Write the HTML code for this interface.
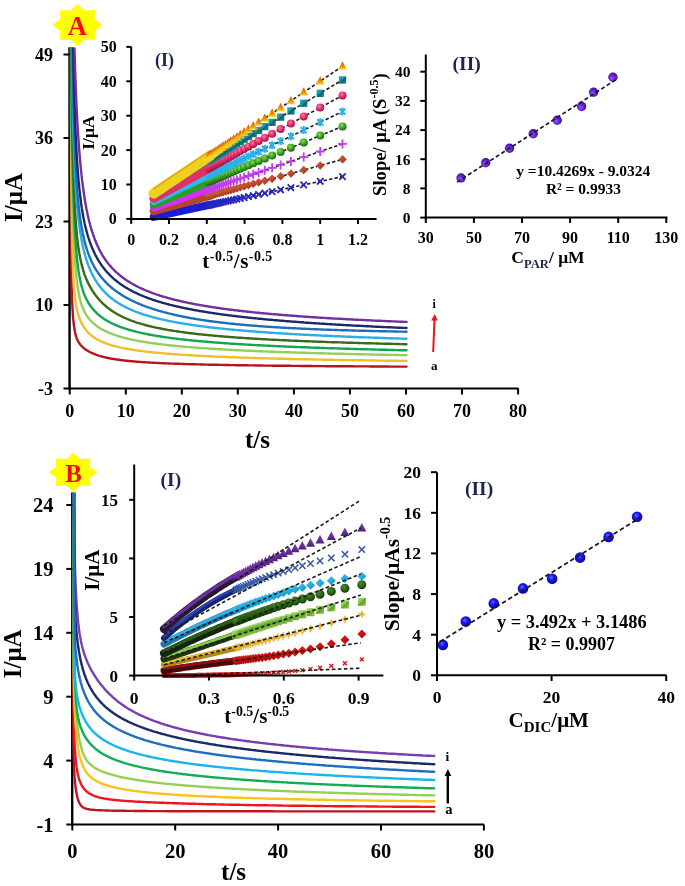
<!DOCTYPE html><html><head><meta charset="utf-8"><title>Chronoamperometry</title><style>html,body{margin:0;padding:0;background:#fff;}body{width:685px;height:886px;overflow:hidden;font-family:"Liberation Serif",serif;}svg{display:block;filter:blur(0.6px);}</style></head><body><svg width="685" height="886" viewBox="0 0 685 886" font-family="'Liberation Serif', serif"><defs>
<linearGradient id="gTri" x1="0" y1="0" x2="0" y2="1"><stop offset="0" stop-color="#c85a00"/><stop offset="0.65" stop-color="#f09010"/><stop offset="1" stop-color="#ffe020"/></linearGradient>
<linearGradient id="gSq" x1="0" y1="0" x2="1" y2="1"><stop offset="0" stop-color="#2ab0c0"/><stop offset="0.5" stop-color="#138898"/><stop offset="0.5" stop-color="#0c5c68"/><stop offset="1" stop-color="#1890a0"/></linearGradient>
<radialGradient id="gPink" cx="0.4" cy="0.35" r="0.65"><stop offset="0" stop-color="#ff7aa0"/><stop offset="0.6" stop-color="#e0286a"/><stop offset="1" stop-color="#a01040"/></radialGradient>
<radialGradient id="gGrn" cx="0.4" cy="0.35" r="0.65"><stop offset="0" stop-color="#80e050"/><stop offset="0.6" stop-color="#3aa020"/><stop offset="1" stop-color="#1c6010"/></radialGradient>
<linearGradient id="gDia" x1="0" y1="0" x2="1" y2="1"><stop offset="0" stop-color="#e06a40"/><stop offset="1" stop-color="#902a18"/></linearGradient>
<radialGradient id="gPur" cx="0.4" cy="0.6" r="0.65"><stop offset="0" stop-color="#9a50f8"/><stop offset="0.45" stop-color="#6a28d8"/><stop offset="0.85" stop-color="#4212a0"/><stop offset="1" stop-color="#2a0870"/></radialGradient>
<radialGradient id="gBlu" cx="0.42" cy="0.38" r="0.65"><stop offset="0" stop-color="#6068ff"/><stop offset="0.4" stop-color="#1818e8"/><stop offset="0.85" stop-color="#0a0ab0"/><stop offset="1" stop-color="#05057a"/></radialGradient>
<linearGradient id="gBTri" x1="0" y1="0" x2="0" y2="1"><stop offset="0" stop-color="#8040b8"/><stop offset="1" stop-color="#50207a"/></linearGradient>
<linearGradient id="gBDia" x1="0" y1="0" x2="1" y2="1"><stop offset="0" stop-color="#40c8f8"/><stop offset="1" stop-color="#0890c8"/></linearGradient>
<radialGradient id="gBGrn" cx="0.4" cy="0.35" r="0.65"><stop offset="0" stop-color="#4a8a30"/><stop offset="0.6" stop-color="#2a6014"/><stop offset="1" stop-color="#143808"/></radialGradient>
<linearGradient id="gBSq" x1="0" y1="0" x2="1" y2="1"><stop offset="0" stop-color="#a8e070"/><stop offset="0.5" stop-color="#80c040"/><stop offset="0.5" stop-color="#5a9a28"/><stop offset="1" stop-color="#90d050"/></linearGradient>
<linearGradient id="gBRed" x1="0" y1="0" x2="1" y2="1"><stop offset="0" stop-color="#f02020"/><stop offset="1" stop-color="#a00000"/></linearGradient>
<clipPath id="clip1"><rect x="66.7" y="47.6" width="344.8" height="340.9"/></clipPath><clipPath id="clip2"><rect x="69.3" y="492.8" width="369.9" height="331.7"/></clipPath></defs><rect width="685" height="886" fill="#fff"/>
<path d="M77.6,4.0 L84.7,10.6 L95.3,10.2 L94.7,19.1 L102.6,25.0 L94.7,30.9 L95.3,39.8 L84.7,39.4 L77.6,46.0 L70.5,39.4 L59.9,39.8 L60.5,30.9 L52.6,25.0 L60.5,19.1 L59.9,10.2 L70.5,10.6Z" fill="#ffff00"/>
<text x="77.4" y="34.6" font-size="26.5" text-anchor="middle" fill="#f01010" font-weight="bold" >A</text>
<line x1="153.8" y1="192.8" x2="342.5" y2="66.2" stroke="#1a1a1a" stroke-width="1.6" stroke-dasharray="3.4 2.2"/>
<line x1="153.8" y1="193.5" x2="342.5" y2="79.9" stroke="#1a1a1a" stroke-width="1.6" stroke-dasharray="3.4 2.2"/>
<line x1="153.8" y1="198.3" x2="342.5" y2="95.4" stroke="#1a1a1a" stroke-width="1.6" stroke-dasharray="3.4 2.2"/>
<line x1="153.8" y1="201.7" x2="342.5" y2="111.6" stroke="#1a1a1a" stroke-width="1.6" stroke-dasharray="3.4 2.2"/>
<line x1="153.8" y1="204.5" x2="342.5" y2="126.4" stroke="#1a1a1a" stroke-width="1.6" stroke-dasharray="3.4 2.2"/>
<line x1="153.8" y1="207.9" x2="342.5" y2="143.9" stroke="#1a1a1a" stroke-width="1.6" stroke-dasharray="3.4 2.2"/>
<line x1="153.8" y1="211.0" x2="342.5" y2="159.4" stroke="#1a1a1a" stroke-width="1.6" stroke-dasharray="3.4 2.2"/>
<line x1="153.8" y1="216.9" x2="342.5" y2="176.6" stroke="#1a1a1a" stroke-width="1.6" stroke-dasharray="3.4 2.2"/>
<path d="M153.8,216.9 L210.6,204.7" stroke="#1c1cd0" stroke-width="8" stroke-linecap="round" fill="none"/>
<path d="M205.2,202.0L211.6,208.4M205.2,208.4L211.6,202.0" stroke="#2626c0" stroke-width="1.8" fill="none"/><path d="M206.5,201.7L212.9,208.1M206.5,208.1L212.9,201.7" stroke="#2626c0" stroke-width="1.8" fill="none"/><path d="M207.9,201.4L214.3,207.8M207.9,207.8L214.3,201.4" stroke="#2626c0" stroke-width="1.8" fill="none"/><path d="M209.3,201.1L215.7,207.5M209.3,207.5L215.7,201.1" stroke="#2626c0" stroke-width="1.8" fill="none"/><path d="M210.9,200.8L217.3,207.2M210.9,207.2L217.3,200.8" stroke="#2626c0" stroke-width="1.8" fill="none"/><path d="M212.5,200.4L218.9,206.8M212.5,206.8L218.9,200.4" stroke="#2626c0" stroke-width="1.8" fill="none"/><path d="M214.3,200.1L220.7,206.5M214.3,206.5L220.7,200.1" stroke="#2626c0" stroke-width="1.8" fill="none"/><path d="M216.1,199.7L222.5,206.1M216.1,206.1L222.5,199.7" stroke="#2626c0" stroke-width="1.8" fill="none"/><path d="M218.1,199.2L224.5,205.6M218.1,205.6L224.5,199.2" stroke="#2626c0" stroke-width="1.8" fill="none"/><path d="M220.2,198.8L226.6,205.2M220.2,205.2L226.6,198.8" stroke="#2626c0" stroke-width="1.8" fill="none"/><path d="M222.5,198.3L228.9,204.7M222.5,204.7L228.9,198.3" stroke="#2626c0" stroke-width="1.8" fill="none"/><path d="M225.0,197.8L231.4,204.2M225.0,204.2L231.4,197.8" stroke="#2626c0" stroke-width="1.8" fill="none"/><path d="M227.6,197.2L234.0,203.6M227.6,203.6L234.0,197.2" stroke="#2626c0" stroke-width="1.8" fill="none"/><path d="M230.5,196.6L236.9,203.0M230.5,203.0L236.9,196.6" stroke="#2626c0" stroke-width="1.8" fill="none"/><path d="M233.7,195.9L240.1,202.3M233.7,202.3L240.1,195.9" stroke="#2626c0" stroke-width="1.8" fill="none"/><path d="M237.1,195.2L243.5,201.6M237.1,201.6L243.5,195.2" stroke="#2626c0" stroke-width="1.8" fill="none"/><path d="M240.9,194.4L247.3,200.8M240.9,200.8L247.3,194.4" stroke="#2626c0" stroke-width="1.8" fill="none"/><path d="M245.2,193.5L251.6,199.9M245.2,199.9L251.6,193.5" stroke="#2626c0" stroke-width="1.8" fill="none"/><path d="M250.0,192.4L256.4,198.8M250.0,198.8L256.4,192.4" stroke="#2626c0" stroke-width="1.8" fill="none"/><path d="M255.4,191.3L261.8,197.7M255.4,197.7L261.8,191.3" stroke="#2626c0" stroke-width="1.8" fill="none"/><path d="M261.6,190.0L268.0,196.4M261.6,196.4L268.0,190.0" stroke="#2626c0" stroke-width="1.8" fill="none"/><path d="M268.9,188.4L275.3,194.8M268.9,194.8L275.3,188.4" stroke="#2626c0" stroke-width="1.8" fill="none"/><path d="M277.4,186.6L283.8,193.0M277.4,193.0L283.8,186.6" stroke="#2626c0" stroke-width="1.8" fill="none"/><path d="M287.7,184.4L294.1,190.8M287.7,190.8L294.1,184.4" stroke="#2626c0" stroke-width="1.8" fill="none"/><path d="M300.5,181.7L306.9,188.1M300.5,188.1L306.9,181.7" stroke="#2626c0" stroke-width="1.8" fill="none"/><path d="M317.0,178.1L323.4,184.5M317.0,184.5L323.4,178.1" stroke="#2626c0" stroke-width="1.8" fill="none"/><path d="M339.3,173.4L345.7,179.8M339.3,179.8L345.7,173.4" stroke="#2626c0" stroke-width="1.8" fill="none"/>
<path d="M153.8,211.0 L210.6,195.5" stroke="#b4452a" stroke-width="8.5" stroke-linecap="round" fill="none"/>
<path d="M208.4,191.8 L212.6,196.1 L208.4,200.3 L204.1,196.1Z" fill="url(#gDia)"/><path d="M209.7,191.5 L213.9,195.7 L209.7,200.0 L205.4,195.7Z" fill="url(#gDia)"/><path d="M211.1,191.1 L215.3,195.3 L211.1,199.6 L206.8,195.3Z" fill="url(#gDia)"/><path d="M212.5,190.7 L216.8,194.9 L212.5,199.2 L208.3,194.9Z" fill="url(#gDia)"/><path d="M214.1,190.3 L218.3,194.5 L214.1,198.8 L209.8,194.5Z" fill="url(#gDia)"/><path d="M215.7,189.8 L220.0,194.1 L215.7,198.3 L211.5,194.1Z" fill="url(#gDia)"/><path d="M217.5,189.3 L221.7,193.6 L217.5,197.8 L213.2,193.6Z" fill="url(#gDia)"/><path d="M219.3,188.8 L223.6,193.1 L219.3,197.3 L215.1,193.1Z" fill="url(#gDia)"/><path d="M221.3,188.3 L225.6,192.5 L221.3,196.8 L217.1,192.5Z" fill="url(#gDia)"/><path d="M223.4,187.7 L227.7,192.0 L223.4,196.2 L219.2,192.0Z" fill="url(#gDia)"/><path d="M225.7,187.1 L229.9,191.3 L225.7,195.6 L221.4,191.3Z" fill="url(#gDia)"/><path d="M228.2,186.4 L232.4,190.7 L228.2,194.9 L223.9,190.7Z" fill="url(#gDia)"/><path d="M230.8,185.7 L235.1,189.9 L230.8,194.2 L226.6,189.9Z" fill="url(#gDia)"/><path d="M233.7,184.9 L237.9,189.2 L233.7,193.4 L229.4,189.2Z" fill="url(#gDia)"/><path d="M236.9,184.0 L241.1,188.3 L236.9,192.5 L232.6,188.3Z" fill="url(#gDia)"/><path d="M240.3,183.1 L244.6,187.3 L240.3,191.6 L236.1,187.3Z" fill="url(#gDia)"/><path d="M244.1,182.0 L248.4,186.3 L244.1,190.5 L239.9,186.3Z" fill="url(#gDia)"/><path d="M248.4,180.9 L252.7,185.1 L248.4,189.4 L244.2,185.1Z" fill="url(#gDia)"/><path d="M253.2,179.6 L257.4,183.8 L253.2,188.1 L248.9,183.8Z" fill="url(#gDia)"/><path d="M258.6,178.1 L262.9,182.3 L258.6,186.6 L254.4,182.3Z" fill="url(#gDia)"/><path d="M264.8,176.4 L269.1,180.6 L264.8,184.9 L260.6,180.6Z" fill="url(#gDia)"/><path d="M272.1,174.4 L276.3,178.7 L272.1,182.9 L267.8,178.7Z" fill="url(#gDia)"/><path d="M280.6,172.1 L284.9,176.3 L280.6,180.6 L276.4,176.3Z" fill="url(#gDia)"/><path d="M290.9,169.2 L295.2,173.5 L290.9,177.7 L286.7,173.5Z" fill="url(#gDia)"/><path d="M303.7,165.7 L308.0,170.0 L303.7,174.2 L299.5,170.0Z" fill="url(#gDia)"/><path d="M320.2,161.2 L324.4,165.5 L320.2,169.7 L315.9,165.5Z" fill="url(#gDia)"/><path d="M342.5,155.1 L346.8,159.4 L342.5,163.6 L338.3,159.4Z" fill="url(#gDia)"/>
<path d="M153.8,207.9 L210.6,188.7" stroke="#d030f8" stroke-width="7.5" stroke-linecap="round" fill="none"/>
<path d="M203.9,189.4H212.9M208.4,184.9V193.9" stroke="#c03ef0" stroke-width="1.8" fill="none"/><path d="M205.2,189.0H214.2M209.7,184.5V193.5" stroke="#c03ef0" stroke-width="1.8" fill="none"/><path d="M206.6,188.5H215.6M211.1,184.0V193.0" stroke="#c03ef0" stroke-width="1.8" fill="none"/><path d="M208.0,188.0H217.0M212.5,183.5V192.5" stroke="#c03ef0" stroke-width="1.8" fill="none"/><path d="M209.6,187.5H218.6M214.1,183.0V192.0" stroke="#c03ef0" stroke-width="1.8" fill="none"/><path d="M211.2,186.9H220.2M215.7,182.4V191.4" stroke="#c03ef0" stroke-width="1.8" fill="none"/><path d="M213.0,186.3H222.0M217.5,181.8V190.8" stroke="#c03ef0" stroke-width="1.8" fill="none"/><path d="M214.8,185.7H223.8M219.3,181.2V190.2" stroke="#c03ef0" stroke-width="1.8" fill="none"/><path d="M216.8,185.0H225.8M221.3,180.5V189.5" stroke="#c03ef0" stroke-width="1.8" fill="none"/><path d="M218.9,184.3H227.9M223.4,179.8V188.8" stroke="#c03ef0" stroke-width="1.8" fill="none"/><path d="M221.2,183.5H230.2M225.7,179.0V188.0" stroke="#c03ef0" stroke-width="1.8" fill="none"/><path d="M223.7,182.7H232.7M228.2,178.2V187.2" stroke="#c03ef0" stroke-width="1.8" fill="none"/><path d="M226.3,181.8H235.3M230.8,177.3V186.3" stroke="#c03ef0" stroke-width="1.8" fill="none"/><path d="M229.2,180.8H238.2M233.7,176.3V185.3" stroke="#c03ef0" stroke-width="1.8" fill="none"/><path d="M232.4,179.7H241.4M236.9,175.2V184.2" stroke="#c03ef0" stroke-width="1.8" fill="none"/><path d="M235.8,178.6H244.8M240.3,174.1V183.1" stroke="#c03ef0" stroke-width="1.8" fill="none"/><path d="M239.6,177.3H248.6M244.1,172.8V181.8" stroke="#c03ef0" stroke-width="1.8" fill="none"/><path d="M243.9,175.8H252.9M248.4,171.3V180.3" stroke="#c03ef0" stroke-width="1.8" fill="none"/><path d="M248.7,174.2H257.7M253.2,169.7V178.7" stroke="#c03ef0" stroke-width="1.8" fill="none"/><path d="M254.1,172.4H263.1M258.6,167.9V176.9" stroke="#c03ef0" stroke-width="1.8" fill="none"/><path d="M260.3,170.3H269.3M264.8,165.8V174.8" stroke="#c03ef0" stroke-width="1.8" fill="none"/><path d="M267.6,167.8H276.6M272.1,163.3V172.3" stroke="#c03ef0" stroke-width="1.8" fill="none"/><path d="M276.1,164.9H285.1M280.6,160.4V169.4" stroke="#c03ef0" stroke-width="1.8" fill="none"/><path d="M286.4,161.4H295.4M290.9,156.9V165.9" stroke="#c03ef0" stroke-width="1.8" fill="none"/><path d="M299.2,157.1H308.2M303.7,152.6V161.6" stroke="#c03ef0" stroke-width="1.8" fill="none"/><path d="M315.7,151.5H324.7M320.2,147.0V156.0" stroke="#c03ef0" stroke-width="1.8" fill="none"/><path d="M338.0,143.9H347.0M342.5,139.4V148.4" stroke="#c03ef0" stroke-width="1.8" fill="none"/>
<path d="M153.8,204.5 L210.6,181.0" stroke="#2a9e1e" stroke-width="8" stroke-linecap="round" fill="none"/>
<circle cx="208.4" cy="181.9" r="4.0" fill="url(#gGrn)"/><circle cx="209.7" cy="181.4" r="4.0" fill="url(#gGrn)"/><circle cx="211.1" cy="180.8" r="4.0" fill="url(#gGrn)"/><circle cx="212.5" cy="180.2" r="4.0" fill="url(#gGrn)"/><circle cx="214.1" cy="179.5" r="4.0" fill="url(#gGrn)"/><circle cx="215.7" cy="178.8" r="4.0" fill="url(#gGrn)"/><circle cx="217.5" cy="178.1" r="4.0" fill="url(#gGrn)"/><circle cx="219.3" cy="177.4" r="4.0" fill="url(#gGrn)"/><circle cx="221.3" cy="176.5" r="4.0" fill="url(#gGrn)"/><circle cx="223.4" cy="175.7" r="4.0" fill="url(#gGrn)"/><circle cx="225.7" cy="174.7" r="4.0" fill="url(#gGrn)"/><circle cx="228.2" cy="173.7" r="4.0" fill="url(#gGrn)"/><circle cx="230.8" cy="172.6" r="4.0" fill="url(#gGrn)"/><circle cx="233.7" cy="171.4" r="4.0" fill="url(#gGrn)"/><circle cx="236.9" cy="170.1" r="4.0" fill="url(#gGrn)"/><circle cx="240.3" cy="168.7" r="4.0" fill="url(#gGrn)"/><circle cx="244.1" cy="167.1" r="4.0" fill="url(#gGrn)"/><circle cx="248.4" cy="165.3" r="4.0" fill="url(#gGrn)"/><circle cx="253.2" cy="163.3" r="4.0" fill="url(#gGrn)"/><circle cx="258.6" cy="161.1" r="4.0" fill="url(#gGrn)"/><circle cx="264.8" cy="158.5" r="4.0" fill="url(#gGrn)"/><circle cx="272.1" cy="155.5" r="4.0" fill="url(#gGrn)"/><circle cx="280.6" cy="152.0" r="4.0" fill="url(#gGrn)"/><circle cx="290.9" cy="147.7" r="4.0" fill="url(#gGrn)"/><circle cx="303.7" cy="142.4" r="4.0" fill="url(#gGrn)"/><circle cx="320.2" cy="135.6" r="4.0" fill="url(#gGrn)"/><circle cx="342.5" cy="126.4" r="4.0" fill="url(#gGrn)"/>
<path d="M153.8,201.7 L210.6,174.6" stroke="#30b8ee" stroke-width="7" stroke-linecap="round" fill="none"/>
<path d="M208.4,171.7V179.7M205.4,172.7L211.4,178.7M205.4,178.7L211.4,172.7" stroke="#2ab0ea" stroke-width="2" fill="none"/><path d="M209.7,171.0V179.0M206.7,172.0L212.7,178.0M206.7,178.0L212.7,172.0" stroke="#2ab0ea" stroke-width="2" fill="none"/><path d="M211.1,170.4V178.4M208.1,171.4L214.1,177.4M208.1,177.4L214.1,171.4" stroke="#2ab0ea" stroke-width="2" fill="none"/><path d="M212.5,169.7V177.7M209.5,170.7L215.5,176.7M209.5,176.7L215.5,170.7" stroke="#2ab0ea" stroke-width="2" fill="none"/><path d="M214.1,168.9V176.9M211.1,169.9L217.1,175.9M211.1,175.9L217.1,169.9" stroke="#2ab0ea" stroke-width="2" fill="none"/><path d="M215.7,168.1V176.1M212.7,169.1L218.7,175.1M212.7,175.1L218.7,169.1" stroke="#2ab0ea" stroke-width="2" fill="none"/><path d="M217.5,167.3V175.3M214.5,168.3L220.5,174.3M214.5,174.3L220.5,168.3" stroke="#2ab0ea" stroke-width="2" fill="none"/><path d="M219.3,166.4V174.4M216.3,167.4L222.3,173.4M216.3,173.4L222.3,167.4" stroke="#2ab0ea" stroke-width="2" fill="none"/><path d="M221.3,165.5V173.5M218.3,166.5L224.3,172.5M218.3,172.5L224.3,166.5" stroke="#2ab0ea" stroke-width="2" fill="none"/><path d="M223.4,164.5V172.5M220.4,165.5L226.4,171.5M220.4,171.5L226.4,165.5" stroke="#2ab0ea" stroke-width="2" fill="none"/><path d="M225.7,163.4V171.4M222.7,164.4L228.7,170.4M222.7,170.4L228.7,164.4" stroke="#2ab0ea" stroke-width="2" fill="none"/><path d="M228.2,162.2V170.2M225.2,163.2L231.2,169.2M225.2,169.2L231.2,163.2" stroke="#2ab0ea" stroke-width="2" fill="none"/><path d="M230.8,160.9V168.9M227.8,161.9L233.8,167.9M227.8,167.9L233.8,161.9" stroke="#2ab0ea" stroke-width="2" fill="none"/><path d="M233.7,159.6V167.6M230.7,160.6L236.7,166.6M230.7,166.6L236.7,160.6" stroke="#2ab0ea" stroke-width="2" fill="none"/><path d="M236.9,158.1V166.1M233.9,159.1L239.9,165.1M233.9,165.1L239.9,159.1" stroke="#2ab0ea" stroke-width="2" fill="none"/><path d="M240.3,156.4V164.4M237.3,157.4L243.3,163.4M237.3,163.4L243.3,157.4" stroke="#2ab0ea" stroke-width="2" fill="none"/><path d="M244.1,154.6V162.6M241.1,155.6L247.1,161.6M241.1,161.6L247.1,155.6" stroke="#2ab0ea" stroke-width="2" fill="none"/><path d="M248.4,152.5V160.5M245.4,153.5L251.4,159.5M245.4,159.5L251.4,153.5" stroke="#2ab0ea" stroke-width="2" fill="none"/><path d="M253.2,150.2V158.2M250.2,151.2L256.2,157.2M250.2,157.2L256.2,151.2" stroke="#2ab0ea" stroke-width="2" fill="none"/><path d="M258.6,147.7V155.7M255.6,148.7L261.6,154.7M255.6,154.7L261.6,148.7" stroke="#2ab0ea" stroke-width="2" fill="none"/><path d="M264.8,144.7V152.7M261.8,145.7L267.8,151.7M261.8,151.7L267.8,145.7" stroke="#2ab0ea" stroke-width="2" fill="none"/><path d="M272.1,141.2V149.2M269.1,142.2L275.1,148.2M269.1,148.2L275.1,142.2" stroke="#2ab0ea" stroke-width="2" fill="none"/><path d="M280.6,137.1V145.1M277.6,138.1L283.6,144.1M277.6,144.1L283.6,138.1" stroke="#2ab0ea" stroke-width="2" fill="none"/><path d="M290.9,132.2V140.2M287.9,133.2L293.9,139.2M287.9,139.2L293.9,133.2" stroke="#2ab0ea" stroke-width="2" fill="none"/><path d="M303.7,126.1V134.1M300.7,127.1L306.7,133.1M300.7,133.1L306.7,127.1" stroke="#2ab0ea" stroke-width="2" fill="none"/><path d="M320.2,118.2V126.2M317.2,119.2L323.2,125.2M317.2,125.2L323.2,119.2" stroke="#2ab0ea" stroke-width="2" fill="none"/><path d="M342.5,107.6V115.6M339.5,108.6L345.5,114.6M339.5,114.6L345.5,108.6" stroke="#2ab0ea" stroke-width="2" fill="none"/>
<path d="M153.8,198.3 L210.6,167.3" stroke="#e0306c" stroke-width="9" stroke-linecap="round" fill="none"/>
<circle cx="208.4" cy="168.6" r="4.0" fill="url(#gPink)"/><circle cx="209.7" cy="167.8" r="4.0" fill="url(#gPink)"/><circle cx="211.1" cy="167.1" r="4.0" fill="url(#gPink)"/><circle cx="212.5" cy="166.3" r="4.0" fill="url(#gPink)"/><circle cx="214.1" cy="165.4" r="4.0" fill="url(#gPink)"/><circle cx="215.7" cy="164.5" r="4.0" fill="url(#gPink)"/><circle cx="217.5" cy="163.6" r="4.0" fill="url(#gPink)"/><circle cx="219.3" cy="162.6" r="4.0" fill="url(#gPink)"/><circle cx="221.3" cy="161.5" r="4.0" fill="url(#gPink)"/><circle cx="223.4" cy="160.3" r="4.0" fill="url(#gPink)"/><circle cx="225.7" cy="159.1" r="4.0" fill="url(#gPink)"/><circle cx="228.2" cy="157.8" r="4.0" fill="url(#gPink)"/><circle cx="230.8" cy="156.3" r="4.0" fill="url(#gPink)"/><circle cx="233.7" cy="154.7" r="4.0" fill="url(#gPink)"/><circle cx="236.9" cy="153.0" r="4.0" fill="url(#gPink)"/><circle cx="240.3" cy="151.1" r="4.0" fill="url(#gPink)"/><circle cx="244.1" cy="149.0" r="4.0" fill="url(#gPink)"/><circle cx="248.4" cy="146.7" r="4.0" fill="url(#gPink)"/><circle cx="253.2" cy="144.1" r="4.0" fill="url(#gPink)"/><circle cx="258.6" cy="141.1" r="4.0" fill="url(#gPink)"/><circle cx="264.8" cy="137.8" r="4.0" fill="url(#gPink)"/><circle cx="272.1" cy="133.8" r="4.0" fill="url(#gPink)"/><circle cx="280.6" cy="129.1" r="4.0" fill="url(#gPink)"/><circle cx="290.9" cy="123.5" r="4.0" fill="url(#gPink)"/><circle cx="303.7" cy="116.5" r="4.0" fill="url(#gPink)"/><circle cx="320.2" cy="107.6" r="4.0" fill="url(#gPink)"/><circle cx="342.5" cy="95.4" r="4.0" fill="url(#gPink)"/>
<path d="M153.8,193.5 L210.6,159.3" stroke="#1898a8" stroke-width="5.5" stroke-linecap="round" fill="none"/>
<rect x="204.7" y="157.0" width="7.3" height="7.3" fill="url(#gSq)"/><rect x="206.0" y="156.2" width="7.3" height="7.3" fill="url(#gSq)"/><rect x="207.4" y="155.4" width="7.3" height="7.3" fill="url(#gSq)"/><rect x="208.9" y="154.5" width="7.3" height="7.3" fill="url(#gSq)"/><rect x="210.4" y="153.6" width="7.3" height="7.3" fill="url(#gSq)"/><rect x="212.1" y="152.6" width="7.3" height="7.3" fill="url(#gSq)"/><rect x="213.8" y="151.5" width="7.3" height="7.3" fill="url(#gSq)"/><rect x="215.7" y="150.4" width="7.3" height="7.3" fill="url(#gSq)"/><rect x="217.7" y="149.2" width="7.3" height="7.3" fill="url(#gSq)"/><rect x="219.8" y="147.9" width="7.3" height="7.3" fill="url(#gSq)"/><rect x="222.0" y="146.6" width="7.3" height="7.3" fill="url(#gSq)"/><rect x="224.5" y="145.1" width="7.3" height="7.3" fill="url(#gSq)"/><rect x="227.2" y="143.5" width="7.3" height="7.3" fill="url(#gSq)"/><rect x="230.0" y="141.8" width="7.3" height="7.3" fill="url(#gSq)"/><rect x="233.2" y="139.9" width="7.3" height="7.3" fill="url(#gSq)"/><rect x="236.7" y="137.8" width="7.3" height="7.3" fill="url(#gSq)"/><rect x="240.5" y="135.5" width="7.3" height="7.3" fill="url(#gSq)"/><rect x="244.8" y="132.9" width="7.3" height="7.3" fill="url(#gSq)"/><rect x="249.5" y="130.0" width="7.3" height="7.3" fill="url(#gSq)"/><rect x="255.0" y="126.8" width="7.3" height="7.3" fill="url(#gSq)"/><rect x="261.2" y="123.0" width="7.3" height="7.3" fill="url(#gSq)"/><rect x="268.4" y="118.7" width="7.3" height="7.3" fill="url(#gSq)"/><rect x="277.0" y="113.5" width="7.3" height="7.3" fill="url(#gSq)"/><rect x="287.3" y="107.3" width="7.3" height="7.3" fill="url(#gSq)"/><rect x="300.1" y="99.6" width="7.3" height="7.3" fill="url(#gSq)"/><rect x="316.6" y="89.7" width="7.3" height="7.3" fill="url(#gSq)"/><rect x="338.9" y="76.3" width="7.3" height="7.3" fill="url(#gSq)"/>
<path d="M153.8,193.4 L210.6,155.3" stroke="#ecd21c" stroke-width="10.5" stroke-linecap="round" fill="none"/>
<path d="M153.8,188.6 L210.6,150.5" stroke="#e8a018" stroke-width="1.5" stroke-linecap="round" fill="none"/>
<path d="M208.4,151.3 L212.8,159.7 L204.0,159.7Z" fill="url(#gTri)"/><path d="M209.7,150.4 L214.1,158.8 L205.3,158.8Z" fill="url(#gTri)"/><path d="M211.1,149.5 L215.5,157.9 L206.7,157.9Z" fill="url(#gTri)"/><path d="M212.5,148.5 L216.9,156.9 L208.1,156.9Z" fill="url(#gTri)"/><path d="M214.1,147.5 L218.5,155.9 L209.7,155.9Z" fill="url(#gTri)"/><path d="M215.7,146.4 L220.1,154.8 L211.3,154.8Z" fill="url(#gTri)"/><path d="M217.5,145.2 L221.9,153.6 L213.1,153.6Z" fill="url(#gTri)"/><path d="M219.3,143.9 L223.7,152.4 L214.9,152.4Z" fill="url(#gTri)"/><path d="M221.3,142.6 L225.7,151.0 L216.9,151.0Z" fill="url(#gTri)"/><path d="M223.4,141.2 L227.8,149.6 L219.0,149.6Z" fill="url(#gTri)"/><path d="M225.7,139.7 L230.1,148.1 L221.3,148.1Z" fill="url(#gTri)"/><path d="M228.2,138.0 L232.6,146.4 L223.8,146.4Z" fill="url(#gTri)"/><path d="M230.8,136.2 L235.2,144.6 L226.4,144.6Z" fill="url(#gTri)"/><path d="M233.7,134.3 L238.1,142.7 L229.3,142.7Z" fill="url(#gTri)"/><path d="M236.9,132.2 L241.3,140.6 L232.5,140.6Z" fill="url(#gTri)"/><path d="M240.3,129.8 L244.7,138.3 L235.9,138.3Z" fill="url(#gTri)"/><path d="M244.1,127.3 L248.5,135.7 L239.7,135.7Z" fill="url(#gTri)"/><path d="M248.4,124.4 L252.8,132.8 L244.0,132.8Z" fill="url(#gTri)"/><path d="M253.2,121.2 L257.6,129.6 L248.8,129.6Z" fill="url(#gTri)"/><path d="M258.6,117.6 L263.0,126.0 L254.2,126.0Z" fill="url(#gTri)"/><path d="M264.8,113.4 L269.2,121.8 L260.4,121.8Z" fill="url(#gTri)"/><path d="M272.1,108.5 L276.5,117.0 L267.7,117.0Z" fill="url(#gTri)"/><path d="M280.6,102.8 L285.0,111.2 L276.2,111.2Z" fill="url(#gTri)"/><path d="M290.9,95.9 L295.3,104.3 L286.5,104.3Z" fill="url(#gTri)"/><path d="M303.7,87.3 L308.1,95.7 L299.3,95.7Z" fill="url(#gTri)"/><path d="M320.2,76.2 L324.6,84.7 L315.8,84.7Z" fill="url(#gTri)"/><path d="M342.5,61.3 L346.9,69.7 L338.1,69.7Z" fill="url(#gTri)"/>
<line x1="131.2" y1="46.7" x2="131.2" y2="219.9" stroke="#000" stroke-width="2" />
<line x1="130.2" y1="218.9" x2="376.6" y2="218.9" stroke="#000" stroke-width="2" />
<line x1="126.3" y1="218.9" x2="131.2" y2="218.9" stroke="#000" stroke-width="2" />
<text x="116.8" y="224.4" font-size="16" text-anchor="end" fill="#000" font-weight="bold" >0</text>
<line x1="126.3" y1="184.5" x2="131.2" y2="184.5" stroke="#000" stroke-width="2" />
<text x="116.8" y="190" font-size="16" text-anchor="end" fill="#000" font-weight="bold" >10</text>
<line x1="126.3" y1="150.1" x2="131.2" y2="150.1" stroke="#000" stroke-width="2" />
<text x="116.8" y="155.6" font-size="16" text-anchor="end" fill="#000" font-weight="bold" >20</text>
<line x1="126.3" y1="115.7" x2="131.2" y2="115.7" stroke="#000" stroke-width="2" />
<text x="116.8" y="121.2" font-size="16" text-anchor="end" fill="#000" font-weight="bold" >30</text>
<line x1="126.3" y1="81.3" x2="131.2" y2="81.3" stroke="#000" stroke-width="2" />
<text x="116.8" y="86.8" font-size="16" text-anchor="end" fill="#000" font-weight="bold" >40</text>
<line x1="126.3" y1="46.9" x2="131.2" y2="46.9" stroke="#000" stroke-width="2" />
<text x="116.8" y="52.4" font-size="16" text-anchor="end" fill="#000" font-weight="bold" >50</text>
<line x1="131.2" y1="218.9" x2="131.2" y2="223.9" stroke="#000" stroke-width="2" />
<text x="131.2" y="245" font-size="16" text-anchor="middle" fill="#000" font-weight="bold" >0</text>
<line x1="169" y1="218.9" x2="169" y2="223.9" stroke="#000" stroke-width="2" />
<text x="169" y="245" font-size="16" text-anchor="middle" fill="#000" font-weight="bold" >0.2</text>
<line x1="206.8" y1="218.9" x2="206.8" y2="223.9" stroke="#000" stroke-width="2" />
<text x="206.8" y="245" font-size="16" text-anchor="middle" fill="#000" font-weight="bold" >0.4</text>
<line x1="244.6" y1="218.9" x2="244.6" y2="223.9" stroke="#000" stroke-width="2" />
<text x="244.6" y="245" font-size="16" text-anchor="middle" fill="#000" font-weight="bold" >0.6</text>
<line x1="282.4" y1="218.9" x2="282.4" y2="223.9" stroke="#000" stroke-width="2" />
<text x="282.4" y="245" font-size="16" text-anchor="middle" fill="#000" font-weight="bold" >0.8</text>
<line x1="320.2" y1="218.9" x2="320.2" y2="223.9" stroke="#000" stroke-width="2" />
<text x="320.2" y="245" font-size="16" text-anchor="middle" fill="#000" font-weight="bold" >1</text>
<line x1="358" y1="218.9" x2="358" y2="223.9" stroke="#000" stroke-width="2" />
<text x="358" y="245" font-size="16" text-anchor="middle" fill="#000" font-weight="bold" >1.2</text>
<text x="155" y="66" font-size="18" text-anchor="start" fill="#1b2550" font-weight="bold" >(I)</text>
<text x="94.4" y="132.6" font-size="17.5" text-anchor="middle" fill="#000" font-weight="bold" transform="rotate(-90 94.4 132.6)">I/&#956;A</text>
<text x="202.3" y="267.9" font-size="21" text-anchor="start" font-weight="bold" letter-spacing="0.5"><tspan dy="0">t</tspan><tspan dy="-6.9" font-size="13.9">-0.5</tspan><tspan dy="6.9">/s</tspan><tspan dy="-6.9" font-size="13.9">-0.5</tspan></text>
<circle cx="461" cy="178" r="4.7" fill="url(#gPur)"/>
<circle cx="485.7" cy="162.7" r="4.7" fill="url(#gPur)"/>
<circle cx="509.5" cy="148.2" r="4.7" fill="url(#gPur)"/>
<circle cx="533.2" cy="133.8" r="4.7" fill="url(#gPur)"/>
<circle cx="557.2" cy="120.3" r="4.7" fill="url(#gPur)"/>
<circle cx="581.6" cy="106.5" r="4.7" fill="url(#gPur)"/>
<circle cx="593.6" cy="92.2" r="4.7" fill="url(#gPur)"/>
<circle cx="612.9" cy="77.3" r="4.7" fill="url(#gPur)"/>
<line x1="457" y1="182.1" x2="615.5" y2="79.9" stroke="#1a1a1a" stroke-width="1.7" stroke-dasharray="4 2.6"/>
<line x1="425.8" y1="54.5" x2="425.8" y2="218.6" stroke="#000" stroke-width="2" />
<line x1="424.8" y1="217.6" x2="667.4" y2="217.6" stroke="#000" stroke-width="2" />
<line x1="420.3" y1="217.6" x2="425.8" y2="217.6" stroke="#000" stroke-width="2" />
<text x="410.5" y="222.9" font-size="15.5" text-anchor="end" fill="#000" font-weight="bold" >0</text>
<line x1="420.3" y1="188.4" x2="425.8" y2="188.4" stroke="#000" stroke-width="2" />
<text x="410.5" y="193.7" font-size="15.5" text-anchor="end" fill="#000" font-weight="bold" >8</text>
<line x1="420.3" y1="159.2" x2="425.8" y2="159.2" stroke="#000" stroke-width="2" />
<text x="410.5" y="164.5" font-size="15.5" text-anchor="end" fill="#000" font-weight="bold" >16</text>
<line x1="420.3" y1="130.1" x2="425.8" y2="130.1" stroke="#000" stroke-width="2" />
<text x="410.5" y="135.4" font-size="15.5" text-anchor="end" fill="#000" font-weight="bold" >24</text>
<line x1="420.3" y1="100.9" x2="425.8" y2="100.9" stroke="#000" stroke-width="2" />
<text x="410.5" y="106.2" font-size="15.5" text-anchor="end" fill="#000" font-weight="bold" >32</text>
<line x1="420.3" y1="71.7" x2="425.8" y2="71.7" stroke="#000" stroke-width="2" />
<text x="410.5" y="77" font-size="15.5" text-anchor="end" fill="#000" font-weight="bold" >40</text>
<line x1="425.8" y1="217.6" x2="425.8" y2="223" stroke="#000" stroke-width="2" />
<text x="425.8" y="243.3" font-size="16" text-anchor="middle" fill="#000" font-weight="bold" >30</text>
<line x1="473.9" y1="217.6" x2="473.9" y2="223" stroke="#000" stroke-width="2" />
<text x="473.9" y="243.3" font-size="16" text-anchor="middle" fill="#000" font-weight="bold" >50</text>
<line x1="522" y1="217.6" x2="522" y2="223" stroke="#000" stroke-width="2" />
<text x="522" y="243.3" font-size="16" text-anchor="middle" fill="#000" font-weight="bold" >70</text>
<line x1="570.1" y1="217.6" x2="570.1" y2="223" stroke="#000" stroke-width="2" />
<text x="570.1" y="243.3" font-size="16" text-anchor="middle" fill="#000" font-weight="bold" >90</text>
<line x1="618.2" y1="217.6" x2="618.2" y2="223" stroke="#000" stroke-width="2" />
<text x="618.2" y="243.3" font-size="16" text-anchor="middle" fill="#000" font-weight="bold" >110</text>
<line x1="666.3" y1="217.6" x2="666.3" y2="223" stroke="#000" stroke-width="2" />
<text x="666.3" y="243.3" font-size="16" text-anchor="middle" fill="#000" font-weight="bold" >130</text>
<text x="452.6" y="69.6" font-size="19.5" text-anchor="start" fill="#1b2550" font-weight="bold" >(II)</text>
<text x="386.3" y="195.9" font-size="18.6" text-anchor="start" font-weight="bold" transform="rotate(-90 386.3 195.9)"><tspan dy="0">Slope/ &#956;A (S</tspan><tspan dy="-7.8" font-size="12.1">-0.5</tspan><tspan dy="7.8">)</tspan></text>
<text x="511.3" y="263.4" font-size="17.5" text-anchor="start" font-weight="bold" ><tspan dy="0">C</tspan><tspan dy="4.4" font-size="12.6" fill="#1b2550">PAR</tspan><tspan dy="-4.4">/ &#956;M</tspan></text>
<text x="516.2" y="176" font-size="15.5" text-anchor="start" fill="#000" font-weight="bold" >y =10.4269x - 9.0324</text>
<text x="545.9" y="193.5" font-size="15.5" text-anchor="start" fill="#000" font-weight="bold" >R&#178; = 0.9933</text>
<line x1="69.7" y1="47.6" x2="69.7" y2="389.5" stroke="#000" stroke-width="2.2" />
<line x1="68.7" y1="388.5" x2="518.5" y2="388.5" stroke="#000" stroke-width="2.2" />
<g clip-path="url(#clip1)">
<path d="M70,17.6 L70,20 L70,21.7 L70.1,23.5 L70.1,25.2 L70.1,27 L70.1,28.7 L70.1,30.4 L70.1,32.2 L70.1,33.9 L70.1,35.6 L70.1,37.2 L70.1,38.9 L70.1,40.6 L70.1,42.3 L70.1,43.9 L70.1,45.6 L70.1,47.2 L70.1,48.9 L70.1,50.5 L70.1,52.1 L70.1,53.7 L70.1,55.3 L70.1,56.9 L70.1,58.5 L70.1,60.1 L70.1,61.7 L70.1,63.2 L70.1,64.8 L70.1,66.4 L70.1,67.9 L70.1,69.4 L70.1,71 L70.1,72.5 L70.1,74 L70.1,75.5 L70.1,77 L70.1,78.5 L70.1,80 L70.1,81.5 L70.1,82.9 L70.1,84.4 L70.1,85.9 L70.1,87.3 L70.2,88.7 L70.2,90.2 L70.2,91.6 L70.2,93 L70.2,94.4 L70.2,95.9 L70.2,97.3 L70.2,98.7 L70.2,100 L70.2,101.4 L70.2,102.8 L70.2,104.2 L70.2,105.5 L70.2,106.9 L70.2,108.2 L70.2,109.6 L70.2,110.9 L70.2,112.2 L70.2,113.6 L70.2,114.9 L70.2,116.2 L70.2,117.5 L70.2,118.8 L70.2,120.1 L70.2,121.4 L70.2,122.6 L70.2,123.9 L70.2,125.2 L70.2,126.4 L70.2,127.7 L70.2,128.9 L70.2,130.2 L70.3,131.4 L70.3,132.6 L70.3,133.9 L70.3,135.1 L70.3,136.3 L70.3,137.5 L70.3,138.7 L70.3,139.9 L70.3,141.1 L70.3,142.3 L70.3,143.4 L70.3,144.6 L70.3,145.8 L70.3,146.9 L70.3,148.1 L70.3,149.2 L70.3,150.4 L70.3,151.5 L70.3,152.7 L70.3,153.8 L70.3,154.9 L70.3,156 L70.3,157.1 L70.3,158.2 L70.3,159.3 L70.3,160.4 L70.4,161.5 L70.4,162.6 L70.4,163.7 L70.4,164.7 L70.4,165.8 L70.4,166.9 L70.4,167.9 L70.4,169 L70.4,170 L70.4,171.1 L70.4,172.1 L70.4,173.1 L70.4,174.2 L70.4,175.2 L70.4,176.2 L70.4,177.2 L70.4,178.2 L70.4,179.2 L70.4,180.2 L70.4,181.2 L70.4,182.2 L70.4,183.2 L70.4,184.1 L70.5,185.1 L70.5,186.1 L70.5,187 L70.5,188 L70.5,188.9 L70.5,189.9 L70.5,190.8 L70.5,191.8 L70.5,192.7 L70.5,193.6 L70.5,194.6 L70.5,195.5 L70.5,196.4 L70.5,197.3 L70.5,198.2 L70.5,199.1 L70.5,200 L70.5,200.9 L70.5,201.8 L70.5,202.7 L70.6,203.5 L70.6,204.4 L70.6,205.3 L70.6,206.2 L70.6,207 L70.6,207.9 L70.6,208.7 L70.6,209.6 L70.6,210.4 L70.6,211.3 L70.6,212.1 L70.6,212.9 L70.6,213.8 L70.6,214.6 L70.6,215.4 L70.6,216.2 L70.6,217 L70.6,217.8 L70.7,218.6 L70.7,219.4 L70.7,220.2 L70.7,221.8 L70.7,223.4 L70.7,224.9 L70.7,226.4 L70.7,227.9 L70.7,229.4 L70.8,230.9 L70.8,232.4 L70.8,233.9 L70.8,235.3 L70.8,236.7 L70.8,238.1 L70.8,239.5 L70.9,240.9 L70.9,242.3 L70.9,243.6 L70.9,245 L70.9,246.3 L70.9,247.6 L70.9,248.9 L71,250.2 L71,251.4 L71,252.7 L71,253.9 L71,255.2 L71,256.4 L71.1,257.6 L71.1,258.8 L71.1,260 L71.1,261.1 L71.1,262.3 L71.1,263.4 L71.2,264.6 L71.2,265.7 L71.2,266.8 L71.2,267.9 L71.2,269 L71.3,270 L71.3,271.1 L71.3,272.1 L71.3,273.2 L71.3,274.2 L71.4,275.2 L71.4,276.2 L71.4,277.2 L71.4,278.2 L71.4,279.2 L71.5,280.1 L71.5,281.1 L71.5,282 L71.5,283 L71.6,283.9 L71.6,284.8 L71.6,285.7 L71.6,286.6 L71.6,287.4 L71.7,288.3 L71.7,289.2 L71.7,290 L71.7,290.9 L71.8,291.7 L71.8,292.5 L71.8,293.3 L71.9,294.1 L71.9,294.9 L71.9,295.7 L71.9,296.5 L72,297.6 L72,298.7 L72.1,299.8 L72.1,300.9 L72.2,302 L72.2,303 L72.3,304.1 L72.3,305.1 L72.4,306.1 L72.4,307.1 L72.5,308 L72.5,308.9 L72.6,309.9 L72.6,310.8 L72.7,311.7 L72.7,312.5 L72.8,313.4 L72.8,314.2 L72.9,315.1 L73,315.9 L73,316.7 L73.1,317.4 L73.1,318.2 L73.2,318.9 L73.3,319.7 L73.4,320.6 L73.5,321.6 L73.6,322.5 L73.7,323.4 L73.8,324.2 L73.9,325.1 L74,325.9 L74.1,326.7 L74.2,327.4 L74.3,328.2 L74.4,328.9 L74.5,329.6 L74.7,330.3 L74.8,331.2 L75,332 L75.1,332.8 L75.3,333.5 L75.5,334.2 L75.7,335 L75.9,335.6 L76.1,336.3 L76.3,336.9 L76.5,337.6 L76.7,338.2 L76.9,338.7 L77.2,339.4 L77.5,340.1 L77.8,340.7 L78.1,341.3 L78.4,341.9 L78.8,342.4 L79.1,343 L79.5,343.5 L79.8,344 L80.2,344.5 L80.6,345 L81,345.5 L81.5,346 L81.9,346.4 L82.4,346.9 L82.9,347.3 L83.4,347.8 L83.9,348.2 L84.4,348.6 L84.8,348.9 L85.3,349.3 L85.8,349.6 L86.3,350 L86.9,350.3 L87.4,350.6 L88,351 L88.5,351.3 L89.1,351.6 L89.8,352 L90.4,352.3 L91.1,352.6 L91.7,352.9 L92.3,353.2 L92.9,353.4 L93.5,353.7 L94.1,353.9 L94.7,354.2 L95.3,354.4 L96,354.7 L96.6,354.9 L97.3,355.1 L98,355.4 L98.7,355.6 L99.5,355.8 L100.2,356.1 L101,356.3 L101.8,356.5 L102.6,356.7 L103.5,357 L104.1,357.1 L104.8,357.3 L105.4,357.4 L106.1,357.6 L106.8,357.7 L107.5,357.9 L108.2,358 L108.9,358.2 L109.7,358.3 L110.4,358.5 L111.2,358.6 L112,358.8 L112.8,358.9 L113.6,359 L114.5,359.2 L115.3,359.3 L116.2,359.4 L117.1,359.6 L118,359.7 L118.9,359.8 L119.8,359.9 L120.8,360.1 L121.7,360.2 L122.7,360.3 L123.7,360.4 L124.7,360.5 L125.8,360.7 L126.9,360.8 L127.9,360.9 L128.7,361 L129.4,361 L130.2,361.1 L130.9,361.2 L131.7,361.2 L132.5,361.3 L133.3,361.4 L134.1,361.5 L134.9,361.5 L135.7,361.6 L136.6,361.7 L137.4,361.7 L138.2,361.8 L139.1,361.9 L140,361.9 L140.9,362 L141.8,362 L142.7,362.1 L143.6,362.2 L144.5,362.2 L145.5,362.3 L146.4,362.4 L147.4,362.4 L148.4,362.5 L149.4,362.5 L150.4,362.6 L151.4,362.6 L152.4,362.7 L153.5,362.8 L154.5,362.8 L155.6,362.9 L156.7,362.9 L157.8,363 L158.9,363 L160,363.1 L161.2,363.1 L162.3,363.2 L163.5,363.2 L164.7,363.3 L165.9,363.4 L167.1,363.4 L168.3,363.5 L169.5,363.5 L170.8,363.6 L172.1,363.6 L173.4,363.6 L174.7,363.7 L176,363.7 L177.3,363.8 L178.7,363.8 L180.1,363.9 L181.5,363.9 L182.9,364 L184.3,364 L185.7,364.1 L187.2,364.1 L188.7,364.1 L190.2,364.2 L191.7,364.2 L193.3,364.3 L194.8,364.3 L195.6,364.3 L196.4,364.4 L197.2,364.4 L198,364.4 L198.8,364.4 L199.6,364.4 L200.4,364.5 L201.2,364.5 L202.1,364.5 L202.9,364.5 L203.7,364.5 L204.6,364.6 L205.4,364.6 L206.3,364.6 L207.1,364.6 L208,364.6 L208.9,364.7 L209.8,364.7 L210.6,364.7 L211.5,364.7 L212.4,364.7 L213.3,364.8 L214.2,364.8 L215.1,364.8 L216,364.8 L217,364.8 L217.9,364.8 L218.8,364.9 L219.8,364.9 L220.7,364.9 L221.6,364.9 L222.6,364.9 L223.6,365 L224.5,365 L225.5,365 L226.5,365 L227.5,365 L228.5,365 L229.5,365.1 L230.5,365.1 L231.5,365.1 L232.5,365.1 L233.5,365.1 L234.5,365.1 L235.6,365.2 L236.6,365.2 L237.7,365.2 L238.7,365.2 L239.8,365.2 L240.9,365.2 L241.9,365.3 L243,365.3 L244.1,365.3 L245.2,365.3 L246.3,365.3 L247.4,365.3 L248.5,365.4 L249.7,365.4 L250.8,365.4 L251.9,365.4 L253.1,365.4 L254.2,365.4 L255.4,365.5 L256.6,365.5 L257.7,365.5 L258.9,365.5 L260.1,365.5 L261.3,365.5 L262.5,365.5 L263.7,365.6 L264.9,365.6 L266.2,365.6 L267.4,365.6 L268.6,365.6 L269.9,365.6 L271.2,365.6 L272.4,365.7 L273.7,365.7 L275,365.7 L276.3,365.7 L277.6,365.7 L278.9,365.7 L280.2,365.7 L281.5,365.8 L282.8,365.8 L284.2,365.8 L285.5,365.8 L286.9,365.8 L288.3,365.8 L289.6,365.8 L291,365.9 L292.4,365.9 L293.8,365.9 L295.2,365.9 L296.6,365.9 L298.1,365.9 L299.5,365.9 L300.9,366 L302.4,366 L303.9,366 L305.3,366 L306.8,366 L308.3,366 L309.8,366 L311.3,366 L312.8,366.1 L314.4,366.1 L315.9,366.1 L317.4,366.1 L319,366.1 L320.6,366.1 L322.1,366.1 L323.7,366.1 L325.3,366.2 L326.9,366.2 L328.6,366.2 L330.2,366.2 L331.8,366.2 L333.5,366.2 L335.1,366.2 L336.8,366.2 L338.5,366.2 L340.2,366.3 L341.9,366.3 L343.6,366.3 L345.3,366.3 L347,366.3 L348.8,366.3 L350.5,366.3 L352.3,366.3 L354.1,366.4 L355.9,366.4 L357.7,366.4 L359.5,366.4 L361.3,366.4 L363.1,366.4 L365,366.4 L366.8,366.4 L368.7,366.4 L370.6,366.5 L372.5,366.5 L374.4,366.5 L376.3,366.5 L378.2,366.5 L380.1,366.5 L382.1,366.5 L384.1,366.5 L386,366.5 L388,366.5 L390,366.6 L392,366.6 L394.1,366.6 L396.1,366.6 L398.2,366.6 L400.2,366.6 L402.3,366.6 L404.4,366.6 L406.5,366.6" fill="none" stroke="#b5161e" stroke-width="2.4" stroke-linejoin="round" stroke-linecap="round" />
<path d="M70.4,17.6 L70.4,19.5 L70.4,20.8 L70.4,22 L70.4,23.3 L70.4,24.5 L70.4,25.8 L70.4,27 L70.4,28.3 L70.4,29.5 L70.4,30.8 L70.4,32 L70.4,33.3 L70.4,34.5 L70.4,35.8 L70.4,37 L70.4,38.2 L70.4,39.5 L70.4,40.7 L70.4,42 L70.4,43.2 L70.5,44.4 L70.5,45.7 L70.5,46.9 L70.5,48.1 L70.5,49.4 L70.5,50.6 L70.5,51.8 L70.5,53.1 L70.5,54.3 L70.5,55.5 L70.5,56.7 L70.5,58 L70.5,59.2 L70.5,60.4 L70.5,61.6 L70.5,62.9 L70.5,64.1 L70.5,65.3 L70.5,66.5 L70.5,67.7 L70.6,68.9 L70.6,70.1 L70.6,71.4 L70.6,72.6 L70.6,73.8 L70.6,75 L70.6,76.2 L70.6,77.4 L70.6,78.6 L70.6,79.8 L70.6,81 L70.6,82.2 L70.6,83.4 L70.6,84.6 L70.6,85.8 L70.6,87 L70.6,88.1 L70.6,89.3 L70.7,90.5 L70.7,91.7 L70.7,92.9 L70.7,94.1 L70.7,95.3 L70.7,96.4 L70.7,97.6 L70.7,98.8 L70.7,100 L70.7,101.1 L70.7,102.3 L70.7,103.5 L70.7,104.6 L70.7,105.8 L70.7,107 L70.7,108.1 L70.8,109.3 L70.8,110.4 L70.8,111.6 L70.8,112.8 L70.8,113.9 L70.8,115.1 L70.8,116.2 L70.8,117.3 L70.8,118.5 L70.8,119.6 L70.8,120.8 L70.8,121.9 L70.8,123 L70.8,124.2 L70.9,125.3 L70.9,126.4 L70.9,127.6 L70.9,128.7 L70.9,129.8 L70.9,130.9 L70.9,132.1 L70.9,133.2 L70.9,134.3 L70.9,135.4 L70.9,136.5 L70.9,137.6 L70.9,138.7 L70.9,139.8 L71,140.9 L71,142 L71,143.1 L71,144.2 L71,145.3 L71,146.4 L71,147.4 L71,148.5 L71,149.6 L71,150.7 L71,151.8 L71,152.8 L71.1,153.9 L71.1,155 L71.1,156 L71.1,157.1 L71.1,158.1 L71.1,159.2 L71.1,160.2 L71.1,161.3 L71.1,162.3 L71.1,163.4 L71.1,164.4 L71.2,165.5 L71.2,166.5 L71.2,167.5 L71.2,168.5 L71.2,169.6 L71.2,170.6 L71.2,171.6 L71.2,172.6 L71.2,173.6 L71.2,174.6 L71.2,175.6 L71.3,176.6 L71.3,177.6 L71.3,178.6 L71.3,179.6 L71.3,180.6 L71.3,181.6 L71.3,182.6 L71.3,183.6 L71.3,184.5 L71.3,185.5 L71.4,186.5 L71.4,187.4 L71.4,188.4 L71.4,189.4 L71.4,190.3 L71.4,191.3 L71.4,192.2 L71.4,193.2 L71.4,194.1 L71.5,195 L71.5,196 L71.5,196.9 L71.5,197.8 L71.5,198.7 L71.5,199.7 L71.5,200.6 L71.5,201.5 L71.5,202.4 L71.6,203.3 L71.6,204.2 L71.6,205.1 L71.6,206 L71.6,206.9 L71.6,207.7 L71.6,208.6 L71.6,209.5 L71.6,210.4 L71.7,211.2 L71.7,212.1 L71.7,213 L71.7,213.8 L71.7,214.7 L71.7,215.5 L71.7,216.4 L71.7,217.2 L71.8,218 L71.8,218.9 L71.8,219.7 L71.8,220.5 L71.8,221.3 L71.8,222.1 L71.8,222.9 L71.9,223.8 L71.9,224.6 L71.9,225.4 L71.9,226.1 L71.9,226.9 L71.9,228.5 L72,230 L72,231.6 L72,233.1 L72.1,234.6 L72.1,236.1 L72.1,237.5 L72.1,239 L72.2,240.4 L72.2,241.8 L72.2,243.2 L72.3,244.6 L72.3,245.9 L72.3,247.3 L72.4,248.6 L72.4,249.9 L72.4,251.2 L72.5,252.4 L72.5,253.7 L72.5,254.9 L72.6,256.1 L72.6,257.3 L72.6,258.5 L72.7,259.7 L72.7,260.8 L72.8,262 L72.8,263.1 L72.8,264.2 L72.9,265.3 L72.9,266.3 L73,267.4 L73,268.4 L73,269.4 L73.1,270.4 L73.1,271.4 L73.2,272.4 L73.2,273.3 L73.3,274.3 L73.3,275.2 L73.3,276.1 L73.4,277 L73.4,277.9 L73.5,278.8 L73.5,279.6 L73.6,280.5 L73.6,281.3 L73.7,282.1 L73.7,282.9 L73.8,283.7 L73.8,284.4 L73.9,285.2 L74,286.3 L74,287.4 L74.1,288.5 L74.2,289.5 L74.3,290.5 L74.4,291.5 L74.5,292.5 L74.6,293.4 L74.7,294.3 L74.8,295.2 L74.9,296.1 L74.9,297 L75,297.8 L75.1,298.6 L75.3,299.4 L75.4,300.2 L75.5,301 L75.6,301.7 L75.7,302.5 L75.8,303.2 L75.9,303.9 L76,304.6 L76.2,305.3 L76.3,306.2 L76.5,307.1 L76.7,307.9 L76.8,308.8 L77,309.6 L77.2,310.4 L77.4,311.2 L77.6,312 L77.8,312.8 L78,313.5 L78.2,314.2 L78.4,315 L78.6,315.7 L78.9,316.4 L79.1,317.1 L79.3,317.8 L79.6,318.4 L79.8,319.1 L80.1,319.7 L80.4,320.4 L80.6,321 L80.9,321.7 L81.2,322.3 L81.5,322.9 L81.8,323.5 L82.1,324.1 L82.4,324.7 L82.7,325.2 L83.1,325.8 L83.4,326.4 L83.7,326.9 L84.1,327.5 L84.5,328 L84.8,328.6 L85.2,329.1 L85.6,329.6 L86,330.1 L86.4,330.6 L86.9,331.1 L87.3,331.6 L87.7,332.1 L88.2,332.6 L88.7,333.1 L89.1,333.5 L89.6,334 L90.1,334.4 L90.7,334.9 L91.2,335.3 L91.7,335.8 L92.3,336.2 L92.9,336.6 L93.5,337.1 L94.1,337.5 L94.7,337.9 L95.3,338.3 L96,338.7 L96.6,339.1 L97.2,339.4 L97.7,339.7 L98.2,339.9 L98.7,340.2 L99.3,340.5 L99.9,340.8 L100.4,341.1 L101,341.3 L101.6,341.6 L102.2,341.9 L102.8,342.1 L103.5,342.4 L104.1,342.7 L104.8,342.9 L105.4,343.2 L106.1,343.4 L106.8,343.7 L107.5,343.9 L108.2,344.2 L108.9,344.4 L109.7,344.6 L110.4,344.9 L111.2,345.1 L112,345.4 L112.8,345.6 L113.6,345.8 L114.5,346 L115.3,346.3 L116.2,346.5 L117.1,346.7 L118,346.9 L118.9,347.1 L119.8,347.4 L120.8,347.6 L121.7,347.8 L122.7,348 L123.4,348.1 L124.1,348.3 L124.7,348.4 L125.4,348.5 L126.1,348.7 L126.9,348.8 L127.6,348.9 L128.3,349 L129,349.2 L129.8,349.3 L130.6,349.4 L131.3,349.6 L132.1,349.7 L132.9,349.8 L133.7,349.9 L134.5,350.1 L135.3,350.2 L136.1,350.3 L137,350.4 L137.8,350.6 L138.7,350.7 L139.5,350.8 L140.4,350.9 L141.3,351 L142.2,351.1 L143.1,351.3 L144.1,351.4 L145,351.5 L146,351.6 L146.9,351.7 L147.9,351.8 L148.9,351.9 L149.9,352.1 L150.9,352.2 L151.9,352.3 L152.9,352.4 L154,352.5 L155.1,352.6 L156.1,352.7 L157.2,352.8 L158.3,352.9 L159.5,353 L160.6,353.1 L161.7,353.2 L162.9,353.3 L164.1,353.4 L165.3,353.5 L166.5,353.6 L167.7,353.7 L168.9,353.8 L170.2,353.9 L171.4,354 L172.7,354.1 L174,354.2 L175.3,354.3 L176.7,354.4 L178,354.5 L179.4,354.6 L180.8,354.7 L182.2,354.8 L183.6,354.9 L185,355 L186.5,355.1 L188,355.1 L189.4,355.2 L191,355.3 L191.7,355.4 L192.5,355.4 L193.3,355.5 L194,355.5 L194.8,355.5 L195.6,355.6 L196.4,355.6 L197.2,355.7 L198,355.7 L198.8,355.8 L199.6,355.8 L200.4,355.9 L201.2,355.9 L202.1,355.9 L202.9,356 L203.7,356 L204.6,356.1 L205.4,356.1 L206.3,356.1 L207.1,356.2 L208,356.2 L208.9,356.3 L209.8,356.3 L210.6,356.4 L211.5,356.4 L212.4,356.4 L213.3,356.5 L214.2,356.5 L215.1,356.6 L216,356.6 L217,356.6 L217.9,356.7 L218.8,356.7 L219.8,356.8 L220.7,356.8 L221.6,356.8 L222.6,356.9 L223.6,356.9 L224.5,357 L225.5,357 L226.5,357 L227.5,357.1 L228.5,357.1 L229.5,357.1 L230.5,357.2 L231.5,357.2 L232.5,357.3 L233.5,357.3 L234.5,357.3 L235.6,357.4 L236.6,357.4 L237.7,357.5 L238.7,357.5 L239.8,357.5 L240.9,357.6 L241.9,357.6 L243,357.6 L244.1,357.7 L245.2,357.7 L246.3,357.7 L247.4,357.8 L248.5,357.8 L249.7,357.9 L250.8,357.9 L251.9,357.9 L253.1,358 L254.2,358 L255.4,358 L256.6,358.1 L257.7,358.1 L258.9,358.1 L260.1,358.2 L261.3,358.2 L262.5,358.2 L263.7,358.3 L264.9,358.3 L266.2,358.4 L267.4,358.4 L268.6,358.4 L269.9,358.5 L271.2,358.5 L272.4,358.5 L273.7,358.6 L275,358.6 L276.3,358.6 L277.6,358.7 L278.9,358.7 L280.2,358.7 L281.5,358.8 L282.8,358.8 L284.2,358.8 L285.5,358.9 L286.9,358.9 L288.3,358.9 L289.6,359 L291,359 L292.4,359 L293.8,359.1 L295.2,359.1 L296.6,359.1 L298.1,359.1 L299.5,359.2 L300.9,359.2 L302.4,359.2 L303.9,359.3 L305.3,359.3 L306.8,359.3 L308.3,359.4 L309.8,359.4 L311.3,359.4 L312.8,359.5 L314.4,359.5 L315.9,359.5 L317.4,359.6 L319,359.6 L320.6,359.6 L322.1,359.6 L323.7,359.7 L325.3,359.7 L326.9,359.7 L328.6,359.8 L330.2,359.8 L331.8,359.8 L333.5,359.9 L335.1,359.9 L336.8,359.9 L338.5,359.9 L340.2,360 L341.9,360 L343.6,360 L345.3,360.1 L347,360.1 L348.8,360.1 L350.5,360.1 L352.3,360.2 L354.1,360.2 L355.9,360.2 L357.7,360.3 L359.5,360.3 L361.3,360.3 L363.1,360.3 L365,360.4 L366.8,360.4 L368.7,360.4 L370.6,360.5 L372.5,360.5 L374.4,360.5 L376.3,360.5 L378.2,360.6 L380.1,360.6 L382.1,360.6 L384.1,360.6 L386,360.7 L388,360.7 L390,360.7 L392,360.8 L394.1,360.8 L396.1,360.8 L398.2,360.8 L400.2,360.9 L402.3,360.9 L404.4,360.9 L406.5,360.9" fill="none" stroke="#f2be2a" stroke-width="2.4" stroke-linejoin="round" stroke-linecap="round" />
<path d="M70.4,17.6 L70.4,18.6 L70.4,19.5 L70.4,20.3 L70.4,21.2 L70.4,22.1 L70.4,23 L70.4,23.9 L70.4,24.8 L70.4,25.6 L70.4,26.5 L70.4,27.4 L70.4,28.3 L70.4,29.1 L70.4,30 L70.4,30.9 L70.4,31.8 L70.4,32.6 L70.4,33.5 L70.4,34.4 L70.4,35.2 L70.5,36.1 L70.5,36.9 L70.5,37.8 L70.5,38.7 L70.5,39.5 L70.5,40.4 L70.5,41.2 L70.5,42.1 L70.5,43 L70.5,43.8 L70.5,44.7 L70.5,45.5 L70.5,46.4 L70.5,47.2 L70.5,48.1 L70.5,48.9 L70.5,49.8 L70.5,50.6 L70.5,51.5 L70.5,52.3 L70.6,53.1 L70.6,54 L70.6,54.8 L70.6,55.7 L70.6,56.5 L70.6,57.3 L70.6,58.2 L70.6,59 L70.6,59.9 L70.6,60.7 L70.6,61.5 L70.6,62.4 L70.6,63.2 L70.6,64 L70.6,64.8 L70.6,65.7 L70.6,66.5 L70.6,67.3 L70.7,68.2 L70.7,69 L70.7,69.8 L70.7,70.6 L70.7,71.5 L70.7,72.3 L70.7,73.1 L70.7,73.9 L70.7,74.7 L70.7,75.6 L70.7,76.4 L70.7,77.2 L70.7,78 L70.7,78.8 L70.7,79.6 L70.7,80.5 L70.8,81.3 L70.8,82.1 L70.8,82.9 L70.8,83.7 L70.8,84.5 L70.8,85.3 L70.8,86.1 L70.8,86.9 L70.8,87.7 L70.8,88.5 L70.8,89.3 L70.8,90.2 L70.8,91 L70.8,91.8 L70.9,92.6 L70.9,93.4 L70.9,94.2 L70.9,95 L70.9,95.8 L70.9,96.6 L70.9,97.4 L70.9,98.2 L70.9,99 L70.9,99.7 L70.9,100.5 L70.9,101.3 L70.9,102.1 L70.9,102.9 L71,104.5 L71,106.1 L71,107.7 L71,109.2 L71,110.8 L71,112.4 L71.1,113.9 L71.1,115.5 L71.1,117.1 L71.1,118.6 L71.1,120.2 L71.2,121.7 L71.2,123.3 L71.2,124.8 L71.2,126.4 L71.2,127.9 L71.2,129.5 L71.3,131 L71.3,132.5 L71.3,134.1 L71.3,135.6 L71.3,137.1 L71.4,138.6 L71.4,140.2 L71.4,141.7 L71.4,143.2 L71.5,144.7 L71.5,146.2 L71.5,147.7 L71.5,149.2 L71.5,150.7 L71.6,152.2 L71.6,153.7 L71.6,155.2 L71.6,156.7 L71.7,158.2 L71.7,159.6 L71.7,161.1 L71.7,162.6 L71.8,164.1 L71.8,165.5 L71.8,167 L71.8,168.4 L71.9,169.9 L71.9,171.4 L71.9,172.8 L72,174.3 L72,175.7 L72,177.1 L72,178.6 L72.1,180 L72.1,181.4 L72.1,182.8 L72.2,184.3 L72.2,185.7 L72.2,187.1 L72.3,188.5 L72.3,189.9 L72.3,191.3 L72.4,192.7 L72.4,194.1 L72.4,195.4 L72.5,196.8 L72.5,198.2 L72.5,199.6 L72.6,200.9 L72.6,202.3 L72.6,203.6 L72.7,205 L72.7,206.3 L72.7,207.7 L72.8,209 L72.8,210.3 L72.9,211.6 L72.9,212.9 L72.9,214.2 L73,215.5 L73,216.8 L73.1,218.1 L73.1,219.4 L73.1,220.7 L73.2,221.9 L73.2,223.2 L73.3,224.5 L73.3,225.7 L73.4,227 L73.4,228.2 L73.5,229.4 L73.5,230.6 L73.6,231.8 L73.6,233 L73.7,234.2 L73.7,235.4 L73.8,236.6 L73.8,237.8 L73.9,239 L73.9,240.1 L74,241.3 L74,242.4 L74.1,243.5 L74.1,244.7 L74.2,245.8 L74.2,246.9 L74.3,248 L74.4,249.1 L74.4,250.2 L74.5,251.2 L74.5,252.3 L74.6,253.4 L74.7,254.4 L74.7,255.4 L74.8,256.5 L74.9,257.5 L74.9,258.5 L75,259.5 L75,260.5 L75.1,261.5 L75.2,262.4 L75.3,263.4 L75.3,264.4 L75.4,265.3 L75.5,266.2 L75.5,267.2 L75.6,268.1 L75.7,269 L75.8,269.9 L75.8,270.8 L75.9,271.6 L76,272.5 L76.1,273.4 L76.2,274.2 L76.2,275.1 L76.3,275.9 L76.4,276.7 L76.5,277.5 L76.6,278.3 L76.7,279.1 L76.7,279.9 L76.8,280.7 L76.9,281.4 L77,282.2 L77.1,282.9 L77.2,283.6 L77.3,284.4 L77.4,285.1 L77.5,285.8 L77.6,286.8 L77.8,287.8 L77.9,288.8 L78.1,289.8 L78.3,290.8 L78.4,291.7 L78.6,292.6 L78.8,293.5 L78.9,294.4 L79.1,295.3 L79.3,296.1 L79.5,297 L79.6,297.8 L79.8,298.6 L80,299.4 L80.2,300.1 L80.4,300.9 L80.6,301.6 L80.8,302.3 L81,303 L81.3,303.7 L81.5,304.4 L81.7,305.1 L81.9,305.7 L82.2,306.4 L82.4,307 L82.6,307.6 L82.9,308.2 L83.1,308.8 L83.4,309.4 L83.7,310 L83.9,310.5 L84.2,311.1 L84.5,311.6 L84.7,312.2 L85,312.7 L85.3,313.2 L85.6,313.7 L85.9,314.3 L86.2,314.8 L86.5,315.2 L86.9,315.7 L87.2,316.2 L87.5,316.7 L87.9,317.1 L88.2,317.6 L88.5,318.1 L88.9,318.5 L89.3,319 L89.6,319.4 L90,319.8 L90.4,320.3 L90.8,320.7 L91.2,321.1 L91.6,321.5 L92,321.9 L92.4,322.4 L92.9,322.8 L93.3,323.2 L93.8,323.6 L94.2,324 L94.7,324.3 L95.2,324.7 L95.6,325.1 L96.1,325.5 L96.6,325.9 L97.2,326.2 L97.7,326.6 L98.2,327 L98.7,327.3 L99.3,327.7 L99.9,328.1 L100.4,328.4 L101,328.8 L101.6,329.1 L102.2,329.4 L102.8,329.8 L103.5,330.1 L104.1,330.5 L104.8,330.8 L105.4,331.1 L106.1,331.4 L106.8,331.8 L107.5,332.1 L108.2,332.4 L108.9,332.7 L109.7,333 L110.4,333.3 L111.2,333.6 L112,333.9 L112.8,334.2 L113.6,334.5 L114.5,334.8 L115.3,335.1 L116.2,335.4 L117.1,335.7 L118,336 L118.9,336.3 L119.5,336.5 L120.1,336.6 L120.8,336.8 L121.4,337 L122.1,337.2 L122.7,337.4 L123.4,337.6 L124.1,337.7 L124.7,337.9 L125.4,338.1 L126.1,338.3 L126.9,338.4 L127.6,338.6 L128.3,338.8 L129,339 L129.8,339.1 L130.6,339.3 L131.3,339.5 L132.1,339.6 L132.9,339.8 L133.7,340 L134.5,340.1 L135.3,340.3 L136.1,340.5 L137,340.6 L137.8,340.8 L138.7,340.9 L139.5,341.1 L140.4,341.3 L141.3,341.4 L142.2,341.6 L143.1,341.7 L144.1,341.9 L145,342 L146,342.2 L146.9,342.3 L147.9,342.5 L148.9,342.6 L149.9,342.8 L150.9,342.9 L151.9,343.1 L152.9,343.2 L154,343.4 L155.1,343.5 L156.1,343.7 L157.2,343.8 L158.3,344 L159.5,344.1 L160.6,344.2 L161.7,344.4 L162.9,344.5 L164.1,344.7 L165.3,344.8 L166.5,344.9 L167.7,345.1 L168.9,345.2 L170.2,345.3 L171.4,345.5 L172.7,345.6 L174,345.7 L175.3,345.9 L176.7,346 L178,346.1 L179.4,346.3 L180.8,346.4 L182.2,346.5 L183.6,346.6 L185,346.8 L186.5,346.9 L188,347 L188.7,347.1 L189.4,347.1 L190.2,347.2 L191,347.3 L191.7,347.3 L192.5,347.4 L193.3,347.4 L194,347.5 L194.8,347.6 L195.6,347.6 L196.4,347.7 L197.2,347.7 L198,347.8 L198.8,347.9 L199.6,347.9 L200.4,348 L201.2,348 L202.1,348.1 L202.9,348.2 L203.7,348.2 L204.6,348.3 L205.4,348.3 L206.3,348.4 L207.1,348.4 L208,348.5 L208.9,348.6 L209.8,348.6 L210.6,348.7 L211.5,348.7 L212.4,348.8 L213.3,348.8 L214.2,348.9 L215.1,349 L216,349 L217,349.1 L217.9,349.1 L218.8,349.2 L219.8,349.2 L220.7,349.3 L221.6,349.3 L222.6,349.4 L223.6,349.5 L224.5,349.5 L225.5,349.6 L226.5,349.6 L227.5,349.7 L228.5,349.7 L229.5,349.8 L230.5,349.8 L231.5,349.9 L232.5,349.9 L233.5,350 L234.5,350 L235.6,350.1 L236.6,350.2 L237.7,350.2 L238.7,350.3 L239.8,350.3 L240.9,350.4 L241.9,350.4 L243,350.5 L244.1,350.5 L245.2,350.6 L246.3,350.6 L247.4,350.7 L248.5,350.7 L249.7,350.8 L250.8,350.8 L251.9,350.9 L253.1,350.9 L254.2,351 L255.4,351 L256.6,351.1 L257.7,351.1 L258.9,351.2 L260.1,351.2 L261.3,351.3 L262.5,351.3 L263.7,351.4 L264.9,351.4 L266.2,351.5 L267.4,351.5 L268.6,351.6 L269.9,351.6 L271.2,351.7 L272.4,351.7 L273.7,351.8 L275,351.8 L276.3,351.9 L277.6,351.9 L278.9,352 L280.2,352 L281.5,352 L282.8,352.1 L284.2,352.1 L285.5,352.2 L286.9,352.2 L288.3,352.3 L289.6,352.3 L291,352.4 L292.4,352.4 L293.8,352.5 L295.2,352.5 L296.6,352.6 L298.1,352.6 L299.5,352.6 L300.9,352.7 L302.4,352.7 L303.9,352.8 L305.3,352.8 L306.8,352.9 L308.3,352.9 L309.8,353 L311.3,353 L312.8,353.1 L314.4,353.1 L315.9,353.1 L317.4,353.2 L319,353.2 L320.6,353.3 L322.1,353.3 L323.7,353.4 L325.3,353.4 L326.9,353.4 L328.6,353.5 L330.2,353.5 L331.8,353.6 L333.5,353.6 L335.1,353.7 L336.8,353.7 L338.5,353.7 L340.2,353.8 L341.9,353.8 L343.6,353.9 L345.3,353.9 L347,354 L348.8,354 L350.5,354 L352.3,354.1 L354.1,354.1 L355.9,354.2 L357.7,354.2 L359.5,354.2 L361.3,354.3 L363.1,354.3 L365,354.4 L366.8,354.4 L368.7,354.4 L370.6,354.5 L372.5,354.5 L374.4,354.6 L376.3,354.6 L378.2,354.6 L380.1,354.7 L382.1,354.7 L384.1,354.8 L386,354.8 L388,354.8 L390,354.9 L392,354.9 L394.1,355 L396.1,355 L398.2,355 L400.2,355.1 L402.3,355.1 L404.4,355.1 L406.5,355.2" fill="none" stroke="#93cf5a" stroke-width="2.4" stroke-linejoin="round" stroke-linecap="round" />
<path d="M70.7,17.6 L70.7,19.1 L70.7,20.1 L70.7,21.1 L70.7,22.1 L70.7,23 L70.7,24 L70.7,25 L70.7,26 L70.8,27 L70.8,27.9 L70.8,28.9 L70.8,29.9 L70.8,30.9 L70.8,31.8 L70.8,32.8 L70.8,33.8 L70.8,34.7 L70.8,35.7 L70.8,36.7 L70.8,37.6 L70.8,38.6 L70.8,39.6 L70.9,40.5 L70.9,41.5 L70.9,42.4 L70.9,43.4 L70.9,44.3 L70.9,45.3 L70.9,46.2 L70.9,47.2 L70.9,48.1 L70.9,49.1 L70.9,50 L70.9,51 L70.9,51.9 L70.9,52.9 L71,53.8 L71,54.7 L71,55.7 L71,56.6 L71,57.5 L71,58.5 L71,59.4 L71,60.3 L71,61.3 L71,62.2 L71,63.1 L71,64 L71.1,65 L71.1,65.9 L71.1,66.8 L71.1,67.7 L71.1,68.7 L71.1,69.6 L71.1,70.5 L71.1,71.4 L71.1,72.3 L71.1,73.2 L71.1,74.1 L71.2,75.1 L71.2,76 L71.2,76.9 L71.2,77.8 L71.2,78.7 L71.2,79.6 L71.2,80.5 L71.2,81.4 L71.2,82.3 L71.2,83.2 L71.2,84.1 L71.3,85 L71.3,85.9 L71.3,86.8 L71.3,87.7 L71.3,88.6 L71.3,89.4 L71.3,90.3 L71.3,91.2 L71.3,92.1 L71.3,93 L71.4,93.9 L71.4,94.8 L71.4,95.6 L71.4,96.5 L71.4,97.4 L71.4,98.3 L71.4,99.2 L71.4,100 L71.4,100.9 L71.5,101.8 L71.5,102.7 L71.5,103.5 L71.5,104.4 L71.5,105.3 L71.5,106.1 L71.5,107 L71.5,107.9 L71.5,108.7 L71.6,109.6 L71.6,110.5 L71.6,111.3 L71.6,112.2 L71.6,113 L71.6,113.9 L71.6,114.7 L71.6,115.6 L71.6,116.4 L71.7,117.3 L71.7,118.2 L71.7,119 L71.7,119.8 L71.7,120.7 L71.7,121.5 L71.7,122.4 L71.7,123.2 L71.8,124.1 L71.8,124.9 L71.8,125.7 L71.8,126.6 L71.8,127.4 L71.8,128.3 L71.8,129.1 L71.9,129.9 L71.9,130.8 L71.9,131.6 L71.9,132.4 L71.9,133.2 L71.9,134.1 L71.9,134.9 L72,135.7 L72,136.5 L72,137.4 L72,138.2 L72,139 L72,139.8 L72,140.6 L72.1,141.4 L72.1,142.3 L72.1,143.1 L72.1,143.9 L72.1,144.7 L72.1,145.5 L72.1,146.3 L72.2,147.1 L72.2,147.9 L72.2,148.7 L72.2,149.5 L72.2,150.3 L72.2,151.1 L72.3,151.9 L72.3,152.7 L72.3,153.5 L72.3,154.3 L72.3,155.1 L72.3,155.9 L72.4,156.6 L72.4,157.4 L72.4,158.2 L72.4,159.8 L72.5,161.3 L72.5,162.9 L72.5,164.4 L72.6,166 L72.6,167.5 L72.6,169 L72.7,170.6 L72.7,172.1 L72.7,173.6 L72.8,175.1 L72.8,176.6 L72.9,178.1 L72.9,179.5 L72.9,181 L73,182.5 L73,183.9 L73.1,185.4 L73.1,186.8 L73.1,188.3 L73.2,189.7 L73.2,191.1 L73.3,192.5 L73.3,194 L73.4,195.4 L73.4,196.8 L73.5,198.1 L73.5,199.5 L73.6,200.9 L73.6,202.2 L73.7,203.6 L73.7,204.9 L73.8,206.3 L73.8,207.6 L73.9,208.9 L73.9,210.2 L74,211.5 L74,212.8 L74.1,214.1 L74.1,215.4 L74.2,216.7 L74.2,217.9 L74.3,219.2 L74.4,220.4 L74.4,221.6 L74.5,222.9 L74.5,224.1 L74.6,225.3 L74.7,226.5 L74.7,227.6 L74.8,228.8 L74.9,230 L74.9,231.1 L75,232.3 L75,233.4 L75.1,234.6 L75.2,235.7 L75.3,236.8 L75.3,237.9 L75.4,239 L75.5,240 L75.5,241.1 L75.6,242.2 L75.7,243.2 L75.8,244.2 L75.8,245.3 L75.9,246.3 L76,247.3 L76.1,248.3 L76.2,249.3 L76.2,250.3 L76.3,251.2 L76.4,252.2 L76.5,253.1 L76.6,254.1 L76.7,255 L76.7,255.9 L76.8,256.8 L76.9,257.7 L77,258.6 L77.1,259.5 L77.2,260.3 L77.3,261.2 L77.4,262 L77.5,262.9 L77.6,263.7 L77.7,264.5 L77.8,265.3 L77.9,266.1 L78,266.9 L78.1,267.7 L78.2,268.5 L78.3,269.2 L78.4,270 L78.5,270.7 L78.6,271.5 L78.8,272.2 L78.9,272.9 L79,273.6 L79.1,274.3 L79.2,275 L79.3,275.7 L79.5,276.7 L79.7,277.7 L79.9,278.7 L80.1,279.6 L80.3,280.6 L80.5,281.5 L80.7,282.4 L80.9,283.3 L81.1,284.2 L81.3,285 L81.6,285.9 L81.8,286.7 L82,287.5 L82.2,288.3 L82.5,289.1 L82.7,289.9 L83,290.6 L83.2,291.4 L83.5,292.1 L83.7,292.8 L84,293.6 L84.3,294.3 L84.6,295 L84.8,295.6 L85.1,296.3 L85.4,297 L85.7,297.6 L86,298.3 L86.3,298.9 L86.6,299.6 L87,300.2 L87.3,300.8 L87.6,301.4 L88,302 L88.3,302.6 L88.7,303.2 L89,303.8 L89.4,304.3 L89.8,304.9 L90.1,305.4 L90.5,306 L90.9,306.5 L91.3,307.1 L91.7,307.6 L92.2,308.2 L92.6,308.7 L93,309.2 L93.5,309.7 L93.9,310.2 L94.4,310.7 L94.8,311.2 L95.3,311.7 L95.8,312.2 L96.3,312.7 L96.8,313.2 L97.3,313.7 L97.8,314.1 L98.4,314.6 L98.9,315.1 L99.5,315.5 L100,316 L100.6,316.4 L101.2,316.9 L101.8,317.3 L102.4,317.8 L103,318.2 L103.7,318.6 L104.3,319.1 L105,319.5 L105.6,319.9 L106.3,320.3 L107,320.7 L107.7,321.1 L108.5,321.5 L109.2,321.9 L109.9,322.3 L110.7,322.7 L111.5,323.1 L112.3,323.5 L113.1,323.9 L113.6,324.1 L114.2,324.4 L114.7,324.6 L115.3,324.9 L115.9,325.1 L116.5,325.4 L117.1,325.6 L117.7,325.9 L118.3,326.1 L118.9,326.4 L119.5,326.6 L120.1,326.8 L120.8,327.1 L121.4,327.3 L122.1,327.5 L122.7,327.8 L123.4,328 L124.1,328.2 L124.7,328.4 L125.4,328.7 L126.1,328.9 L126.9,329.1 L127.6,329.3 L128.3,329.6 L129,329.8 L129.8,330 L130.6,330.2 L131.3,330.4 L132.1,330.6 L132.9,330.9 L133.7,331.1 L134.5,331.3 L135.3,331.5 L136.1,331.7 L137,331.9 L137.8,332.1 L138.7,332.3 L139.5,332.5 L140.4,332.7 L141.3,332.9 L142.2,333.1 L143.1,333.3 L144.1,333.5 L145,333.7 L146,333.9 L146.9,334.1 L147.9,334.3 L148.9,334.5 L149.9,334.7 L150.9,334.9 L151.9,335 L152.9,335.2 L154,335.4 L155.1,335.6 L156.1,335.8 L157.2,336 L158.3,336.1 L159.5,336.3 L160.6,336.5 L161.7,336.7 L162.9,336.9 L164.1,337 L165.3,337.2 L166.5,337.4 L167.7,337.6 L168.9,337.7 L170.2,337.9 L171.4,338.1 L172.7,338.2 L174,338.4 L175.3,338.6 L176.7,338.7 L178,338.9 L179.4,339.1 L180.8,339.2 L182.2,339.4 L183.6,339.5 L185,339.7 L185.7,339.8 L186.5,339.9 L187.2,339.9 L188,340 L188.7,340.1 L189.4,340.2 L190.2,340.2 L191,340.3 L191.7,340.4 L192.5,340.5 L193.3,340.6 L194,340.6 L194.8,340.7 L195.6,340.8 L196.4,340.9 L197.2,340.9 L198,341 L198.8,341.1 L199.6,341.2 L200.4,341.2 L201.2,341.3 L202.1,341.4 L202.9,341.5 L203.7,341.5 L204.6,341.6 L205.4,341.7 L206.3,341.8 L207.1,341.8 L208,341.9 L208.9,342 L209.8,342 L210.6,342.1 L211.5,342.2 L212.4,342.3 L213.3,342.3 L214.2,342.4 L215.1,342.5 L216,342.5 L217,342.6 L217.9,342.7 L218.8,342.8 L219.8,342.8 L220.7,342.9 L221.6,343 L222.6,343 L223.6,343.1 L224.5,343.2 L225.5,343.2 L226.5,343.3 L227.5,343.4 L228.5,343.4 L229.5,343.5 L230.5,343.6 L231.5,343.7 L232.5,343.7 L233.5,343.8 L234.5,343.9 L235.6,343.9 L236.6,344 L237.7,344.1 L238.7,344.1 L239.8,344.2 L240.9,344.2 L241.9,344.3 L243,344.4 L244.1,344.4 L245.2,344.5 L246.3,344.6 L247.4,344.6 L248.5,344.7 L249.7,344.8 L250.8,344.8 L251.9,344.9 L253.1,345 L254.2,345 L255.4,345.1 L256.6,345.1 L257.7,345.2 L258.9,345.3 L260.1,345.3 L261.3,345.4 L262.5,345.5 L263.7,345.5 L264.9,345.6 L266.2,345.6 L267.4,345.7 L268.6,345.8 L269.9,345.8 L271.2,345.9 L272.4,346 L273.7,346 L275,346.1 L276.3,346.1 L277.6,346.2 L278.9,346.3 L280.2,346.3 L281.5,346.4 L282.8,346.4 L284.2,346.5 L285.5,346.5 L286.9,346.6 L288.3,346.7 L289.6,346.7 L291,346.8 L292.4,346.8 L293.8,346.9 L295.2,347 L296.6,347 L298.1,347.1 L299.5,347.1 L300.9,347.2 L302.4,347.2 L303.9,347.3 L305.3,347.3 L306.8,347.4 L308.3,347.5 L309.8,347.5 L311.3,347.6 L312.8,347.6 L314.4,347.7 L315.9,347.7 L317.4,347.8 L319,347.8 L320.6,347.9 L322.1,348 L323.7,348 L325.3,348.1 L326.9,348.1 L328.6,348.2 L330.2,348.2 L331.8,348.3 L333.5,348.3 L335.1,348.4 L336.8,348.4 L338.5,348.5 L340.2,348.5 L341.9,348.6 L343.6,348.7 L345.3,348.7 L347,348.8 L348.8,348.8 L350.5,348.9 L352.3,348.9 L354.1,349 L355.9,349 L357.7,349.1 L359.5,349.1 L361.3,349.2 L363.1,349.2 L365,349.3 L366.8,349.3 L368.7,349.4 L370.6,349.4 L372.5,349.5 L374.4,349.5 L376.3,349.6 L378.2,349.6 L380.1,349.7 L382.1,349.7 L384.1,349.8 L386,349.8 L388,349.9 L390,349.9 L392,350 L394.1,350 L396.1,350.1 L398.2,350.1 L400.2,350.2 L402.3,350.2 L404.4,350.2 L406.5,350.3" fill="none" stroke="#12a552" stroke-width="2.4" stroke-linejoin="round" stroke-linecap="round" />
<path d="M71.3,17.6 L71.3,19 L71.4,20.5 L71.4,22.1 L71.4,23.6 L71.4,25.1 L71.4,26.7 L71.4,28.2 L71.4,29.7 L71.4,31.2 L71.4,32.7 L71.5,34.2 L71.5,35.7 L71.5,37.1 L71.5,38.6 L71.5,40.1 L71.5,41.5 L71.5,43 L71.5,44.4 L71.5,45.8 L71.6,47.3 L71.6,48.7 L71.6,50.1 L71.6,51.5 L71.6,52.9 L71.6,54.3 L71.6,55.7 L71.6,57.1 L71.6,58.5 L71.7,59.8 L71.7,61.2 L71.7,62.5 L71.7,63.9 L71.7,65.2 L71.7,66.6 L71.7,67.9 L71.7,69.2 L71.8,70.6 L71.8,71.9 L71.8,73.2 L71.8,74.5 L71.8,75.8 L71.8,77 L71.8,78.3 L71.9,79.6 L71.9,80.9 L71.9,82.1 L71.9,83.4 L71.9,84.6 L71.9,85.9 L71.9,87.1 L72,88.4 L72,89.6 L72,90.8 L72,92 L72,93.2 L72,94.4 L72,95.6 L72.1,96.8 L72.1,98 L72.1,99.2 L72.1,100.3 L72.1,101.5 L72.1,102.7 L72.1,103.8 L72.2,105 L72.2,106.1 L72.2,107.3 L72.2,108.4 L72.2,109.5 L72.2,110.7 L72.3,111.8 L72.3,112.9 L72.3,114 L72.3,115.1 L72.3,116.2 L72.3,117.3 L72.4,118.4 L72.4,119.4 L72.4,120.5 L72.4,121.6 L72.4,122.6 L72.4,123.7 L72.5,124.8 L72.5,125.8 L72.5,126.8 L72.5,127.9 L72.5,128.9 L72.5,129.9 L72.6,131 L72.6,132 L72.6,133 L72.6,134 L72.6,135 L72.6,136 L72.7,137 L72.7,138 L72.7,138.9 L72.7,139.9 L72.7,140.9 L72.8,141.8 L72.8,142.8 L72.8,143.8 L72.8,144.7 L72.8,145.7 L72.9,146.6 L72.9,147.5 L72.9,148.5 L72.9,149.4 L72.9,150.3 L73,151.2 L73,152.1 L73,153.1 L73,154 L73,154.9 L73.1,155.7 L73.1,156.6 L73.1,157.5 L73.1,158.4 L73.1,159.3 L73.2,160.1 L73.2,161 L73.2,161.9 L73.2,162.7 L73.3,163.6 L73.3,164.4 L73.3,165.3 L73.3,166.1 L73.3,166.9 L73.4,167.8 L73.4,168.6 L73.4,169.4 L73.4,170.2 L73.5,171 L73.5,171.8 L73.5,172.7 L73.5,173.5 L73.6,174.2 L73.6,175 L73.6,175.8 L73.6,176.6 L73.7,177.4 L73.7,178.9 L73.8,180.5 L73.8,182 L73.9,183.5 L73.9,184.9 L74,186.4 L74,187.8 L74.1,189.3 L74.1,190.7 L74.2,192.1 L74.2,193.5 L74.3,194.8 L74.4,196.2 L74.4,197.5 L74.5,198.9 L74.5,200.2 L74.6,201.5 L74.7,202.7 L74.7,204 L74.8,205.2 L74.9,206.5 L74.9,207.7 L75,208.9 L75,210.1 L75.1,211.3 L75.2,212.5 L75.3,213.6 L75.3,214.8 L75.4,215.9 L75.5,217 L75.5,218.1 L75.6,219.2 L75.7,220.3 L75.8,221.4 L75.8,222.4 L75.9,223.5 L76,224.5 L76.1,225.5 L76.2,226.5 L76.2,227.5 L76.3,228.5 L76.4,229.5 L76.5,230.4 L76.6,231.4 L76.7,232.3 L76.7,233.3 L76.8,234.2 L76.9,235.1 L77,236 L77.1,236.9 L77.2,237.8 L77.3,238.6 L77.4,239.5 L77.5,240.3 L77.6,241.2 L77.7,242 L77.8,242.8 L77.9,243.7 L78,244.5 L78.1,245.3 L78.2,246 L78.3,246.8 L78.4,247.6 L78.5,248.4 L78.6,249.1 L78.8,249.9 L78.9,250.6 L79,251.3 L79.1,252.1 L79.2,252.8 L79.3,253.5 L79.5,254.2 L79.6,254.9 L79.7,255.6 L79.8,256.2 L80,256.9 L80.2,257.9 L80.4,258.9 L80.6,259.9 L80.8,260.8 L81,261.8 L81.2,262.7 L81.4,263.6 L81.6,264.5 L81.9,265.4 L82.1,266.3 L82.3,267.2 L82.6,268 L82.8,268.9 L83.1,269.7 L83.3,270.6 L83.6,271.4 L83.8,272.2 L84.1,273 L84.4,273.8 L84.6,274.6 L84.9,275.4 L85.2,276.1 L85.5,276.9 L85.8,277.7 L86.1,278.4 L86.4,279.2 L86.7,279.9 L87.1,280.7 L87.4,281.4 L87.7,282.1 L88.1,282.8 L88.4,283.6 L88.8,284.3 L89.1,285 L89.5,285.7 L89.9,286.4 L90.3,287.1 L90.7,287.8 L91.1,288.5 L91.5,289.1 L91.9,289.8 L92.3,290.5 L92.7,291.2 L93.2,291.8 L93.6,292.5 L94.1,293.2 L94.5,293.8 L95,294.5 L95.5,295.1 L96,295.8 L96.5,296.4 L97,297.1 L97.5,297.7 L98,298.3 L98.6,299 L99.1,299.6 L99.7,300.2 L100.2,300.8 L100.8,301.4 L101.4,302 L101.8,302.5 L102.2,302.9 L102.6,303.3 L103,303.7 L103.5,304.1 L103.9,304.4 L104.3,304.8 L104.8,305.2 L105.2,305.6 L105.6,306 L106.1,306.4 L106.6,306.8 L107,307.2 L107.5,307.5 L108,307.9 L108.5,308.3 L108.9,308.7 L109.4,309 L109.9,309.4 L110.4,309.8 L111,310.1 L111.5,310.5 L112,310.9 L112.5,311.2 L113.1,311.6 L113.6,311.9 L114.2,312.3 L114.7,312.6 L115.3,313 L115.9,313.3 L116.5,313.7 L117.1,314 L117.7,314.3 L118.3,314.7 L118.9,315 L119.5,315.3 L120.1,315.7 L120.8,316 L121.4,316.3 L122.1,316.6 L122.7,317 L123.4,317.3 L124.1,317.6 L124.7,317.9 L125.4,318.2 L126.1,318.5 L126.9,318.8 L127.6,319.1 L128.3,319.4 L129,319.7 L129.8,320 L130.6,320.3 L131.3,320.6 L132.1,320.9 L132.9,321.2 L133.7,321.5 L134.5,321.7 L135.3,322 L136.1,322.3 L137,322.6 L137.8,322.8 L138.7,323.1 L139.5,323.4 L140.4,323.7 L141.3,323.9 L142.2,324.2 L143.1,324.4 L144.1,324.7 L145,325 L146,325.2 L146.9,325.5 L147.9,325.7 L148.9,326 L149.9,326.2 L150.9,326.4 L151.9,326.7 L152.9,326.9 L154,327.2 L155.1,327.4 L156.1,327.6 L157.2,327.9 L158.3,328.1 L159.5,328.3 L160.6,328.5 L161.7,328.8 L162.9,329 L164.1,329.2 L165.3,329.4 L166.5,329.6 L167.7,329.9 L168.9,330.1 L170.2,330.3 L171.4,330.5 L172.7,330.7 L174,330.9 L175.3,331.1 L176.7,331.3 L178,331.5 L179.4,331.7 L180.8,331.9 L182.2,332.1 L182.9,332.2 L183.6,332.3 L184.3,332.4 L185,332.5 L185.7,332.6 L186.5,332.7 L187.2,332.8 L188,332.9 L188.7,333 L189.4,333.1 L190.2,333.2 L191,333.2 L191.7,333.3 L192.5,333.4 L193.3,333.5 L194,333.6 L194.8,333.7 L195.6,333.8 L196.4,333.9 L197.2,334 L198,334.1 L198.8,334.2 L199.6,334.2 L200.4,334.3 L201.2,334.4 L202.1,334.5 L202.9,334.6 L203.7,334.7 L204.6,334.8 L205.4,334.9 L206.3,334.9 L207.1,335 L208,335.1 L208.9,335.2 L209.8,335.3 L210.6,335.4 L211.5,335.4 L212.4,335.5 L213.3,335.6 L214.2,335.7 L215.1,335.8 L216,335.9 L217,335.9 L217.9,336 L218.8,336.1 L219.8,336.2 L220.7,336.3 L221.6,336.3 L222.6,336.4 L223.6,336.5 L224.5,336.6 L225.5,336.7 L226.5,336.7 L227.5,336.8 L228.5,336.9 L229.5,337 L230.5,337 L231.5,337.1 L232.5,337.2 L233.5,337.3 L234.5,337.4 L235.6,337.4 L236.6,337.5 L237.7,337.6 L238.7,337.7 L239.8,337.7 L240.9,337.8 L241.9,337.9 L243,337.9 L244.1,338 L245.2,338.1 L246.3,338.2 L247.4,338.2 L248.5,338.3 L249.7,338.4 L250.8,338.5 L251.9,338.5 L253.1,338.6 L254.2,338.7 L255.4,338.7 L256.6,338.8 L257.7,338.9 L258.9,338.9 L260.1,339 L261.3,339.1 L262.5,339.1 L263.7,339.2 L264.9,339.3 L266.2,339.4 L267.4,339.4 L268.6,339.5 L269.9,339.6 L271.2,339.6 L272.4,339.7 L273.7,339.7 L275,339.8 L276.3,339.9 L277.6,339.9 L278.9,340 L280.2,340.1 L281.5,340.1 L282.8,340.2 L284.2,340.3 L285.5,340.3 L286.9,340.4 L288.3,340.5 L289.6,340.5 L291,340.6 L292.4,340.6 L293.8,340.7 L295.2,340.8 L296.6,340.8 L298.1,340.9 L299.5,340.9 L300.9,341 L302.4,341.1 L303.9,341.1 L305.3,341.2 L306.8,341.2 L308.3,341.3 L309.8,341.4 L311.3,341.4 L312.8,341.5 L314.4,341.5 L315.9,341.6 L317.4,341.7 L319,341.7 L320.6,341.8 L322.1,341.8 L323.7,341.9 L325.3,341.9 L326.9,342 L328.6,342.1 L330.2,342.1 L331.8,342.2 L333.5,342.2 L335.1,342.3 L336.8,342.3 L338.5,342.4 L340.2,342.4 L341.9,342.5 L343.6,342.5 L345.3,342.6 L347,342.7 L348.8,342.7 L350.5,342.8 L352.3,342.8 L354.1,342.9 L355.9,342.9 L357.7,343 L359.5,343 L361.3,343.1 L363.1,343.1 L365,343.2 L366.8,343.2 L368.7,343.3 L370.6,343.3 L372.5,343.4 L374.4,343.4 L376.3,343.5 L378.2,343.5 L380.1,343.6 L382.1,343.6 L384.1,343.7 L386,343.7 L388,343.8 L390,343.8 L392,343.9 L394.1,343.9 L396.1,344 L398.2,344 L400.2,344.1 L402.3,344.1 L404.4,344.2 L406.5,344.2" fill="none" stroke="#3b6b1a" stroke-width="2.4" stroke-linejoin="round" stroke-linecap="round" />
<path d="M71.5,17.6 L71.5,18.5 L71.5,19.7 L71.5,20.9 L71.5,22.2 L71.6,23.4 L71.6,24.6 L71.6,25.8 L71.6,27 L71.6,28.2 L71.6,29.4 L71.6,30.6 L71.6,31.8 L71.6,33 L71.7,34.2 L71.7,35.4 L71.7,36.6 L71.7,37.7 L71.7,38.9 L71.7,40.1 L71.7,41.2 L71.7,42.4 L71.8,43.5 L71.8,44.7 L71.8,45.8 L71.8,46.9 L71.8,48.1 L71.8,49.2 L71.8,50.3 L71.9,51.4 L71.9,52.6 L71.9,53.7 L71.9,54.8 L71.9,55.9 L71.9,57 L71.9,58.1 L72,59.2 L72,60.2 L72,61.3 L72,62.4 L72,63.5 L72,64.5 L72,65.6 L72.1,66.7 L72.1,67.7 L72.1,68.8 L72.1,69.8 L72.1,70.9 L72.1,71.9 L72.1,73 L72.2,74 L72.2,75 L72.2,76 L72.2,77.1 L72.2,78.1 L72.2,79.1 L72.3,80.1 L72.3,81.1 L72.3,82.1 L72.3,83.1 L72.3,84.1 L72.3,85.1 L72.4,86.1 L72.4,87.1 L72.4,88.1 L72.4,89 L72.4,90 L72.4,91 L72.5,91.9 L72.5,92.9 L72.5,93.9 L72.5,94.8 L72.5,95.8 L72.5,96.7 L72.6,97.7 L72.6,98.6 L72.6,99.5 L72.6,100.5 L72.6,101.4 L72.6,102.3 L72.7,103.2 L72.7,104.2 L72.7,105.1 L72.7,106 L72.7,106.9 L72.8,107.8 L72.8,108.7 L72.8,109.6 L72.8,110.5 L72.8,111.4 L72.9,112.3 L72.9,113.1 L72.9,114 L72.9,114.9 L72.9,115.8 L73,116.6 L73,117.5 L73,118.4 L73,119.2 L73,120.1 L73.1,120.9 L73.1,121.8 L73.1,122.6 L73.1,123.5 L73.1,124.3 L73.2,125.2 L73.2,126 L73.2,126.8 L73.2,127.7 L73.3,128.5 L73.3,129.3 L73.3,130.1 L73.3,130.9 L73.3,131.7 L73.4,132.6 L73.4,133.4 L73.4,134.2 L73.4,135 L73.5,135.8 L73.5,136.5 L73.5,137.3 L73.5,138.1 L73.6,138.9 L73.6,139.7 L73.6,140.5 L73.7,142 L73.7,143.5 L73.8,145.1 L73.8,146.6 L73.9,148.1 L73.9,149.6 L74,151 L74,152.5 L74.1,154 L74.1,155.4 L74.2,156.8 L74.2,158.2 L74.3,159.7 L74.4,161 L74.4,162.4 L74.5,163.8 L74.5,165.2 L74.6,166.5 L74.7,167.9 L74.7,169.2 L74.8,170.5 L74.9,171.8 L74.9,173.1 L75,174.4 L75,175.7 L75.1,177 L75.2,178.2 L75.3,179.5 L75.3,180.7 L75.4,182 L75.5,183.2 L75.5,184.4 L75.6,185.6 L75.7,186.8 L75.8,188 L75.8,189.2 L75.9,190.3 L76,191.5 L76.1,192.6 L76.2,193.8 L76.2,194.9 L76.3,196 L76.4,197.2 L76.5,198.3 L76.6,199.4 L76.7,200.4 L76.7,201.5 L76.8,202.6 L76.9,203.7 L77,204.7 L77.1,205.8 L77.2,206.8 L77.3,207.8 L77.4,208.9 L77.5,209.9 L77.6,210.9 L77.7,211.9 L77.8,212.9 L77.9,213.9 L78,214.8 L78.1,215.8 L78.2,216.8 L78.3,217.7 L78.4,218.7 L78.5,219.6 L78.6,220.6 L78.8,221.5 L78.9,222.4 L79,223.3 L79.1,224.2 L79.2,225.1 L79.3,226 L79.5,226.9 L79.6,227.8 L79.7,228.7 L79.8,229.5 L80,230.4 L80.1,231.2 L80.2,232.1 L80.4,232.9 L80.5,233.8 L80.6,234.6 L80.8,235.4 L80.9,236.2 L81,237.1 L81.2,237.9 L81.3,238.7 L81.5,239.5 L81.6,240.3 L81.8,241 L81.9,241.8 L82.1,242.6 L82.2,243.4 L82.4,244.1 L82.6,244.9 L82.7,245.6 L82.9,246.4 L83.1,247.1 L83.2,247.9 L83.4,248.6 L83.6,249.3 L83.7,250 L83.9,250.8 L84.1,251.5 L84.3,252.2 L84.5,252.9 L84.6,253.6 L84.8,254.3 L85,255 L85.2,255.7 L85.4,256.3 L85.6,257 L85.8,257.7 L86,258.4 L86.2,259 L86.4,259.7 L86.6,260.3 L86.9,261 L87.1,261.6 L87.3,262.3 L87.5,262.9 L87.7,263.6 L88,264.2 L88.2,264.8 L88.4,265.4 L88.7,266.1 L88.9,266.7 L89.1,267.3 L89.4,267.9 L89.6,268.5 L89.9,269.1 L90.1,269.7 L90.4,270.3 L90.7,270.9 L90.9,271.5 L91.2,272 L91.5,272.6 L91.7,273.2 L92,273.8 L92.3,274.3 L92.6,274.9 L92.9,275.5 L93.2,276 L93.5,276.6 L93.8,277.1 L94.1,277.7 L94.4,278.2 L94.7,278.8 L95,279.3 L95.3,279.8 L95.6,280.4 L96,280.9 L96.3,281.4 L96.6,281.9 L97,282.5 L97.3,283 L97.7,283.5 L98,284 L98.4,284.5 L98.7,285 L99.1,285.5 L99.5,286 L99.9,286.5 L100.2,287 L100.6,287.5 L101,287.9 L101.4,288.4 L101.8,288.9 L102.2,289.4 L102.6,289.9 L103,290.3 L103.5,290.8 L103.9,291.2 L104.3,291.7 L104.8,292.2 L105.2,292.6 L105.6,293.1 L106.1,293.5 L106.6,294 L107,294.4 L107.5,294.8 L108,295.3 L108.5,295.7 L108.9,296.1 L109.4,296.6 L109.9,297 L110.4,297.4 L111,297.8 L111.5,298.2 L112,298.7 L112.5,299.1 L113.1,299.5 L113.6,299.9 L114.2,300.3 L114.7,300.7 L115.3,301.1 L115.9,301.5 L116.5,301.9 L117.1,302.3 L117.7,302.6 L118.3,303 L118.9,303.4 L119.5,303.8 L120.1,304.2 L120.8,304.5 L121.4,304.9 L122.1,305.3 L122.7,305.6 L123.4,306 L124.1,306.4 L124.7,306.7 L125.4,307.1 L126.1,307.4 L126.9,307.8 L127.6,308.1 L128.3,308.5 L129,308.8 L129.8,309.1 L130.6,309.5 L131.3,309.8 L132.1,310.1 L132.9,310.5 L133.7,310.8 L134.5,311.1 L135.3,311.5 L136.1,311.8 L137,312.1 L137.8,312.4 L138.7,312.7 L139.5,313 L140.4,313.3 L141.3,313.7 L142.2,314 L143.1,314.3 L144.1,314.6 L145,314.9 L146,315.2 L146.9,315.5 L147.9,315.7 L148.9,316 L149.9,316.3 L150.9,316.6 L151.9,316.9 L152.9,317.2 L154,317.5 L155.1,317.7 L156.1,318 L157.2,318.3 L158.3,318.6 L159.5,318.8 L160.6,319.1 L161.7,319.4 L162.9,319.6 L164.1,319.9 L165.3,320.2 L166.5,320.4 L167.7,320.7 L168.9,320.9 L170.2,321.2 L171.4,321.4 L172.7,321.7 L174,321.9 L175.3,322.2 L176.7,322.4 L178,322.7 L178.7,322.8 L179.4,322.9 L180.1,323 L180.8,323.1 L181.5,323.3 L182.2,323.4 L182.9,323.5 L183.6,323.6 L184.3,323.7 L185,323.9 L185.7,324 L186.5,324.1 L187.2,324.2 L188,324.3 L188.7,324.4 L189.4,324.5 L190.2,324.7 L191,324.8 L191.7,324.9 L192.5,325 L193.3,325.1 L194,325.2 L194.8,325.3 L195.6,325.4 L196.4,325.6 L197.2,325.7 L198,325.8 L198.8,325.9 L199.6,326 L200.4,326.1 L201.2,326.2 L202.1,326.3 L202.9,326.4 L203.7,326.5 L204.6,326.6 L205.4,326.7 L206.3,326.9 L207.1,327 L208,327.1 L208.9,327.2 L209.8,327.3 L210.6,327.4 L211.5,327.5 L212.4,327.6 L213.3,327.7 L214.2,327.8 L215.1,327.9 L216,328 L217,328.1 L217.9,328.2 L218.8,328.3 L219.8,328.4 L220.7,328.5 L221.6,328.6 L222.6,328.7 L223.6,328.8 L224.5,328.9 L225.5,329 L226.5,329.1 L227.5,329.2 L228.5,329.3 L229.5,329.4 L230.5,329.5 L231.5,329.6 L232.5,329.7 L233.5,329.8 L234.5,329.9 L235.6,330 L236.6,330.1 L237.7,330.1 L238.7,330.2 L239.8,330.3 L240.9,330.4 L241.9,330.5 L243,330.6 L244.1,330.7 L245.2,330.8 L246.3,330.9 L247.4,331 L248.5,331.1 L249.7,331.2 L250.8,331.3 L251.9,331.3 L253.1,331.4 L254.2,331.5 L255.4,331.6 L256.6,331.7 L257.7,331.8 L258.9,331.9 L260.1,332 L261.3,332 L262.5,332.1 L263.7,332.2 L264.9,332.3 L266.2,332.4 L267.4,332.5 L268.6,332.6 L269.9,332.7 L271.2,332.7 L272.4,332.8 L273.7,332.9 L275,333 L276.3,333.1 L277.6,333.2 L278.9,333.2 L280.2,333.3 L281.5,333.4 L282.8,333.5 L284.2,333.6 L285.5,333.7 L286.9,333.7 L288.3,333.8 L289.6,333.9 L291,334 L292.4,334.1 L293.8,334.1 L295.2,334.2 L296.6,334.3 L298.1,334.4 L299.5,334.5 L300.9,334.5 L302.4,334.6 L303.9,334.7 L305.3,334.8 L306.8,334.8 L308.3,334.9 L309.8,335 L311.3,335.1 L312.8,335.1 L314.4,335.2 L315.9,335.3 L317.4,335.4 L319,335.4 L320.6,335.5 L322.1,335.6 L323.7,335.7 L325.3,335.7 L326.9,335.8 L328.6,335.9 L330.2,336 L331.8,336 L333.5,336.1 L335.1,336.2 L336.8,336.3 L338.5,336.3 L340.2,336.4 L341.9,336.5 L343.6,336.5 L345.3,336.6 L347,336.7 L348.8,336.8 L350.5,336.8 L352.3,336.9 L354.1,337 L355.9,337 L357.7,337.1 L359.5,337.2 L361.3,337.2 L363.1,337.3 L365,337.4 L366.8,337.4 L368.7,337.5 L370.6,337.6 L372.5,337.6 L374.4,337.7 L376.3,337.8 L378.2,337.8 L380.1,337.9 L382.1,338 L384.1,338 L386,338.1 L388,338.2 L390,338.2 L392,338.3 L394.1,338.4 L396.1,338.4 L398.2,338.5 L400.2,338.6 L402.3,338.6 L404.4,338.7 L406.5,338.8" fill="none" stroke="#2aaee6" stroke-width="2.4" stroke-linejoin="round" stroke-linecap="round" />
<path d="M72.1,17.6 L72.1,19.4 L72.1,20.8 L72.1,22.2 L72.1,23.6 L72.1,25 L72.2,26.3 L72.2,27.7 L72.2,29.1 L72.2,30.4 L72.2,31.8 L72.2,33.1 L72.3,34.5 L72.3,35.8 L72.3,37.1 L72.3,38.4 L72.3,39.8 L72.3,41.1 L72.4,42.4 L72.4,43.7 L72.4,44.9 L72.4,46.2 L72.4,47.5 L72.4,48.8 L72.5,50 L72.5,51.3 L72.5,52.5 L72.5,53.8 L72.5,55 L72.5,56.3 L72.6,57.5 L72.6,58.7 L72.6,59.9 L72.6,61.1 L72.6,62.3 L72.6,63.5 L72.7,64.7 L72.7,65.9 L72.7,67.1 L72.7,68.3 L72.7,69.4 L72.8,70.6 L72.8,71.7 L72.8,72.9 L72.8,74 L72.8,75.2 L72.9,76.3 L72.9,77.4 L72.9,78.6 L72.9,79.7 L72.9,80.8 L73,81.9 L73,83 L73,84.1 L73,85.2 L73,86.3 L73.1,87.4 L73.1,88.4 L73.1,89.5 L73.1,90.6 L73.1,91.6 L73.2,92.7 L73.2,93.7 L73.2,94.8 L73.2,95.8 L73.3,96.8 L73.3,97.9 L73.3,98.9 L73.3,99.9 L73.3,100.9 L73.4,101.9 L73.4,102.9 L73.4,103.9 L73.4,104.9 L73.5,105.9 L73.5,106.9 L73.5,107.9 L73.5,108.9 L73.6,109.8 L73.6,110.8 L73.6,111.8 L73.6,112.7 L73.7,113.7 L73.7,114.6 L73.7,115.6 L73.7,116.5 L73.8,117.4 L73.8,118.4 L73.8,119.3 L73.8,120.2 L73.9,121.1 L73.9,122 L73.9,122.9 L73.9,123.8 L74,124.7 L74,125.6 L74,126.5 L74,127.4 L74.1,128.3 L74.1,129.2 L74.1,130 L74.2,130.9 L74.2,131.8 L74.2,132.6 L74.2,133.5 L74.3,134.3 L74.3,135.2 L74.3,136 L74.4,136.9 L74.4,137.7 L74.4,138.5 L74.4,139.4 L74.5,140.2 L74.5,141 L74.5,141.8 L74.6,142.6 L74.6,143.5 L74.6,144.3 L74.7,145.1 L74.7,145.9 L74.7,146.7 L74.8,147.4 L74.8,148.2 L74.8,149 L74.9,149.8 L74.9,150.6 L74.9,151.3 L74.9,152.1 L75,153.6 L75.1,155.1 L75.1,156.6 L75.2,158.1 L75.3,159.6 L75.4,161 L75.4,162.5 L75.5,163.9 L75.6,165.3 L75.6,166.7 L75.7,168.1 L75.8,169.5 L75.9,170.8 L76,172.2 L76,173.5 L76.1,174.8 L76.2,176.1 L76.3,177.4 L76.4,178.7 L76.4,180 L76.5,181.3 L76.6,182.5 L76.7,183.8 L76.8,185 L76.9,186.2 L77,187.4 L77.1,188.6 L77.2,189.8 L77.2,191 L77.3,192.1 L77.4,193.3 L77.5,194.4 L77.6,195.5 L77.7,196.7 L77.8,197.8 L77.9,198.9 L78,200 L78.2,201 L78.3,202.1 L78.4,203.2 L78.5,204.2 L78.6,205.3 L78.7,206.3 L78.8,207.3 L78.9,208.3 L79,209.4 L79.2,210.4 L79.3,211.3 L79.4,212.3 L79.5,213.3 L79.6,214.3 L79.8,215.2 L79.9,216.2 L80,217.1 L80.2,218 L80.3,218.9 L80.4,219.9 L80.6,220.8 L80.7,221.7 L80.8,222.6 L81,223.4 L81.1,224.3 L81.3,225.2 L81.4,226 L81.6,226.9 L81.7,227.7 L81.9,228.6 L82,229.4 L82.2,230.2 L82.3,231.1 L82.5,231.9 L82.6,232.7 L82.8,233.5 L83,234.3 L83.1,235.1 L83.3,235.8 L83.5,236.6 L83.7,237.4 L83.8,238.1 L84,238.9 L84.2,239.6 L84.4,240.4 L84.6,241.1 L84.7,241.9 L84.9,242.6 L85.1,243.3 L85.3,244 L85.5,244.7 L85.7,245.4 L85.9,246.1 L86.1,246.8 L86.3,247.5 L86.5,248.2 L86.7,248.9 L87,249.6 L87.2,250.2 L87.4,250.9 L87.6,251.5 L87.9,252.2 L88.1,252.8 L88.3,253.5 L88.5,254.1 L88.8,254.8 L89,255.4 L89.3,256 L89.5,256.6 L89.8,257.3 L90,257.9 L90.3,258.5 L90.5,259.1 L90.8,259.7 L91.1,260.3 L91.3,260.9 L91.6,261.5 L91.9,262.1 L92.2,262.6 L92.4,263.2 L92.7,263.8 L93,264.4 L93.3,264.9 L93.6,265.5 L93.9,266 L94.2,266.6 L94.5,267.2 L94.8,267.7 L95.2,268.3 L95.5,268.8 L95.8,269.3 L96.1,269.9 L96.5,270.4 L96.8,270.9 L97.2,271.5 L97.5,272 L97.8,272.5 L98.2,273 L98.6,273.5 L98.9,274 L99.3,274.6 L99.7,275.1 L100,275.6 L100.4,276.1 L100.8,276.6 L101.2,277.1 L101.6,277.5 L102,278 L102.4,278.5 L102.8,279 L103.2,279.5 L103.7,280 L104.1,280.4 L104.5,280.9 L105,281.4 L105.4,281.9 L105.9,282.3 L106.3,282.8 L106.8,283.3 L107.3,283.7 L107.7,284.2 L108.2,284.6 L108.7,285.1 L109.2,285.5 L109.7,286 L110.2,286.4 L110.7,286.9 L111.2,287.3 L111.7,287.8 L112.3,288.2 L112.8,288.6 L113.4,289.1 L113.9,289.5 L114.5,289.9 L115,290.4 L115.6,290.8 L116.2,291.2 L116.8,291.6 L117.4,292.1 L118,292.5 L118.6,292.9 L119.2,293.3 L119.8,293.7 L120.4,294.1 L121.1,294.5 L121.7,295 L122.4,295.4 L123,295.8 L123.7,296.2 L124.4,296.6 L125.1,297 L125.8,297.4 L126.5,297.8 L127.2,298.2 L127.9,298.5 L128.7,298.9 L129.4,299.3 L130.2,299.7 L130.9,300.1 L131.7,300.5 L132.5,300.9 L133.3,301.2 L134.1,301.6 L134.9,302 L135.7,302.4 L136.6,302.7 L137.4,303.1 L138.2,303.5 L139.1,303.8 L140,304.2 L140.9,304.6 L141.8,304.9 L142.7,305.3 L143.6,305.6 L144.5,306 L145.5,306.4 L146.4,306.7 L147.4,307.1 L148.4,307.4 L149.4,307.7 L150.4,308.1 L151.4,308.4 L152.4,308.8 L153.5,309.1 L154.5,309.4 L155.6,309.8 L156.7,310.1 L157.8,310.4 L158.9,310.8 L160,311.1 L161.2,311.4 L162.3,311.7 L163.5,312.1 L164.7,312.4 L165.9,312.7 L167.1,313 L168.3,313.3 L169.5,313.6 L170.8,313.9 L172.1,314.2 L173.4,314.5 L174,314.7 L174.7,314.8 L175.3,315 L176,315.1 L176.7,315.3 L177.3,315.4 L178,315.6 L178.7,315.7 L179.4,315.9 L180.1,316 L180.8,316.2 L181.5,316.3 L182.2,316.4 L182.9,316.6 L183.6,316.7 L184.3,316.9 L185,317 L185.7,317.2 L186.5,317.3 L187.2,317.4 L188,317.6 L188.7,317.7 L189.4,317.8 L190.2,318 L191,318.1 L191.7,318.3 L192.5,318.4 L193.3,318.5 L194,318.7 L194.8,318.8 L195.6,318.9 L196.4,319.1 L197.2,319.2 L198,319.3 L198.8,319.4 L199.6,319.6 L200.4,319.7 L201.2,319.8 L202.1,320 L202.9,320.1 L203.7,320.2 L204.6,320.3 L205.4,320.5 L206.3,320.6 L207.1,320.7 L208,320.8 L208.9,321 L209.8,321.1 L210.6,321.2 L211.5,321.3 L212.4,321.4 L213.3,321.6 L214.2,321.7 L215.1,321.8 L216,321.9 L217,322 L217.9,322.1 L218.8,322.3 L219.8,322.4 L220.7,322.5 L221.6,322.6 L222.6,322.7 L223.6,322.8 L224.5,322.9 L225.5,323 L226.5,323.1 L227.5,323.3 L228.5,323.4 L229.5,323.5 L230.5,323.6 L231.5,323.7 L232.5,323.8 L233.5,323.9 L234.5,324 L235.6,324.1 L236.6,324.2 L237.7,324.3 L238.7,324.4 L239.8,324.5 L240.9,324.6 L241.9,324.7 L243,324.8 L244.1,324.9 L245.2,325 L246.3,325.1 L247.4,325.2 L248.5,325.3 L249.7,325.4 L250.8,325.5 L251.9,325.6 L253.1,325.7 L254.2,325.7 L255.4,325.8 L256.6,325.9 L257.7,326 L258.9,326.1 L260.1,326.2 L261.3,326.3 L262.5,326.4 L263.7,326.5 L264.9,326.5 L266.2,326.6 L267.4,326.7 L268.6,326.8 L269.9,326.9 L271.2,327 L272.4,327 L273.7,327.1 L275,327.2 L276.3,327.3 L277.6,327.4 L278.9,327.4 L280.2,327.5 L281.5,327.6 L282.8,327.7 L284.2,327.7 L285.5,327.8 L286.9,327.9 L288.3,328 L289.6,328 L291,328.1 L292.4,328.2 L293.8,328.3 L295.2,328.3 L296.6,328.4 L298.1,328.5 L299.5,328.5 L300.9,328.6 L302.4,328.7 L303.9,328.7 L305.3,328.8 L306.8,328.9 L308.3,328.9 L309.8,329 L311.3,329.1 L312.8,329.1 L314.4,329.2 L315.9,329.3 L317.4,329.3 L319,329.4 L320.6,329.4 L322.1,329.5 L323.7,329.6 L325.3,329.6 L326.9,329.7 L328.6,329.7 L330.2,329.8 L331.8,329.9 L333.5,329.9 L335.1,330 L336.8,330 L338.5,330.1 L340.2,330.1 L341.9,330.2 L343.6,330.2 L345.3,330.3 L347,330.3 L348.8,330.4 L350.5,330.4 L352.3,330.5 L354.1,330.5 L355.9,330.6 L357.7,330.6 L359.5,330.7 L361.3,330.7 L363.1,330.8 L365,330.8 L366.8,330.9 L368.7,330.9 L370.6,331 L372.5,331 L374.4,331.1 L376.3,331.1 L378.2,331.1 L380.1,331.2 L382.1,331.2 L384.1,331.3 L386,331.3 L388,331.4 L390,331.4 L392,331.4 L394.1,331.5 L396.1,331.5 L398.2,331.6 L400.2,331.6 L402.3,331.6 L404.4,331.7 L406.5,331.7" fill="none" stroke="#1f6fb8" stroke-width="2.4" stroke-linejoin="round" stroke-linecap="round" />
<path d="M72.7,17.6 L72.7,19 L72.7,20.2 L72.7,21.4 L72.8,22.7 L72.8,23.9 L72.8,25.2 L72.8,26.4 L72.8,27.6 L72.9,28.8 L72.9,30.1 L72.9,31.3 L72.9,32.5 L72.9,33.7 L73,34.9 L73,36.1 L73,37.3 L73,38.5 L73,39.7 L73.1,40.9 L73.1,42.1 L73.1,43.3 L73.1,44.4 L73.1,45.6 L73.2,46.8 L73.2,48 L73.2,49.1 L73.2,50.3 L73.3,51.4 L73.3,52.6 L73.3,53.7 L73.3,54.9 L73.3,56 L73.4,57.2 L73.4,58.3 L73.4,59.4 L73.4,60.6 L73.5,61.7 L73.5,62.8 L73.5,63.9 L73.5,65.1 L73.6,66.2 L73.6,67.3 L73.6,68.4 L73.6,69.5 L73.7,70.6 L73.7,71.7 L73.7,72.8 L73.7,73.8 L73.8,74.9 L73.8,76 L73.8,77.1 L73.8,78.2 L73.9,79.2 L73.9,80.3 L73.9,81.3 L73.9,82.4 L74,83.5 L74,84.5 L74,85.5 L74,86.6 L74.1,87.6 L74.1,88.7 L74.1,89.7 L74.2,90.7 L74.2,91.7 L74.2,92.8 L74.2,93.8 L74.3,94.8 L74.3,95.8 L74.3,96.8 L74.4,97.8 L74.4,98.8 L74.4,99.8 L74.4,100.8 L74.5,101.7 L74.5,102.7 L74.5,103.7 L74.6,104.7 L74.6,105.6 L74.6,106.6 L74.7,107.6 L74.7,108.5 L74.7,109.5 L74.8,110.4 L74.8,111.4 L74.8,112.3 L74.9,113.3 L74.9,114.2 L74.9,115.1 L74.9,116.1 L75,117 L75,117.9 L75,118.8 L75.1,119.7 L75.1,120.6 L75.1,121.5 L75.2,122.4 L75.2,123.3 L75.3,124.2 L75.3,125.1 L75.3,126 L75.4,126.9 L75.4,127.8 L75.4,128.6 L75.5,129.5 L75.5,130.4 L75.5,131.2 L75.6,132.1 L75.6,132.9 L75.6,133.8 L75.7,134.6 L75.7,135.5 L75.8,136.3 L75.8,137.1 L75.8,138 L75.9,138.8 L75.9,139.6 L76,140.5 L76,141.3 L76,142.1 L76.1,142.9 L76.1,143.7 L76.2,144.5 L76.2,145.3 L76.2,146.1 L76.3,146.9 L76.3,147.7 L76.4,148.4 L76.4,149.2 L76.4,150 L76.5,150.8 L76.5,151.5 L76.6,152.3 L76.6,153.1 L76.7,153.8 L76.7,155.3 L76.8,156.8 L76.9,158.3 L77,159.7 L77.1,161.2 L77.2,162.6 L77.3,164 L77.4,165.4 L77.5,166.8 L77.6,168.2 L77.7,169.6 L77.8,170.9 L77.9,172.2 L78,173.6 L78.1,174.9 L78.2,176.2 L78.3,177.5 L78.4,178.7 L78.5,180 L78.6,181.2 L78.8,182.5 L78.9,183.7 L79,184.9 L79.1,186.1 L79.2,187.3 L79.3,188.4 L79.5,189.6 L79.6,190.7 L79.7,191.9 L79.8,193 L80,194.1 L80.1,195.2 L80.2,196.3 L80.4,197.4 L80.5,198.5 L80.6,199.5 L80.8,200.6 L80.9,201.6 L81,202.7 L81.2,203.7 L81.3,204.7 L81.5,205.7 L81.6,206.7 L81.8,207.7 L81.9,208.7 L82.1,209.7 L82.2,210.6 L82.4,211.6 L82.6,212.5 L82.7,213.5 L82.9,214.4 L83.1,215.3 L83.2,216.2 L83.4,217.1 L83.6,218 L83.7,218.9 L83.9,219.8 L84.1,220.7 L84.3,221.5 L84.5,222.4 L84.6,223.2 L84.8,224.1 L85,224.9 L85.2,225.8 L85.4,226.6 L85.6,227.4 L85.8,228.2 L86,229 L86.2,229.8 L86.4,230.6 L86.6,231.4 L86.9,232.2 L87.1,233 L87.3,233.8 L87.5,234.5 L87.7,235.3 L88,236.1 L88.2,236.8 L88.4,237.6 L88.7,238.3 L88.9,239.1 L89.1,239.8 L89.4,240.5 L89.6,241.2 L89.9,242 L90.1,242.7 L90.4,243.4 L90.7,244.1 L90.9,244.8 L91.2,245.5 L91.5,246.2 L91.7,246.9 L92,247.5 L92.3,248.2 L92.6,248.9 L92.9,249.6 L93.2,250.2 L93.5,250.9 L93.8,251.5 L94.1,252.2 L94.4,252.8 L94.7,253.5 L95,254.1 L95.3,254.8 L95.6,255.4 L96,256 L96.3,256.6 L96.6,257.3 L97,257.9 L97.3,258.5 L97.7,259.1 L98,259.7 L98.4,260.3 L98.7,260.9 L99.1,261.5 L99.5,262.1 L99.9,262.7 L100.2,263.2 L100.6,263.8 L101,264.4 L101.4,265 L101.8,265.5 L102.2,266.1 L102.6,266.7 L103,267.2 L103.5,267.8 L103.9,268.3 L104.3,268.9 L104.8,269.4 L105.2,269.9 L105.6,270.5 L106.1,271 L106.6,271.5 L107,272.1 L107.5,272.6 L108,273.1 L108.5,273.6 L108.9,274.1 L109.4,274.6 L109.9,275.2 L110.4,275.7 L111,276.2 L111.5,276.7 L112,277.2 L112.5,277.6 L113.1,278.1 L113.6,278.6 L114.2,279.1 L114.7,279.6 L115.3,280.1 L115.9,280.5 L116.5,281 L117.1,281.5 L117.7,281.9 L118.3,282.4 L118.9,282.9 L119.5,283.3 L120.1,283.8 L120.8,284.2 L121.4,284.7 L122.1,285.1 L122.7,285.5 L123.4,286 L124.1,286.4 L124.7,286.9 L125.4,287.3 L126.1,287.7 L126.9,288.1 L127.6,288.6 L128.3,289 L129,289.4 L129.8,289.8 L130.6,290.2 L131.3,290.6 L132.1,291 L132.9,291.5 L133.7,291.9 L134.5,292.3 L135.3,292.7 L136.1,293 L137,293.4 L137.8,293.8 L138.7,294.2 L139.5,294.6 L140.4,295 L141.3,295.4 L142.2,295.7 L143.1,296.1 L144.1,296.5 L145,296.9 L146,297.2 L146.9,297.6 L147.9,298 L148.9,298.3 L149.9,298.7 L150.9,299 L151.9,299.4 L152.9,299.8 L154,300.1 L155.1,300.5 L156.1,300.8 L157.2,301.1 L158.3,301.5 L159.5,301.8 L160.6,302.2 L161.7,302.5 L162.9,302.8 L164.1,303.2 L165.3,303.5 L166.5,303.8 L167.7,304.1 L168.9,304.5 L170.2,304.8 L171.4,305.1 L172.7,305.4 L173.4,305.6 L174,305.7 L174.7,305.9 L175.3,306.1 L176,306.2 L176.7,306.4 L177.3,306.5 L178,306.7 L178.7,306.8 L179.4,307 L180.1,307.1 L180.8,307.3 L181.5,307.4 L182.2,307.6 L182.9,307.8 L183.6,307.9 L184.3,308.1 L185,308.2 L185.7,308.4 L186.5,308.5 L187.2,308.6 L188,308.8 L188.7,308.9 L189.4,309.1 L190.2,309.2 L191,309.4 L191.7,309.5 L192.5,309.7 L193.3,309.8 L194,310 L194.8,310.1 L195.6,310.3 L196.4,310.4 L197.2,310.5 L198,310.7 L198.8,310.8 L199.6,311 L200.4,311.1 L201.2,311.2 L202.1,311.4 L202.9,311.5 L203.7,311.7 L204.6,311.8 L205.4,311.9 L206.3,312.1 L207.1,312.2 L208,312.4 L208.9,312.5 L209.8,312.6 L210.6,312.8 L211.5,312.9 L212.4,313 L213.3,313.2 L214.2,313.3 L215.1,313.4 L216,313.6 L217,313.7 L217.9,313.8 L218.8,314 L219.8,314.1 L220.7,314.2 L221.6,314.4 L222.6,314.5 L223.6,314.6 L224.5,314.7 L225.5,314.9 L226.5,315 L227.5,315.1 L228.5,315.3 L229.5,315.4 L230.5,315.5 L231.5,315.6 L232.5,315.8 L233.5,315.9 L234.5,316 L235.6,316.1 L236.6,316.3 L237.7,316.4 L238.7,316.5 L239.8,316.6 L240.9,316.8 L241.9,316.9 L243,317 L244.1,317.1 L245.2,317.2 L246.3,317.4 L247.4,317.5 L248.5,317.6 L249.7,317.7 L250.8,317.9 L251.9,318 L253.1,318.1 L254.2,318.2 L255.4,318.3 L256.6,318.4 L257.7,318.6 L258.9,318.7 L260.1,318.8 L261.3,318.9 L262.5,319 L263.7,319.1 L264.9,319.3 L266.2,319.4 L267.4,319.5 L268.6,319.6 L269.9,319.7 L271.2,319.8 L272.4,319.9 L273.7,320.1 L275,320.2 L276.3,320.3 L277.6,320.4 L278.9,320.5 L280.2,320.6 L281.5,320.7 L282.8,320.8 L284.2,320.9 L285.5,321.1 L286.9,321.2 L288.3,321.3 L289.6,321.4 L291,321.5 L292.4,321.6 L293.8,321.7 L295.2,321.8 L296.6,321.9 L298.1,322 L299.5,322.1 L300.9,322.2 L302.4,322.3 L303.9,322.5 L305.3,322.6 L306.8,322.7 L308.3,322.8 L309.8,322.9 L311.3,323 L312.8,323.1 L314.4,323.2 L315.9,323.3 L317.4,323.4 L319,323.5 L320.6,323.6 L322.1,323.7 L323.7,323.8 L325.3,323.9 L326.9,324 L328.6,324.1 L330.2,324.2 L331.8,324.3 L333.5,324.4 L335.1,324.5 L336.8,324.6 L338.5,324.7 L340.2,324.8 L341.9,324.9 L343.6,325 L345.3,325.1 L347,325.2 L348.8,325.3 L350.5,325.4 L352.3,325.5 L354.1,325.6 L355.9,325.7 L357.7,325.8 L359.5,325.8 L361.3,325.9 L363.1,326 L365,326.1 L366.8,326.2 L368.7,326.3 L370.6,326.4 L372.5,326.5 L374.4,326.6 L376.3,326.7 L378.2,326.8 L380.1,326.9 L382.1,327 L384.1,327.1 L386,327.1 L388,327.2 L390,327.3 L392,327.4 L394.1,327.5 L396.1,327.6 L398.2,327.7 L400.2,327.8 L402.3,327.9 L404.4,327.9 L406.5,328" fill="none" stroke="#1c2a66" stroke-width="2.4" stroke-linejoin="round" stroke-linecap="round" />
<path d="M73.7,17.6 L73.8,18.5 L73.8,19.7 L73.8,20.9 L73.8,22.1 L73.9,23.2 L73.9,24.4 L73.9,25.6 L73.9,26.8 L74,28 L74,29.1 L74,30.3 L74,31.4 L74.1,32.6 L74.1,33.8 L74.1,34.9 L74.2,36.1 L74.2,37.2 L74.2,38.3 L74.2,39.5 L74.3,40.6 L74.3,41.7 L74.3,42.8 L74.4,44 L74.4,45.1 L74.4,46.2 L74.4,47.3 L74.5,48.4 L74.5,49.5 L74.5,50.6 L74.6,51.7 L74.6,52.8 L74.6,53.9 L74.7,54.9 L74.7,56 L74.7,57.1 L74.8,58.2 L74.8,59.2 L74.8,60.3 L74.9,61.4 L74.9,62.4 L74.9,63.5 L74.9,64.5 L75,65.6 L75,66.6 L75,67.7 L75.1,68.7 L75.1,69.7 L75.1,70.8 L75.2,71.8 L75.2,72.8 L75.3,73.8 L75.3,74.9 L75.3,75.9 L75.4,76.9 L75.4,77.9 L75.4,78.9 L75.5,79.9 L75.5,80.9 L75.5,81.9 L75.6,82.9 L75.6,83.9 L75.6,84.9 L75.7,85.8 L75.7,86.8 L75.8,87.8 L75.8,88.8 L75.8,89.7 L75.9,90.7 L75.9,91.7 L76,92.6 L76,93.6 L76,94.5 L76.1,95.5 L76.1,96.4 L76.2,97.4 L76.2,98.3 L76.2,99.2 L76.3,100.2 L76.3,101.1 L76.4,102 L76.4,103 L76.4,103.9 L76.5,104.8 L76.5,105.7 L76.6,106.6 L76.6,107.5 L76.7,108.4 L76.7,109.4 L76.7,110.3 L76.8,111.1 L76.8,112 L76.9,112.9 L76.9,113.8 L77,114.7 L77,115.6 L77.1,116.5 L77.1,117.4 L77.2,118.2 L77.2,119.1 L77.2,120 L77.3,120.8 L77.3,121.7 L77.4,122.6 L77.4,123.4 L77.5,124.3 L77.5,125.1 L77.6,126 L77.6,126.8 L77.7,127.6 L77.7,128.5 L77.8,129.3 L77.8,130.2 L77.9,131 L77.9,131.8 L78,132.6 L78,133.5 L78.1,134.3 L78.2,135.1 L78.2,135.9 L78.3,136.7 L78.3,137.5 L78.4,138.3 L78.4,139.1 L78.5,139.9 L78.5,140.7 L78.6,141.5 L78.6,142.3 L78.7,143.1 L78.8,143.9 L78.8,144.7 L78.9,145.5 L78.9,146.3 L79,147 L79,147.8 L79.1,148.6 L79.2,149.3 L79.2,150.1 L79.3,150.9 L79.3,151.6 L79.4,152.4 L79.5,153.1 L79.5,153.9 L79.6,154.6 L79.6,155.4 L79.7,156.1 L79.8,156.9 L79.8,157.6 L80,159.1 L80.1,160.5 L80.2,162 L80.4,163.4 L80.5,164.9 L80.6,166.3 L80.8,167.7 L80.9,169.1 L81,170.5 L81.2,171.8 L81.3,173.2 L81.5,174.6 L81.6,175.9 L81.8,177.2 L81.9,178.6 L82.1,179.9 L82.2,181.2 L82.4,182.5 L82.6,183.8 L82.7,185.1 L82.9,186.3 L83.1,187.6 L83.2,188.8 L83.4,190.1 L83.6,191.3 L83.7,192.5 L83.9,193.7 L84.1,194.9 L84.3,196.1 L84.5,197.3 L84.6,198.5 L84.8,199.6 L85,200.8 L85.2,201.9 L85.4,203.1 L85.6,204.2 L85.8,205.3 L86,206.4 L86.2,207.5 L86.4,208.6 L86.6,209.7 L86.9,210.8 L87.1,211.8 L87.3,212.9 L87.5,213.9 L87.7,215 L88,216 L88.2,217 L88.4,218 L88.7,219 L88.9,220 L89.1,221 L89.4,222 L89.6,222.9 L89.9,223.9 L90.1,224.8 L90.4,225.8 L90.7,226.7 L90.9,227.6 L91.2,228.6 L91.5,229.5 L91.7,230.4 L92,231.3 L92.3,232.2 L92.6,233 L92.9,233.9 L93.2,234.8 L93.5,235.6 L93.8,236.5 L94.1,237.3 L94.4,238.2 L94.7,239 L95,239.8 L95.3,240.6 L95.6,241.4 L96,242.2 L96.3,243 L96.6,243.8 L97,244.6 L97.3,245.3 L97.7,246.1 L98,246.9 L98.4,247.6 L98.7,248.4 L99.1,249.1 L99.5,249.8 L99.9,250.5 L100.2,251.3 L100.6,252 L101,252.7 L101.4,253.4 L101.8,254.1 L102.2,254.8 L102.6,255.4 L103,256.1 L103.5,256.8 L103.9,257.5 L104.3,258.1 L104.8,258.8 L105.2,259.4 L105.6,260.1 L106.1,260.7 L106.6,261.3 L107,261.9 L107.5,262.6 L108,263.2 L108.5,263.8 L108.9,264.4 L109.4,265 L109.9,265.6 L110.4,266.2 L111,266.8 L111.5,267.3 L112,267.9 L112.5,268.5 L113.1,269.1 L113.6,269.6 L114.2,270.2 L114.7,270.7 L115.3,271.3 L115.9,271.8 L116.5,272.4 L117.1,272.9 L117.7,273.4 L118.3,274 L118.9,274.5 L119.5,275 L120.1,275.5 L120.8,276 L121.4,276.5 L122.1,277 L122.7,277.5 L123.4,278 L124.1,278.5 L124.7,279 L125.4,279.5 L126.1,280 L126.9,280.4 L127.6,280.9 L128.3,281.4 L129,281.8 L129.8,282.3 L130.6,282.8 L131.3,283.2 L132.1,283.7 L132.9,284.1 L133.7,284.6 L134.5,285 L135.3,285.4 L136.1,285.9 L137,286.3 L137.8,286.7 L138.7,287.2 L139.5,287.6 L140.4,288 L141.3,288.4 L142.2,288.8 L143.1,289.2 L144.1,289.7 L145,290.1 L146,290.5 L146.9,290.9 L147.9,291.2 L148.9,291.6 L149.9,292 L150.9,292.4 L151.9,292.8 L152.9,293.2 L154,293.6 L155.1,293.9 L156.1,294.3 L157.2,294.7 L158.3,295 L159.5,295.4 L160.6,295.8 L161.7,296.1 L162.9,296.5 L164.1,296.8 L165.3,297.2 L166.5,297.5 L167.7,297.9 L168.9,298.2 L170.2,298.6 L170.8,298.7 L171.4,298.9 L172.1,299.1 L172.7,299.2 L173.4,299.4 L174,299.6 L174.7,299.7 L175.3,299.9 L176,300.1 L176.7,300.2 L177.3,300.4 L178,300.5 L178.7,300.7 L179.4,300.9 L180.1,301 L180.8,301.2 L181.5,301.3 L182.2,301.5 L182.9,301.7 L183.6,301.8 L184.3,302 L185,302.1 L185.7,302.3 L186.5,302.4 L187.2,302.6 L188,302.8 L188.7,302.9 L189.4,303.1 L190.2,303.2 L191,303.4 L191.7,303.5 L192.5,303.7 L193.3,303.8 L194,304 L194.8,304.1 L195.6,304.3 L196.4,304.4 L197.2,304.6 L198,304.7 L198.8,304.9 L199.6,305 L200.4,305.1 L201.2,305.3 L202.1,305.4 L202.9,305.6 L203.7,305.7 L204.6,305.9 L205.4,306 L206.3,306.2 L207.1,306.3 L208,306.4 L208.9,306.6 L209.8,306.7 L210.6,306.9 L211.5,307 L212.4,307.1 L213.3,307.3 L214.2,307.4 L215.1,307.5 L216,307.7 L217,307.8 L217.9,307.9 L218.8,308.1 L219.8,308.2 L220.7,308.3 L221.6,308.5 L222.6,308.6 L223.6,308.7 L224.5,308.9 L225.5,309 L226.5,309.1 L227.5,309.3 L228.5,309.4 L229.5,309.5 L230.5,309.7 L231.5,309.8 L232.5,309.9 L233.5,310 L234.5,310.2 L235.6,310.3 L236.6,310.4 L237.7,310.5 L238.7,310.7 L239.8,310.8 L240.9,310.9 L241.9,311 L243,311.2 L244.1,311.3 L245.2,311.4 L246.3,311.5 L247.4,311.7 L248.5,311.8 L249.7,311.9 L250.8,312 L251.9,312.1 L253.1,312.3 L254.2,312.4 L255.4,312.5 L256.6,312.6 L257.7,312.7 L258.9,312.8 L260.1,313 L261.3,313.1 L262.5,313.2 L263.7,313.3 L264.9,313.4 L266.2,313.5 L267.4,313.6 L268.6,313.8 L269.9,313.9 L271.2,314 L272.4,314.1 L273.7,314.2 L275,314.3 L276.3,314.4 L277.6,314.5 L278.9,314.7 L280.2,314.8 L281.5,314.9 L282.8,315 L284.2,315.1 L285.5,315.2 L286.9,315.3 L288.3,315.4 L289.6,315.5 L291,315.6 L292.4,315.7 L293.8,315.8 L295.2,315.9 L296.6,316 L298.1,316.2 L299.5,316.3 L300.9,316.4 L302.4,316.5 L303.9,316.6 L305.3,316.7 L306.8,316.8 L308.3,316.9 L309.8,317 L311.3,317.1 L312.8,317.2 L314.4,317.3 L315.9,317.4 L317.4,317.5 L319,317.6 L320.6,317.7 L322.1,317.8 L323.7,317.9 L325.3,318 L326.9,318.1 L328.6,318.2 L330.2,318.3 L331.8,318.4 L333.5,318.5 L335.1,318.6 L336.8,318.6 L338.5,318.7 L340.2,318.8 L341.9,318.9 L343.6,319 L345.3,319.1 L347,319.2 L348.8,319.3 L350.5,319.4 L352.3,319.5 L354.1,319.6 L355.9,319.7 L357.7,319.8 L359.5,319.9 L361.3,319.9 L363.1,320 L365,320.1 L366.8,320.2 L368.7,320.3 L370.6,320.4 L372.5,320.5 L374.4,320.6 L376.3,320.7 L378.2,320.7 L380.1,320.8 L382.1,320.9 L384.1,321 L386,321.1 L388,321.2 L390,321.3 L392,321.4 L394.1,321.4 L396.1,321.5 L398.2,321.6 L400.2,321.7 L402.3,321.8 L404.4,321.9 L406.5,321.9" fill="none" stroke="#7030a0" stroke-width="2.4" stroke-linejoin="round" stroke-linecap="round" />
</g>
<line x1="69.1" y1="47.6" x2="69.1" y2="388.5" stroke="#000" stroke-width="1.1" />
<line x1="63.5" y1="54.5" x2="69.7" y2="54.5" stroke="#000" stroke-width="2" />
<text x="53" y="60.8" font-size="18" text-anchor="end" fill="#000" font-weight="bold" >49</text>
<line x1="63.5" y1="138" x2="69.7" y2="138" stroke="#000" stroke-width="2" />
<text x="53" y="144.3" font-size="18" text-anchor="end" fill="#000" font-weight="bold" >36</text>
<line x1="63.5" y1="221.5" x2="69.7" y2="221.5" stroke="#000" stroke-width="2" />
<text x="53" y="227.8" font-size="18" text-anchor="end" fill="#000" font-weight="bold" >23</text>
<line x1="63.5" y1="305" x2="69.7" y2="305" stroke="#000" stroke-width="2" />
<text x="53" y="311.3" font-size="18" text-anchor="end" fill="#000" font-weight="bold" >10</text>
<line x1="63.5" y1="388.5" x2="69.7" y2="388.5" stroke="#000" stroke-width="2" />
<text x="53" y="394.8" font-size="18" text-anchor="end" fill="#000" font-weight="bold" >-3</text>
<line x1="69.7" y1="388.5" x2="69.7" y2="394.5" stroke="#000" stroke-width="2" />
<text x="69.7" y="417" font-size="18" text-anchor="middle" fill="#000" font-weight="bold" >0</text>
<line x1="125.8" y1="388.5" x2="125.8" y2="394.5" stroke="#000" stroke-width="2" />
<text x="125.8" y="417" font-size="18" text-anchor="middle" fill="#000" font-weight="bold" >10</text>
<line x1="181.8" y1="388.5" x2="181.8" y2="394.5" stroke="#000" stroke-width="2" />
<text x="181.8" y="417" font-size="18" text-anchor="middle" fill="#000" font-weight="bold" >20</text>
<line x1="237.8" y1="388.5" x2="237.8" y2="394.5" stroke="#000" stroke-width="2" />
<text x="237.8" y="417" font-size="18" text-anchor="middle" fill="#000" font-weight="bold" >30</text>
<line x1="293.9" y1="388.5" x2="293.9" y2="394.5" stroke="#000" stroke-width="2" />
<text x="293.9" y="417" font-size="18" text-anchor="middle" fill="#000" font-weight="bold" >40</text>
<line x1="349.9" y1="388.5" x2="349.9" y2="394.5" stroke="#000" stroke-width="2" />
<text x="349.9" y="417" font-size="18" text-anchor="middle" fill="#000" font-weight="bold" >50</text>
<line x1="406" y1="388.5" x2="406" y2="394.5" stroke="#000" stroke-width="2" />
<text x="406" y="417" font-size="18" text-anchor="middle" fill="#000" font-weight="bold" >60</text>
<line x1="462" y1="388.5" x2="462" y2="394.5" stroke="#000" stroke-width="2" />
<text x="462" y="417" font-size="18" text-anchor="middle" fill="#000" font-weight="bold" >70</text>
<line x1="518.1" y1="388.5" x2="518.1" y2="394.5" stroke="#000" stroke-width="2" />
<text x="518.1" y="417" font-size="18" text-anchor="middle" fill="#000" font-weight="bold" >80</text>
<text x="257.5" y="447.6" font-size="25" text-anchor="middle" fill="#000" font-weight="bold" >t/s</text>
<text x="21.5" y="197.5" font-size="25" text-anchor="middle" fill="#000" font-weight="bold" transform="rotate(-90 21.5 197.5)">I/&#956;A</text>
<text x="434.2" y="307.5" font-size="12" text-anchor="middle" fill="#000" font-weight="bold" >i</text>
<text x="434.2" y="369.5" font-size="13" text-anchor="middle" fill="#000" font-weight="bold" >a</text>
<line x1="433.2" y1="352" x2="434.5" y2="318.5" stroke="#e8141e" stroke-width="2" />
<path d="M434.7,314 L431.2,320.5 L437.8,320.5 Z" fill="#e8141e"/>
<path d="M73.2,452.8 L80.1,459.0 L90.5,458.5 L89.9,466.8 L97.6,472.3 L89.9,477.8 L90.5,486.1 L80.1,485.6 L73.2,491.8 L66.3,485.6 L55.9,486.1 L56.5,477.8 L48.8,472.3 L56.5,466.8 L55.9,458.5 L66.3,459.0Z" fill="#ffff00"/>
<text x="73.6" y="481.9" font-size="25" text-anchor="middle" fill="#f01010" font-weight="bold" >B</text>
<path d="M164.0,675.6 L166.6,675.6 L169.2,675.6 L171.7,675.5 L174.3,675.5 L176.9,675.5 L179.5,675.5 L182.1,675.5 L184.7,675.4 L187.2,675.4 L189.8,675.4 L192.4,675.4 L195.0,675.4 L197.6,675.3 L200.2,675.3 L202.7,675.3 L205.3,675.3 L207.9,675.2 L210.5,675.2 L213.1,675.1 L215.7,675.1 L218.2,675.1 L220.8,675.0 L223.4,675.0 L226.0,674.9 L228.6,674.9 L231.2,674.8 L233.7,674.7 L236.3,674.6 L238.9,674.6" stroke="#c80c0c" stroke-width="5" stroke-linecap="round" fill="none"/>
<path d="M164.0,674.2 L166.6,674.2 L169.2,674.2 L171.7,674.1 L174.3,674.1 L176.9,674.1 L179.5,674.1 L182.1,674.1 L184.7,674.0 L187.2,674.0 L189.8,674.0 L192.4,674.0 L195.0,674.0 L197.6,673.9 L200.2,673.9 L202.7,673.9 L205.3,673.9 L207.9,673.8 L210.5,673.8 L213.1,673.7 L215.7,673.7 L218.2,673.7 L220.8,673.6 L223.4,673.6 L226.0,673.5 L228.6,673.5 L231.2,673.4 L233.7,673.3 L236.3,673.2 L238.9,673.2" stroke="#f01818" stroke-width="2.0" stroke-linecap="round" fill="none"/>
<path d="M359.9,657.4L363.7,661.3M359.9,661.3L363.7,657.4" stroke="#e81818" stroke-width="1.5" fill="none"/><path d="M343.0,661.3L346.8,665.2M343.0,665.2L346.8,661.3" stroke="#e81818" stroke-width="1.5" fill="none"/><path d="M329.4,664.0L333.2,667.8M329.4,667.8L333.2,664.0" stroke="#e81818" stroke-width="1.5" fill="none"/><path d="M318.1,665.8L321.9,669.7M318.1,669.7L321.9,665.8" stroke="#e81818" stroke-width="1.5" fill="none"/><path d="M308.6,667.2L312.4,671.0M308.6,671.0L312.4,667.2" stroke="#e81818" stroke-width="1.5" fill="none"/><path d="M300.4,668.2L304.2,672.0M300.4,672.0L304.2,668.2" stroke="#e81818" stroke-width="1.5" fill="none"/><path d="M293.2,669.0L297.0,672.8M293.2,672.8L297.0,669.0" stroke="#e81818" stroke-width="1.5" fill="none"/><path d="M286.9,669.6L290.7,673.5M286.9,673.5L290.7,669.6" stroke="#e81818" stroke-width="1.5" fill="none"/><path d="M281.3,670.1L285.1,674.0M281.3,674.0L285.1,670.1" stroke="#e81818" stroke-width="1.5" fill="none"/><path d="M276.2,670.5L280.1,674.4M276.2,674.4L280.1,670.5" stroke="#e81818" stroke-width="1.5" fill="none"/><path d="M271.6,670.9L275.5,674.7M271.6,674.7L275.5,670.9" stroke="#e81818" stroke-width="1.5" fill="none"/><path d="M267.5,671.2L271.3,675.0M267.5,675.0L271.3,671.2" stroke="#e81818" stroke-width="1.5" fill="none"/><path d="M263.7,671.4L267.5,675.3M263.7,675.3L267.5,671.4" stroke="#e81818" stroke-width="1.5" fill="none"/><path d="M260.2,671.6L264.0,675.5M260.2,675.5L264.0,671.6" stroke="#e81818" stroke-width="1.5" fill="none"/><path d="M256.9,671.8L260.8,675.6M256.9,675.6L260.8,671.8" stroke="#e81818" stroke-width="1.5" fill="none"/><path d="M253.9,671.9L257.8,675.8M253.9,675.8L257.8,671.9" stroke="#e81818" stroke-width="1.5" fill="none"/><path d="M251.1,672.1L255.0,675.9M251.1,675.9L255.0,672.1" stroke="#e81818" stroke-width="1.5" fill="none"/><path d="M248.5,672.2L252.4,676.0M248.5,676.0L252.4,672.2" stroke="#e81818" stroke-width="1.5" fill="none"/><path d="M246.1,672.3L249.9,676.2M246.1,676.2L249.9,672.3" stroke="#e81818" stroke-width="1.5" fill="none"/><path d="M243.8,672.4L247.6,676.2M243.8,676.2L247.6,672.4" stroke="#e81818" stroke-width="1.5" fill="none"/><path d="M241.6,672.5L245.5,676.3M241.6,676.3L245.5,672.5" stroke="#e81818" stroke-width="1.5" fill="none"/><path d="M239.6,672.5L243.4,676.4M239.6,676.4L243.4,672.5" stroke="#e81818" stroke-width="1.5" fill="none"/><path d="M237.6,672.6L241.5,676.5M237.6,676.5L241.5,672.6" stroke="#e81818" stroke-width="1.5" fill="none"/><path d="M235.8,672.7L239.6,676.5M235.8,676.5L239.6,672.7" stroke="#e81818" stroke-width="1.5" fill="none"/><path d="M234.1,672.7L237.9,676.6M234.1,676.6L237.9,672.7" stroke="#e81818" stroke-width="1.5" fill="none"/>
<path d="M164.0,670.7 L166.6,670.2 L169.2,669.8 L171.7,669.4 L174.3,669.0 L176.9,668.6 L179.5,668.2 L182.1,667.8 L184.7,667.4 L187.2,667.0 L189.8,666.7 L192.4,666.3 L195.0,665.9 L197.6,665.6 L200.2,665.3 L202.7,664.9 L205.3,664.6 L207.9,664.3 L210.5,663.9 L213.1,663.6 L215.7,663.3 L218.2,663.0 L220.8,662.6 L223.4,662.3 L226.0,662.0 L228.6,661.7 L231.2,661.4 L233.7,661.1 L236.3,660.7 L238.9,660.4" stroke="#500404" stroke-width="7" stroke-linecap="round" fill="none"/>
<path d="M164.0,668.7 L166.6,668.3 L169.2,667.8 L171.7,667.4 L174.3,667.0 L176.9,666.6 L179.5,666.2 L182.1,665.8 L184.7,665.4 L187.2,665.1 L189.8,664.7 L192.4,664.3 L195.0,664.0 L197.6,663.6 L200.2,663.3 L202.7,663.0 L205.3,662.6 L207.9,662.3 L210.5,662.0 L213.1,661.6 L215.7,661.3 L218.2,661.0 L220.8,660.7 L223.4,660.4 L226.0,660.1 L228.6,659.7 L231.2,659.4 L233.7,659.1 L236.3,658.8 L238.9,658.5" stroke="#9a0c0c" stroke-width="2.8" stroke-linecap="round" fill="none"/>
<path d="M361.8,629.5 L366.3,634.0 L361.8,638.5 L357.3,634.0Z" fill="url(#gBRed)"/><path d="M344.9,635.3 L349.4,639.8 L344.9,644.3 L340.4,639.8Z" fill="url(#gBRed)"/><path d="M331.3,639.3 L335.8,643.8 L331.3,648.3 L326.8,643.8Z" fill="url(#gBRed)"/><path d="M320.0,642.2 L324.5,646.7 L320.0,651.2 L315.5,646.7Z" fill="url(#gBRed)"/><path d="M310.5,644.4 L315.0,648.9 L310.5,653.4 L306.0,648.9Z" fill="url(#gBRed)"/><path d="M302.3,646.1 L306.8,650.6 L302.3,655.1 L297.8,650.6Z" fill="url(#gBRed)"/><path d="M295.1,647.5 L299.6,652.0 L295.1,656.5 L290.6,652.0Z" fill="url(#gBRed)"/><path d="M288.8,648.7 L293.3,653.2 L288.8,657.7 L284.3,653.2Z" fill="url(#gBRed)"/><path d="M283.2,649.6 L287.7,654.1 L283.2,658.6 L278.7,654.1Z" fill="url(#gBRed)"/><path d="M278.1,650.5 L282.6,655.0 L278.1,659.5 L273.6,655.0Z" fill="url(#gBRed)"/><path d="M273.6,651.2 L278.1,655.7 L273.6,660.2 L269.1,655.7Z" fill="url(#gBRed)"/><path d="M269.4,651.8 L273.9,656.3 L269.4,660.8 L264.9,656.3Z" fill="url(#gBRed)"/><path d="M265.6,652.4 L270.1,656.9 L265.6,661.4 L261.1,656.9Z" fill="url(#gBRed)"/><path d="M262.1,652.9 L266.6,657.4 L262.1,661.9 L257.6,657.4Z" fill="url(#gBRed)"/><path d="M258.9,653.3 L263.4,657.8 L258.9,662.3 L254.4,657.8Z" fill="url(#gBRed)"/><path d="M255.8,653.7 L260.3,658.2 L255.8,662.7 L251.3,658.2Z" fill="url(#gBRed)"/><path d="M253.0,654.1 L257.5,658.6 L253.0,663.1 L248.5,658.6Z" fill="url(#gBRed)"/><path d="M250.4,654.4 L254.9,658.9 L250.4,663.4 L245.9,658.9Z" fill="url(#gBRed)"/><path d="M248.0,654.8 L252.5,659.3 L248.0,663.8 L243.5,659.3Z" fill="url(#gBRed)"/><path d="M245.7,655.1 L250.2,659.6 L245.7,664.1 L241.2,659.6Z" fill="url(#gBRed)"/><path d="M243.5,655.3 L248.0,659.8 L243.5,664.3 L239.0,659.8Z" fill="url(#gBRed)"/><path d="M241.5,655.6 L246.0,660.1 L241.5,664.6 L237.0,660.1Z" fill="url(#gBRed)"/><path d="M239.5,655.8 L244.0,660.3 L239.5,664.8 L235.0,660.3Z" fill="url(#gBRed)"/><path d="M237.7,656.1 L242.2,660.6 L237.7,665.1 L233.2,660.6Z" fill="url(#gBRed)"/><path d="M236.0,656.3 L240.5,660.8 L236.0,665.3 L231.5,660.8Z" fill="url(#gBRed)"/>
<path d="M164.0,664.6 L166.6,664.0 L169.2,663.4 L171.7,662.8 L174.3,662.3 L176.9,661.7 L179.5,661.1 L182.1,660.5 L184.7,659.9 L187.2,659.3 L189.8,658.8 L192.4,658.2 L195.0,657.6 L197.6,657.0 L200.2,656.4 L202.7,655.8 L205.3,655.2 L207.9,654.6 L210.5,654.0 L213.1,653.4 L215.7,652.8 L218.2,652.2 L220.8,651.6 L223.4,650.9 L226.0,650.3 L228.6,649.7 L231.2,649.1 L233.7,648.5 L236.3,647.8 L238.9,647.2" stroke="#b08818" stroke-width="6" stroke-linecap="round" fill="none"/>
<path d="M164.0,662.9 L166.6,662.3 L169.2,661.7 L171.7,661.2 L174.3,660.6 L176.9,660.0 L179.5,659.4 L182.1,658.8 L184.7,658.3 L187.2,657.7 L189.8,657.1 L192.4,656.5 L195.0,655.9 L197.6,655.3 L200.2,654.7 L202.7,654.1 L205.3,653.5 L207.9,652.9 L210.5,652.3 L213.1,651.7 L215.7,651.1 L218.2,650.5 L220.8,649.9 L223.4,649.3 L226.0,648.6 L228.6,648.0 L231.2,647.4 L233.7,646.8 L236.3,646.2 L238.9,645.5" stroke="#ecc030" stroke-width="2.4" stroke-linecap="round" fill="none"/>
<path d="M358.0,614.2H365.5M361.8,610.4V617.9M360.3,612.7L363.3,615.7M360.3,615.7L363.3,612.7" stroke="#ecb430" stroke-width="1.3" fill="none"/><path d="M341.1,619.1H348.6M344.9,615.4V622.9M343.4,617.6L346.4,620.6M343.4,620.6L346.4,617.6" stroke="#ecb430" stroke-width="1.3" fill="none"/><path d="M327.5,623.0H335.0M331.3,619.3V626.8M329.8,621.5L332.8,624.5M329.8,624.5L332.8,621.5" stroke="#ecb430" stroke-width="1.3" fill="none"/><path d="M316.3,626.2H323.8M320.0,622.5V630.0M318.5,624.7L321.5,627.7M318.5,627.7L321.5,624.7" stroke="#ecb430" stroke-width="1.3" fill="none"/><path d="M306.7,628.8H314.2M310.5,625.1V632.6M309.0,627.3L312.0,630.3M309.0,630.3L312.0,627.3" stroke="#ecb430" stroke-width="1.3" fill="none"/><path d="M298.5,631.0H306.0M302.3,627.3V634.8M300.8,629.5L303.8,632.5M300.8,632.5L303.8,629.5" stroke="#ecb430" stroke-width="1.3" fill="none"/><path d="M291.4,633.0H298.9M295.1,629.2V636.7M293.6,631.5L296.6,634.5M293.6,634.5L296.6,631.5" stroke="#ecb430" stroke-width="1.3" fill="none"/><path d="M285.1,634.6H292.6M288.8,630.9V638.4M287.3,633.1L290.3,636.1M287.3,636.1L290.3,633.1" stroke="#ecb430" stroke-width="1.3" fill="none"/><path d="M279.4,636.1H286.9M283.2,632.3V639.8M281.7,634.6L284.7,637.6M281.7,637.6L284.7,634.6" stroke="#ecb430" stroke-width="1.3" fill="none"/><path d="M274.4,637.4H281.9M278.1,633.6V641.1M276.6,635.9L279.6,638.9M276.6,638.9L279.6,635.9" stroke="#ecb430" stroke-width="1.3" fill="none"/><path d="M269.8,638.6H277.3M273.6,634.8V642.3M272.1,637.1L275.1,640.1M272.1,640.1L275.1,637.1" stroke="#ecb430" stroke-width="1.3" fill="none"/><path d="M265.7,639.6H273.2M269.4,635.9V643.4M267.9,638.1L270.9,641.1M267.9,641.1L270.9,638.1" stroke="#ecb430" stroke-width="1.3" fill="none"/><path d="M261.8,640.6H269.3M265.6,636.9V644.4M264.1,639.1L267.1,642.1M264.1,642.1L267.1,639.1" stroke="#ecb430" stroke-width="1.3" fill="none"/><path d="M258.3,641.5H265.8M262.1,637.7V645.2M260.6,640.0L263.6,643.0M260.6,643.0L263.6,640.0" stroke="#ecb430" stroke-width="1.3" fill="none"/><path d="M255.1,642.3H262.6M258.9,638.5V646.0M257.4,640.8L260.4,643.8M257.4,643.8L260.4,640.8" stroke="#ecb430" stroke-width="1.3" fill="none"/><path d="M252.1,643.0H259.6M255.8,639.3V646.8M254.3,641.5L257.3,644.5M254.3,644.5L257.3,641.5" stroke="#ecb430" stroke-width="1.3" fill="none"/><path d="M249.3,643.7H256.8M253.0,640.0V647.5M251.5,642.2L254.5,645.2M251.5,645.2L254.5,642.2" stroke="#ecb430" stroke-width="1.3" fill="none"/><path d="M246.7,644.4H254.2M250.4,640.6V648.1M248.9,642.9L251.9,645.9M248.9,645.9L251.9,642.9" stroke="#ecb430" stroke-width="1.3" fill="none"/><path d="M244.2,645.0H251.7M248.0,641.2V648.7M246.5,643.5L249.5,646.5M246.5,646.5L249.5,643.5" stroke="#ecb430" stroke-width="1.3" fill="none"/><path d="M241.9,645.6H249.4M245.7,641.8V649.3M244.2,644.1L247.2,647.1M244.2,647.1L247.2,644.1" stroke="#ecb430" stroke-width="1.3" fill="none"/><path d="M239.8,646.1H247.3M243.5,642.3V649.8M242.0,644.6L245.0,647.6M242.0,647.6L245.0,644.6" stroke="#ecb430" stroke-width="1.3" fill="none"/><path d="M237.7,646.6H245.2M241.5,642.8V650.3M240.0,645.1L243.0,648.1M240.0,648.1L243.0,645.1" stroke="#ecb430" stroke-width="1.3" fill="none"/><path d="M235.8,647.1H243.3M239.5,643.3V650.8M238.0,645.6L241.0,648.6M238.0,648.6L241.0,645.6" stroke="#ecb430" stroke-width="1.3" fill="none"/><path d="M234.0,647.5H241.5M237.7,643.8V651.3M236.2,646.0L239.2,649.0M236.2,649.0L239.2,646.0" stroke="#ecb430" stroke-width="1.3" fill="none"/><path d="M232.2,647.9H239.7M236.0,644.2V651.7M234.5,646.4L237.5,649.4M234.5,649.4L237.5,646.4" stroke="#ecb430" stroke-width="1.3" fill="none"/>
<path d="M164.0,658.9 L166.6,658.1 L169.2,657.3 L171.7,656.4 L174.3,655.6 L176.9,654.7 L179.5,653.9 L182.1,653.0 L184.7,652.2 L187.2,651.3 L189.8,650.4 L192.4,649.6 L195.0,648.7 L197.6,647.8 L200.2,647.0 L202.7,646.1 L205.3,645.2 L207.9,644.3 L210.5,643.4 L213.1,642.6 L215.7,641.7 L218.2,640.8 L220.8,639.9 L223.4,639.1 L226.0,638.2 L228.6,637.3 L231.2,636.4 L233.7,635.6 L236.3,634.7 L238.9,633.8" stroke="#1e360c" stroke-width="7" stroke-linecap="round" fill="none"/>
<path d="M164.0,657.0 L166.6,656.1 L169.2,655.3 L171.7,654.5 L174.3,653.6 L176.9,652.8 L179.5,651.9 L182.1,651.1 L184.7,650.2 L187.2,649.3 L189.8,648.5 L192.4,647.6 L195.0,646.7 L197.6,645.9 L200.2,645.0 L202.7,644.1 L205.3,643.2 L207.9,642.4 L210.5,641.5 L213.1,640.6 L215.7,639.7 L218.2,638.9 L220.8,638.0 L223.4,637.1 L226.0,636.2 L228.6,635.3 L231.2,634.5 L233.7,633.6 L236.3,632.7 L238.9,631.9" stroke="#88c850" stroke-width="2.8" stroke-linecap="round" fill="none"/>
<rect x="357.8" y="597.8" width="8.0" height="8.0" fill="url(#gBSq)"/><rect x="340.9" y="600.5" width="8.0" height="8.0" fill="url(#gBSq)"/><rect x="327.3" y="603.3" width="8.0" height="8.0" fill="url(#gBSq)"/><rect x="316.0" y="605.8" width="8.0" height="8.0" fill="url(#gBSq)"/><rect x="306.5" y="608.2" width="8.0" height="8.0" fill="url(#gBSq)"/><rect x="298.3" y="610.3" width="8.0" height="8.0" fill="url(#gBSq)"/><rect x="291.1" y="612.3" width="8.0" height="8.0" fill="url(#gBSq)"/><rect x="284.8" y="614.1" width="8.0" height="8.0" fill="url(#gBSq)"/><rect x="279.2" y="615.8" width="8.0" height="8.0" fill="url(#gBSq)"/><rect x="274.1" y="617.3" width="8.0" height="8.0" fill="url(#gBSq)"/><rect x="269.6" y="618.7" width="8.0" height="8.0" fill="url(#gBSq)"/><rect x="265.4" y="619.9" width="8.0" height="8.0" fill="url(#gBSq)"/><rect x="261.6" y="621.1" width="8.0" height="8.0" fill="url(#gBSq)"/><rect x="258.1" y="622.3" width="8.0" height="8.0" fill="url(#gBSq)"/><rect x="254.9" y="623.3" width="8.0" height="8.0" fill="url(#gBSq)"/><rect x="251.8" y="624.3" width="8.0" height="8.0" fill="url(#gBSq)"/><rect x="249.0" y="625.2" width="8.0" height="8.0" fill="url(#gBSq)"/><rect x="246.4" y="626.0" width="8.0" height="8.0" fill="url(#gBSq)"/><rect x="244.0" y="626.8" width="8.0" height="8.0" fill="url(#gBSq)"/><rect x="241.7" y="627.6" width="8.0" height="8.0" fill="url(#gBSq)"/><rect x="239.5" y="628.3" width="8.0" height="8.0" fill="url(#gBSq)"/><rect x="237.5" y="629.0" width="8.0" height="8.0" fill="url(#gBSq)"/><rect x="235.5" y="629.6" width="8.0" height="8.0" fill="url(#gBSq)"/><rect x="233.7" y="630.2" width="8.0" height="8.0" fill="url(#gBSq)"/><rect x="232.0" y="630.8" width="8.0" height="8.0" fill="url(#gBSq)"/>
<path d="M164.0,653.4 L166.6,652.1 L169.2,650.8 L171.7,649.5 L174.3,648.3 L176.9,647.0 L179.5,645.8 L182.1,644.6 L184.7,643.3 L187.2,642.1 L189.8,640.9 L192.4,639.8 L195.0,638.6 L197.6,637.4 L200.2,636.3 L202.7,635.1 L205.3,634.0 L207.9,632.9 L210.5,631.8 L213.1,630.7 L215.7,629.6 L218.2,628.5 L220.8,627.4 L223.4,626.4 L226.0,625.3 L228.6,624.3 L231.2,623.2 L233.7,622.2 L236.3,621.2 L238.9,620.2" stroke="#142808" stroke-width="8" stroke-linecap="round" fill="none"/>
<path d="M164.0,651.1 L166.6,649.8 L169.2,648.6 L171.7,647.3 L174.3,646.0 L176.9,644.8 L179.5,643.6 L182.1,642.3 L184.7,641.1 L187.2,639.9 L189.8,638.7 L192.4,637.5 L195.0,636.3 L197.6,635.2 L200.2,634.0 L202.7,632.9 L205.3,631.8 L207.9,630.6 L210.5,629.5 L213.1,628.4 L215.7,627.3 L218.2,626.2 L220.8,625.2 L223.4,624.1 L226.0,623.1 L228.6,622.0 L231.2,621.0 L233.7,620.0 L236.3,619.0 L238.9,618.0" stroke="#2e5c18" stroke-width="3.2" stroke-linecap="round" fill="none"/>
<circle cx="361.8" cy="584.8" r="4.5" fill="url(#gBGrn)"/><circle cx="344.9" cy="588.3" r="4.5" fill="url(#gBGrn)"/><circle cx="331.3" cy="591.4" r="4.5" fill="url(#gBGrn)"/><circle cx="320.0" cy="594.2" r="4.5" fill="url(#gBGrn)"/><circle cx="310.5" cy="596.7" r="4.5" fill="url(#gBGrn)"/><circle cx="302.3" cy="599.0" r="4.5" fill="url(#gBGrn)"/><circle cx="295.1" cy="601.1" r="4.5" fill="url(#gBGrn)"/><circle cx="288.8" cy="603.0" r="4.5" fill="url(#gBGrn)"/><circle cx="283.2" cy="604.7" r="4.5" fill="url(#gBGrn)"/><circle cx="278.1" cy="606.3" r="4.5" fill="url(#gBGrn)"/><circle cx="273.6" cy="607.8" r="4.5" fill="url(#gBGrn)"/><circle cx="269.4" cy="609.2" r="4.5" fill="url(#gBGrn)"/><circle cx="265.6" cy="610.5" r="4.5" fill="url(#gBGrn)"/><circle cx="262.1" cy="611.7" r="4.5" fill="url(#gBGrn)"/><circle cx="258.9" cy="612.9" r="4.5" fill="url(#gBGrn)"/><circle cx="255.8" cy="613.9" r="4.5" fill="url(#gBGrn)"/><circle cx="253.0" cy="614.9" r="4.5" fill="url(#gBGrn)"/><circle cx="250.4" cy="615.9" r="4.5" fill="url(#gBGrn)"/><circle cx="248.0" cy="616.8" r="4.5" fill="url(#gBGrn)"/><circle cx="245.7" cy="617.6" r="4.5" fill="url(#gBGrn)"/><circle cx="243.5" cy="618.5" r="4.5" fill="url(#gBGrn)"/><circle cx="241.5" cy="619.2" r="4.5" fill="url(#gBGrn)"/><circle cx="239.5" cy="620.0" r="4.5" fill="url(#gBGrn)"/><circle cx="237.7" cy="620.7" r="4.5" fill="url(#gBGrn)"/><circle cx="236.0" cy="621.3" r="4.5" fill="url(#gBGrn)"/>
<path d="M164.0,644.1 L166.6,642.7 L169.2,641.3 L171.7,640.0 L174.3,638.6 L176.9,637.3 L179.5,635.9 L182.1,634.6 L184.7,633.3 L187.2,632.0 L189.8,630.8 L192.4,629.5 L195.0,628.2 L197.6,627.0 L200.2,625.7 L202.7,624.5 L205.3,623.3 L207.9,622.1 L210.5,620.9 L213.1,619.7 L215.7,618.6 L218.2,617.4 L220.8,616.3 L223.4,615.2 L226.0,614.0 L228.6,612.9 L231.2,611.9 L233.7,610.8 L236.3,609.7 L238.9,608.7" stroke="#1a78a8" stroke-width="7" stroke-linecap="round" fill="none"/>
<path d="M164.0,642.1 L166.6,640.7 L169.2,639.3 L171.7,638.0 L174.3,636.6 L176.9,635.3 L179.5,634.0 L182.1,632.7 L184.7,631.4 L187.2,630.1 L189.8,628.8 L192.4,627.5 L195.0,626.3 L197.6,625.0 L200.2,623.8 L202.7,622.6 L205.3,621.3 L207.9,620.1 L210.5,619.0 L213.1,617.8 L215.7,616.6 L218.2,615.5 L220.8,614.3 L223.4,613.2 L226.0,612.1 L228.6,611.0 L231.2,609.9 L233.7,608.8 L236.3,607.8 L238.9,606.7" stroke="#36b0e0" stroke-width="2.8" stroke-linecap="round" fill="none"/>
<path d="M361.8,571.7 L366.3,576.2 L361.8,580.7 L357.3,576.2Z" fill="url(#gBDia)"/><path d="M344.9,573.9 L349.4,578.4 L344.9,582.9 L340.4,578.4Z" fill="url(#gBDia)"/><path d="M331.3,576.2 L335.8,580.7 L331.3,585.2 L326.8,580.7Z" fill="url(#gBDia)"/><path d="M320.0,578.6 L324.5,583.1 L320.0,587.6 L315.5,583.1Z" fill="url(#gBDia)"/><path d="M310.5,580.8 L315.0,585.3 L310.5,589.8 L306.0,585.3Z" fill="url(#gBDia)"/><path d="M302.3,582.9 L306.8,587.4 L302.3,591.9 L297.8,587.4Z" fill="url(#gBDia)"/><path d="M295.1,584.8 L299.6,589.3 L295.1,593.8 L290.6,589.3Z" fill="url(#gBDia)"/><path d="M288.8,586.6 L293.3,591.1 L288.8,595.6 L284.3,591.1Z" fill="url(#gBDia)"/><path d="M283.2,588.3 L287.7,592.8 L283.2,597.3 L278.7,592.8Z" fill="url(#gBDia)"/><path d="M278.1,589.9 L282.6,594.4 L278.1,598.9 L273.6,594.4Z" fill="url(#gBDia)"/><path d="M273.6,591.4 L278.1,595.9 L273.6,600.4 L269.1,595.9Z" fill="url(#gBDia)"/><path d="M269.4,592.8 L273.9,597.3 L269.4,601.8 L264.9,597.3Z" fill="url(#gBDia)"/><path d="M265.6,594.1 L270.1,598.6 L265.6,603.1 L261.1,598.6Z" fill="url(#gBDia)"/><path d="M262.1,595.3 L266.6,599.8 L262.1,604.3 L257.6,599.8Z" fill="url(#gBDia)"/><path d="M258.9,596.5 L263.4,601.0 L258.9,605.5 L254.4,601.0Z" fill="url(#gBDia)"/><path d="M255.8,597.6 L260.3,602.1 L255.8,606.6 L251.3,602.1Z" fill="url(#gBDia)"/><path d="M253.0,598.7 L257.5,603.2 L253.0,607.7 L248.5,603.2Z" fill="url(#gBDia)"/><path d="M250.4,599.6 L254.9,604.1 L250.4,608.6 L245.9,604.1Z" fill="url(#gBDia)"/><path d="M248.0,600.6 L252.5,605.1 L248.0,609.6 L243.5,605.1Z" fill="url(#gBDia)"/><path d="M245.7,601.5 L250.2,606.0 L245.7,610.5 L241.2,606.0Z" fill="url(#gBDia)"/><path d="M243.5,602.3 L248.0,606.8 L243.5,611.3 L239.0,606.8Z" fill="url(#gBDia)"/><path d="M241.5,603.1 L246.0,607.6 L241.5,612.1 L237.0,607.6Z" fill="url(#gBDia)"/><path d="M239.5,603.9 L244.0,608.4 L239.5,612.9 L235.0,608.4Z" fill="url(#gBDia)"/><path d="M237.7,604.6 L242.2,609.1 L237.7,613.6 L233.2,609.1Z" fill="url(#gBDia)"/><path d="M236.0,605.4 L240.5,609.9 L236.0,614.4 L231.5,609.9Z" fill="url(#gBDia)"/>
<path d="M164.0,638.0 L166.6,635.7 L169.2,633.4 L171.7,631.2 L174.3,629.0 L176.9,626.9 L179.5,624.9 L182.1,622.8 L184.7,620.9 L187.2,618.9 L189.8,617.0 L192.4,615.2 L195.0,613.4 L197.6,611.6 L200.2,609.9 L202.7,608.2 L205.3,606.6 L207.9,605.0 L210.5,603.4 L213.1,601.9 L215.7,600.4 L218.2,598.9 L220.8,597.5 L223.4,596.1 L226.0,594.8 L228.6,593.4 L231.2,592.1 L233.7,590.9 L236.3,589.6 L238.9,588.4" stroke="#16246e" stroke-width="6" stroke-linecap="round" fill="none"/>
<path d="M164.0,636.3 L166.6,634.0 L169.2,631.7 L171.7,629.5 L174.3,627.4 L176.9,625.2 L179.5,623.2 L182.1,621.2 L184.7,619.2 L187.2,617.2 L189.8,615.4 L192.4,613.5 L195.0,611.7 L197.6,609.9 L200.2,608.2 L202.7,606.5 L205.3,604.9 L207.9,603.3 L210.5,601.7 L213.1,600.2 L215.7,598.7 L218.2,597.3 L220.8,595.8 L223.4,594.4 L226.0,593.1 L228.6,591.8 L231.2,590.5 L233.7,589.2 L236.3,588.0 L238.9,586.8" stroke="#2a44b0" stroke-width="2.4" stroke-linecap="round" fill="none"/>
<path d="M358.6,546.4L365.0,552.8M358.6,552.8L365.0,546.4" stroke="#3a5aa8" stroke-width="1.5" fill="none"/><path d="M341.7,551.1L348.1,557.5M341.7,557.5L348.1,551.1" stroke="#3a5aa8" stroke-width="1.5" fill="none"/><path d="M328.1,554.7L334.5,561.1M328.1,561.1L334.5,554.7" stroke="#3a5aa8" stroke-width="1.5" fill="none"/><path d="M316.8,557.7L323.2,564.1M316.8,564.1L323.2,557.7" stroke="#3a5aa8" stroke-width="1.5" fill="none"/><path d="M307.3,560.3L313.7,566.7M307.3,566.7L313.7,560.3" stroke="#3a5aa8" stroke-width="1.5" fill="none"/><path d="M299.1,562.6L305.5,569.0M299.1,569.0L305.5,562.6" stroke="#3a5aa8" stroke-width="1.5" fill="none"/><path d="M291.9,564.6L298.3,571.0M291.9,571.0L298.3,564.6" stroke="#3a5aa8" stroke-width="1.5" fill="none"/><path d="M285.6,566.6L292.0,573.0M285.6,573.0L292.0,566.6" stroke="#3a5aa8" stroke-width="1.5" fill="none"/><path d="M280.0,568.3L286.4,574.7M280.0,574.7L286.4,568.3" stroke="#3a5aa8" stroke-width="1.5" fill="none"/><path d="M274.9,569.9L281.3,576.3M274.9,576.3L281.3,569.9" stroke="#3a5aa8" stroke-width="1.5" fill="none"/><path d="M270.4,571.5L276.8,577.9M270.4,577.9L276.8,571.5" stroke="#3a5aa8" stroke-width="1.5" fill="none"/><path d="M266.2,572.9L272.6,579.3M266.2,579.3L272.6,572.9" stroke="#3a5aa8" stroke-width="1.5" fill="none"/><path d="M262.4,574.3L268.8,580.7M262.4,580.7L268.8,574.3" stroke="#3a5aa8" stroke-width="1.5" fill="none"/><path d="M258.9,575.6L265.3,582.0M258.9,582.0L265.3,575.6" stroke="#3a5aa8" stroke-width="1.5" fill="none"/><path d="M255.7,576.8L262.1,583.2M255.7,583.2L262.1,576.8" stroke="#3a5aa8" stroke-width="1.5" fill="none"/><path d="M252.6,578.0L259.0,584.4M252.6,584.4L259.0,578.0" stroke="#3a5aa8" stroke-width="1.5" fill="none"/><path d="M249.8,579.1L256.2,585.5M249.8,585.5L256.2,579.1" stroke="#3a5aa8" stroke-width="1.5" fill="none"/><path d="M247.2,580.2L253.6,586.6M247.2,586.6L253.6,580.2" stroke="#3a5aa8" stroke-width="1.5" fill="none"/><path d="M244.8,581.2L251.2,587.6M244.8,587.6L251.2,581.2" stroke="#3a5aa8" stroke-width="1.5" fill="none"/><path d="M242.5,582.2L248.9,588.6M242.5,588.6L248.9,582.2" stroke="#3a5aa8" stroke-width="1.5" fill="none"/><path d="M240.3,583.2L246.7,589.6M240.3,589.6L246.7,583.2" stroke="#3a5aa8" stroke-width="1.5" fill="none"/><path d="M238.3,584.1L244.7,590.5M238.3,590.5L244.7,584.1" stroke="#3a5aa8" stroke-width="1.5" fill="none"/><path d="M236.3,584.9L242.7,591.3M236.3,591.3L242.7,584.9" stroke="#3a5aa8" stroke-width="1.5" fill="none"/><path d="M234.5,585.8L240.9,592.2M234.5,592.2L240.9,585.8" stroke="#3a5aa8" stroke-width="1.5" fill="none"/><path d="M232.8,586.6L239.2,593.0M232.8,593.0L239.2,586.6" stroke="#3a5aa8" stroke-width="1.5" fill="none"/>
<path d="M164.0,629.0 L166.6,626.7 L169.2,624.5 L171.7,622.3 L174.3,620.1 L176.9,618.0 L179.5,615.8 L182.1,613.7 L184.7,611.7 L187.2,609.7 L189.8,607.7 L192.4,605.7 L195.0,603.8 L197.6,601.9 L200.2,600.0 L202.7,598.2 L205.3,596.3 L207.9,594.5 L210.5,592.8 L213.1,591.1 L215.7,589.3 L218.2,587.7 L220.8,586.0 L223.4,584.4 L226.0,582.8 L228.6,581.2 L231.2,579.7 L233.7,578.2 L236.3,576.7 L238.9,575.2" stroke="#2c1838" stroke-width="8" stroke-linecap="round" fill="none"/>
<path d="M164.0,626.8 L166.6,624.5 L169.2,622.3 L171.7,620.0 L174.3,617.9 L176.9,615.7 L179.5,613.6 L182.1,611.5 L184.7,609.5 L187.2,607.4 L189.8,605.4 L192.4,603.5 L195.0,601.5 L197.6,599.6 L200.2,597.8 L202.7,595.9 L205.3,594.1 L207.9,592.3 L210.5,590.5 L213.1,588.8 L215.7,587.1 L218.2,585.4 L220.8,583.8 L223.4,582.2 L226.0,580.6 L228.6,579.0 L231.2,577.4 L233.7,575.9 L236.3,574.4 L238.9,572.9" stroke="#6a32a0" stroke-width="3.2" stroke-linecap="round" fill="none"/>
<path d="M361.8,523.0 L366.3,531.6 L357.3,531.6Z" fill="url(#gBTri)"/><path d="M344.9,527.4 L349.4,536.0 L340.4,536.0Z" fill="url(#gBTri)"/><path d="M331.3,531.3 L335.8,539.9 L326.8,539.9Z" fill="url(#gBTri)"/><path d="M320.0,534.8 L324.5,543.4 L315.5,543.4Z" fill="url(#gBTri)"/><path d="M310.5,538.1 L315.0,546.7 L306.0,546.7Z" fill="url(#gBTri)"/><path d="M302.3,541.0 L306.8,549.6 L297.8,549.6Z" fill="url(#gBTri)"/><path d="M295.1,543.7 L299.6,552.3 L290.6,552.3Z" fill="url(#gBTri)"/><path d="M288.8,546.2 L293.3,554.8 L284.3,554.8Z" fill="url(#gBTri)"/><path d="M283.2,548.5 L287.7,557.1 L278.7,557.1Z" fill="url(#gBTri)"/><path d="M278.1,550.7 L282.6,559.3 L273.6,559.3Z" fill="url(#gBTri)"/><path d="M273.6,552.7 L278.1,561.3 L269.1,561.3Z" fill="url(#gBTri)"/><path d="M269.4,554.6 L273.9,563.2 L264.9,563.2Z" fill="url(#gBTri)"/><path d="M265.6,556.4 L270.1,565.0 L261.1,565.0Z" fill="url(#gBTri)"/><path d="M262.1,558.0 L266.6,566.6 L257.6,566.6Z" fill="url(#gBTri)"/><path d="M258.9,559.6 L263.4,568.2 L254.4,568.2Z" fill="url(#gBTri)"/><path d="M255.8,561.1 L260.3,569.7 L251.3,569.7Z" fill="url(#gBTri)"/><path d="M253.0,562.6 L257.5,571.2 L248.5,571.2Z" fill="url(#gBTri)"/><path d="M250.4,563.9 L254.9,572.5 L245.9,572.5Z" fill="url(#gBTri)"/><path d="M248.0,565.2 L252.5,573.8 L243.5,573.8Z" fill="url(#gBTri)"/><path d="M245.7,566.4 L250.2,575.0 L241.2,575.0Z" fill="url(#gBTri)"/><path d="M243.5,567.6 L248.0,576.2 L239.0,576.2Z" fill="url(#gBTri)"/><path d="M241.5,568.7 L246.0,577.3 L237.0,577.3Z" fill="url(#gBTri)"/><path d="M239.5,569.8 L244.0,578.4 L235.0,578.4Z" fill="url(#gBTri)"/><path d="M237.7,570.9 L242.2,579.5 L233.2,579.5Z" fill="url(#gBTri)"/><path d="M236.0,571.9 L240.5,580.5 L231.5,580.5Z" fill="url(#gBTri)"/>
<line x1="164.0" y1="676.1" x2="360.8" y2="668.2" stroke="#1a1a1a" stroke-width="1.6" stroke-dasharray="3.6 2.4"/>
<line x1="164.0" y1="670.6" x2="360.8" y2="642.8" stroke="#1a1a1a" stroke-width="1.6" stroke-dasharray="3.6 2.4"/>
<line x1="164.0" y1="664.8" x2="360.8" y2="615.2" stroke="#1a1a1a" stroke-width="1.6" stroke-dasharray="3.6 2.4"/>
<line x1="164.0" y1="658.8" x2="360.8" y2="595.0" stroke="#1a1a1a" stroke-width="1.6" stroke-dasharray="3.6 2.4"/>
<line x1="164.0" y1="652.2" x2="360.8" y2="574.0" stroke="#1a1a1a" stroke-width="1.6" stroke-dasharray="3.6 2.4"/>
<line x1="164.0" y1="642.7" x2="360.8" y2="556.5" stroke="#1a1a1a" stroke-width="1.6" stroke-dasharray="3.6 2.4"/>
<line x1="164.0" y1="634.3" x2="360.8" y2="527.9" stroke="#1a1a1a" stroke-width="1.6" stroke-dasharray="3.6 2.4"/>
<line x1="164.0" y1="626.1" x2="360.8" y2="500.0" stroke="#1a1a1a" stroke-width="1.6" stroke-dasharray="3.6 2.4"/>
<line x1="134.2" y1="464.5" x2="134.2" y2="676.6" stroke="#000" stroke-width="2" />
<line x1="133.2" y1="675.6" x2="383.4" y2="675.6" stroke="#000" stroke-width="2" />
<line x1="129.2" y1="675.6" x2="134.2" y2="675.6" stroke="#000" stroke-width="2" />
<text x="118" y="681.6" font-size="17" text-anchor="end" fill="#000" font-weight="bold" >0</text>
<line x1="129.2" y1="617" x2="134.2" y2="617" stroke="#000" stroke-width="2" />
<text x="118" y="623" font-size="17" text-anchor="end" fill="#000" font-weight="bold" >5</text>
<line x1="129.2" y1="558.4" x2="134.2" y2="558.4" stroke="#000" stroke-width="2" />
<text x="118" y="564.4" font-size="17" text-anchor="end" fill="#000" font-weight="bold" >10</text>
<line x1="129.2" y1="499.8" x2="134.2" y2="499.8" stroke="#000" stroke-width="2" />
<text x="118" y="505.8" font-size="17" text-anchor="end" fill="#000" font-weight="bold" >15</text>
<line x1="134.2" y1="675.6" x2="134.2" y2="680.6" stroke="#000" stroke-width="2" />
<text x="134.2" y="703.5" font-size="17.5" text-anchor="middle" fill="#000" font-weight="bold" >0</text>
<line x1="209" y1="675.6" x2="209" y2="680.6" stroke="#000" stroke-width="2" />
<text x="209" y="703.5" font-size="17.5" text-anchor="middle" fill="#000" font-weight="bold" >0.3</text>
<line x1="283.8" y1="675.6" x2="283.8" y2="680.6" stroke="#000" stroke-width="2" />
<text x="283.8" y="703.5" font-size="17.5" text-anchor="middle" fill="#000" font-weight="bold" >0.6</text>
<line x1="358.6" y1="675.6" x2="358.6" y2="680.6" stroke="#000" stroke-width="2" />
<text x="358.6" y="703.5" font-size="17.5" text-anchor="middle" fill="#000" font-weight="bold" >0.9</text>
<text x="160.6" y="486.2" font-size="19.5" text-anchor="start" fill="#1b2550" font-weight="bold" >(I)</text>
<text x="98.7" y="570.2" font-size="21" text-anchor="middle" fill="#000" font-weight="bold" transform="rotate(-90 98.7 570.2)">I/&#956;A</text>
<text x="224.3" y="722.6" font-size="21" text-anchor="start" font-weight="bold" ><tspan dy="0">t</tspan><tspan dy="-6.9" font-size="13.9">-0.5</tspan><tspan dy="6.9">/s</tspan><tspan dy="-6.9" font-size="13.9">-0.5</tspan></text>
<circle cx="442.9" cy="644.9" r="5.3" fill="url(#gBlu)"/>
<circle cx="465.8" cy="621.6" r="5.3" fill="url(#gBlu)"/>
<circle cx="493.8" cy="603.4" r="5.3" fill="url(#gBlu)"/>
<circle cx="523" cy="588.4" r="5.3" fill="url(#gBlu)"/>
<circle cx="552.1" cy="578.7" r="5.3" fill="url(#gBlu)"/>
<circle cx="580.1" cy="557.6" r="5.3" fill="url(#gBlu)"/>
<circle cx="608.6" cy="536.9" r="5.3" fill="url(#gBlu)"/>
<circle cx="637.1" cy="516.7" r="5.3" fill="url(#gBlu)"/>
<line x1="440" y1="641.8" x2="640" y2="517.7" stroke="#1a1a1a" stroke-width="1.8" stroke-dasharray="4.5 2.8"/>
<line x1="437" y1="472.2" x2="437" y2="676.3" stroke="#000" stroke-width="2" />
<line x1="436" y1="675.3" x2="666.5" y2="675.3" stroke="#000" stroke-width="2" />
<line x1="431" y1="675.3" x2="437" y2="675.3" stroke="#000" stroke-width="2" />
<text x="421" y="681.3" font-size="17.5" text-anchor="end" fill="#000" font-weight="bold" >0</text>
<line x1="431" y1="634.7" x2="437" y2="634.7" stroke="#000" stroke-width="2" />
<text x="421" y="640.7" font-size="17.5" text-anchor="end" fill="#000" font-weight="bold" >4</text>
<line x1="431" y1="594.1" x2="437" y2="594.1" stroke="#000" stroke-width="2" />
<text x="421" y="600.1" font-size="17.5" text-anchor="end" fill="#000" font-weight="bold" >8</text>
<line x1="431" y1="553.4" x2="437" y2="553.4" stroke="#000" stroke-width="2" />
<text x="421" y="559.4" font-size="17.5" text-anchor="end" fill="#000" font-weight="bold" >12</text>
<line x1="431" y1="512.8" x2="437" y2="512.8" stroke="#000" stroke-width="2" />
<text x="421" y="518.8" font-size="17.5" text-anchor="end" fill="#000" font-weight="bold" >16</text>
<line x1="431" y1="472.2" x2="437" y2="472.2" stroke="#000" stroke-width="2" />
<text x="421" y="478.2" font-size="17.5" text-anchor="end" fill="#000" font-weight="bold" >20</text>
<line x1="437" y1="675.3" x2="437" y2="681" stroke="#000" stroke-width="2" />
<text x="437" y="703.2" font-size="17.5" text-anchor="middle" fill="#000" font-weight="bold" >0</text>
<line x1="551.6" y1="675.3" x2="551.6" y2="681" stroke="#000" stroke-width="2" />
<text x="551.6" y="703.2" font-size="17.5" text-anchor="middle" fill="#000" font-weight="bold" >20</text>
<line x1="666.2" y1="675.3" x2="666.2" y2="681" stroke="#000" stroke-width="2" />
<text x="666.2" y="703.2" font-size="17.5" text-anchor="middle" fill="#000" font-weight="bold" >40</text>
<text x="465" y="494.6" font-size="19.5" text-anchor="start" fill="#1b2550" font-weight="bold" >(II)</text>
<text x="399.5" y="631.2" font-size="21.5" text-anchor="start" font-weight="bold" transform="rotate(-90 399.5 631.2)"><tspan dy="0">Slope/&#956;As</tspan><tspan dy="-9" font-size="14">-0.5</tspan></text>
<text x="508.5" y="726.7" font-size="21" text-anchor="start" font-weight="bold" ><tspan dy="0">C</tspan><tspan dy="5.2" font-size="15.1">DIC</tspan><tspan dy="-5.2">/&#956;M</tspan></text>
<text x="497" y="628" font-size="18.4" text-anchor="start" fill="#000" font-weight="bold" >y = 3.492x + 3.1486</text>
<text x="527.9" y="649.6" font-size="18" text-anchor="start" fill="#000" font-weight="bold" >R&#178; = 0.9907</text>
<line x1="72.3" y1="492.8" x2="72.3" y2="825.5" stroke="#000" stroke-width="2.2" />
<line x1="71.3" y1="824.5" x2="484" y2="824.5" stroke="#000" stroke-width="2.2" />
<g clip-path="url(#clip2)">
<path d="M72.4,462.8 L72.4,464.3 L72.4,466.1 L72.4,468 L72.4,469.9 L72.4,471.7 L72.4,473.5 L72.4,475.3 L72.4,477.1 L72.4,478.9 L72.4,480.7 L72.4,482.5 L72.4,484.3 L72.4,486 L72.4,487.7 L72.4,489.5 L72.4,491.2 L72.4,492.9 L72.4,494.6 L72.4,496.3 L72.4,498 L72.4,499.6 L72.4,501.3 L72.4,502.9 L72.4,504.6 L72.4,506.2 L72.4,507.8 L72.4,509.4 L72.4,511 L72.4,512.6 L72.4,514.2 L72.4,515.8 L72.4,517.3 L72.4,518.9 L72.4,520.4 L72.4,522 L72.4,523.5 L72.4,525 L72.4,526.5 L72.4,528 L72.4,529.5 L72.4,530.9 L72.4,532.4 L72.4,533.9 L72.4,535.3 L72.4,536.8 L72.4,538.2 L72.4,539.6 L72.4,541 L72.4,542.4 L72.4,543.8 L72.4,545.2 L72.4,546.6 L72.4,548 L72.4,549.4 L72.4,550.7 L72.4,552.1 L72.4,553.4 L72.4,554.7 L72.4,556.1 L72.4,557.4 L72.4,558.7 L72.4,560 L72.4,561.3 L72.4,562.6 L72.4,563.8 L72.4,565.1 L72.5,566.4 L72.5,567.6 L72.5,568.9 L72.5,570.1 L72.5,571.3 L72.5,572.6 L72.5,573.8 L72.5,575 L72.5,576.2 L72.5,577.4 L72.5,578.6 L72.5,579.8 L72.5,580.9 L72.5,582.1 L72.5,583.3 L72.5,584.4 L72.5,585.6 L72.5,586.7 L72.5,587.8 L72.5,588.9 L72.5,590.1 L72.5,591.2 L72.5,592.3 L72.5,593.4 L72.5,594.5 L72.5,595.6 L72.5,596.6 L72.5,597.7 L72.5,598.8 L72.5,599.8 L72.5,600.9 L72.5,601.9 L72.5,603 L72.5,604 L72.5,605 L72.5,606.1 L72.5,607.1 L72.5,608.1 L72.5,609.1 L72.5,610.1 L72.5,611.1 L72.5,612.1 L72.5,613.1 L72.5,614 L72.5,615 L72.5,616 L72.5,616.9 L72.5,617.9 L72.5,618.8 L72.5,619.8 L72.5,620.7 L72.5,621.6 L72.5,622.6 L72.5,623.5 L72.5,624.4 L72.5,625.3 L72.5,626.2 L72.5,627.1 L72.5,628 L72.5,628.9 L72.5,629.8 L72.5,630.6 L72.5,631.5 L72.5,632.4 L72.5,633.2 L72.5,634.1 L72.5,634.9 L72.5,635.8 L72.5,636.6 L72.5,637.5 L72.5,638.3 L72.5,639.1 L72.5,640 L72.5,640.8 L72.5,641.6 L72.5,642.4 L72.5,643.2 L72.5,644.8 L72.6,646.4 L72.6,647.9 L72.6,649.5 L72.6,651 L72.6,652.5 L72.6,654 L72.6,655.4 L72.6,656.9 L72.6,658.3 L72.6,659.7 L72.6,661.1 L72.6,662.5 L72.6,663.9 L72.6,665.2 L72.6,666.6 L72.6,667.9 L72.6,669.2 L72.6,670.5 L72.6,671.8 L72.6,673.1 L72.6,674.3 L72.6,675.6 L72.6,676.8 L72.6,678 L72.6,679.2 L72.6,680.4 L72.6,681.5 L72.7,682.7 L72.7,683.8 L72.7,685 L72.7,686.1 L72.7,687.2 L72.7,688.3 L72.7,689.4 L72.7,690.5 L72.7,691.5 L72.7,692.6 L72.7,693.6 L72.7,694.6 L72.7,695.7 L72.7,696.7 L72.7,697.7 L72.7,698.6 L72.7,699.6 L72.7,700.6 L72.7,701.5 L72.7,702.5 L72.8,703.4 L72.8,704.3 L72.8,705.2 L72.8,706.2 L72.8,707.1 L72.8,707.9 L72.8,708.8 L72.8,709.7 L72.8,710.6 L72.8,711.4 L72.8,712.2 L72.8,713.1 L72.8,713.9 L72.8,714.7 L72.8,715.5 L72.9,716.3 L72.9,717.1 L72.9,718.3 L72.9,719.5 L72.9,720.6 L72.9,721.8 L72.9,722.9 L72.9,724 L72.9,725.1 L73,726.1 L73,727.2 L73,728.2 L73,729.3 L73,730.3 L73,731.3 L73,732.3 L73,733.2 L73.1,734.2 L73.1,735.2 L73.1,736.1 L73.1,737 L73.1,738 L73.1,738.9 L73.2,739.8 L73.2,740.6 L73.2,741.5 L73.2,742.4 L73.2,743.3 L73.2,744.1 L73.3,744.9 L73.3,745.8 L73.3,746.6 L73.3,747.4 L73.3,748.2 L73.3,749 L73.4,749.8 L73.4,750.6 L73.4,751.6 L73.4,752.6 L73.5,753.6 L73.5,754.6 L73.5,755.6 L73.6,756.6 L73.6,757.6 L73.6,758.5 L73.7,759.5 L73.7,760.4 L73.7,761.3 L73.8,762.2 L73.8,763.1 L73.9,764 L73.9,764.9 L73.9,765.8 L74,766.7 L74,767.5 L74.1,768.4 L74.1,769.2 L74.2,770.1 L74.2,770.9 L74.3,771.7 L74.3,772.5 L74.4,773.4 L74.4,774.2 L74.5,775 L74.5,775.7 L74.6,776.5 L74.6,777.3 L74.7,778.1 L74.8,778.8 L74.8,779.6 L74.9,780.4 L75,781.1 L75,781.8 L75.1,782.6 L75.2,783.5 L75.3,784.4 L75.4,785.2 L75.5,786.1 L75.6,787 L75.7,787.8 L75.8,788.6 L75.9,789.5 L76,790.3 L76.2,791 L76.3,791.8 L76.4,792.6 L76.5,793.3 L76.7,794.1 L76.8,794.8 L77,795.5 L77.1,796.2 L77.3,796.8 L77.4,797.5 L77.6,798.2 L77.8,798.9 L78.1,799.6 L78.3,800.3 L78.5,801 L78.8,801.6 L79,802.2 L79.3,802.7 L79.5,803.3 L79.9,803.9 L80.2,804.4 L80.6,804.9 L80.9,805.4 L81.3,805.9 L81.8,806.3 L82.2,806.7 L82.6,807 L83.2,807.4 L83.7,807.7 L84.3,808 L85,808.3 L85.6,808.5 L86.3,808.7 L87,808.9 L87.6,809.1 L88.3,809.2 L89.1,809.3 L89.8,809.5 L90.6,809.6 L91.5,809.7 L92.2,809.7 L93,809.8 L93.8,809.9 L94.6,809.9 L95.5,810 L96.3,810.1 L97,810.1 L97.8,810.1 L98.7,810.2 L99.5,810.2 L100.4,810.3 L101.3,810.3 L102.3,810.4 L103,810.4 L103.8,810.4 L104.6,810.4 L105.5,810.5 L106.3,810.5 L107.2,810.5 L108.1,810.5 L109,810.6 L110,810.6 L111,810.6 L112,810.6 L113,810.7 L113.8,810.7 L114.6,810.7 L115.4,810.7 L116.2,810.7 L117.1,810.7 L117.9,810.7 L118.8,810.8 L119.7,810.8 L120.6,810.8 L121.6,810.8 L122.5,810.8 L123.5,810.8 L124.5,810.8 L125.5,810.9 L126.5,810.9 L127.5,810.9 L128.6,810.9 L129.7,810.9 L130.8,810.9 L131.9,810.9 L133.1,810.9 L134.2,811 L135,811 L135.8,811 L136.7,811 L137.5,811 L138.3,811 L139.2,811 L140,811 L140.9,811 L141.8,811 L142.7,811 L143.6,811 L144.5,811 L145.4,811 L146.3,811 L147.3,811 L148.3,811.1 L149.2,811.1 L150.2,811.1 L151.2,811.1 L152.2,811.1 L153.3,811.1 L154.3,811.1 L155.3,811.1 L156.4,811.1 L157.5,811.1 L158.6,811.1 L159.7,811.1 L160.8,811.1 L161.9,811.1 L163.1,811.1 L164.3,811.1 L165.4,811.1 L166.6,811.1 L167.8,811.2 L169.1,811.2 L170.3,811.2 L171.6,811.2 L172.8,811.2 L174.1,811.2 L175.4,811.2 L176.8,811.2 L178.1,811.2 L179.5,811.2 L180.8,811.2 L182.2,811.2 L183.6,811.2 L185.1,811.2 L186.5,811.2 L188,811.2 L189.5,811.2 L191,811.2 L192.5,811.2 L194,811.2 L195.6,811.2 L197.2,811.2 L198,811.2 L198.8,811.2 L199.6,811.2 L200.4,811.2 L201.2,811.2 L202,811.3 L202.9,811.3 L203.7,811.3 L204.5,811.3 L205.4,811.3 L206.2,811.3 L207.1,811.3 L207.9,811.3 L208.8,811.3 L209.7,811.3 L210.6,811.3 L211.5,811.3 L212.3,811.3 L213.2,811.3 L214.1,811.3 L215,811.3 L216,811.3 L216.9,811.3 L217.8,811.3 L218.7,811.3 L219.7,811.3 L220.6,811.3 L221.6,811.3 L222.5,811.3 L223.5,811.3 L224.4,811.3 L225.4,811.3 L226.4,811.3 L227.4,811.3 L228.4,811.3 L229.4,811.3 L230.4,811.3 L231.4,811.3 L232.4,811.3 L233.4,811.3 L234.4,811.3 L235.5,811.3 L236.5,811.3 L237.6,811.3 L238.6,811.3 L239.7,811.3 L240.8,811.3 L241.8,811.3 L242.9,811.3 L244,811.3 L245.1,811.3 L246.2,811.3 L247.3,811.3 L248.4,811.3 L249.6,811.3 L250.7,811.3 L251.8,811.3 L253,811.3 L254.2,811.3 L255.3,811.3 L256.5,811.3 L257.7,811.3 L258.8,811.3 L260,811.3 L261.2,811.3 L262.4,811.3 L263.7,811.3 L264.9,811.3 L266.1,811.3 L267.4,811.3 L268.6,811.3 L269.9,811.3 L271.1,811.3 L272.4,811.3 L273.7,811.4 L275,811.4 L276.3,811.4 L277.6,811.4 L278.9,811.4 L280.2,811.4 L281.5,811.4 L282.9,811.4 L284.2,811.4 L285.6,811.4 L286.9,811.4 L288.3,811.4 L289.7,811.4 L291.1,811.4 L292.5,811.4 L293.9,811.4 L295.3,811.4 L296.7,811.4 L298.1,811.4 L299.6,811.4 L301,811.4 L302.5,811.4 L304,811.4 L305.5,811.4 L306.9,811.4 L308.4,811.4 L310,811.4 L311.5,811.4 L313,811.4 L314.5,811.4 L316.1,811.4 L317.6,811.4 L319.2,811.4 L320.8,811.4 L322.4,811.4 L324,811.4 L325.6,811.4 L327.2,811.4 L328.8,811.4 L330.5,811.4 L332.1,811.4 L333.8,811.4 L335.5,811.4 L337.1,811.4 L338.8,811.4 L340.5,811.4 L342.3,811.4 L344,811.4 L345.7,811.4 L347.5,811.4 L349.2,811.4 L351,811.4 L352.8,811.4 L354.6,811.4 L356.4,811.4 L358.2,811.4 L360,811.4 L361.9,811.4 L363.7,811.4 L365.6,811.4 L367.4,811.4 L369.3,811.4 L371.2,811.4 L373.1,811.4 L375.1,811.4 L377,811.4 L378.9,811.4 L380.9,811.4 L382.9,811.4 L384.9,811.4 L386.9,811.4 L388.9,811.4 L390.9,811.4 L392.9,811.4 L395,811.4 L397,811.4 L399.1,811.4 L401.2,811.4 L403.3,811.4 L405.4,811.4 L407.6,811.4 L409.7,811.4 L411.9,811.4 L414,811.4 L416.2,811.4 L418.4,811.4 L420.6,811.4 L422.9,811.4 L425.1,811.4 L427.3,811.4 L429.6,811.4 L431.9,811.4 L434.2,811.4" fill="none" stroke="#c0141e" stroke-width="2.4" stroke-linejoin="round" stroke-linecap="round" />
<path d="M72.5,462.8 L72.5,464.7 L72.5,466 L72.5,467.4 L72.5,468.7 L72.5,470 L72.5,471.4 L72.5,472.7 L72.5,474 L72.5,475.3 L72.5,476.6 L72.5,477.9 L72.5,479.2 L72.5,480.5 L72.5,481.8 L72.5,483.1 L72.5,484.4 L72.5,485.7 L72.5,486.9 L72.5,488.2 L72.5,489.5 L72.5,490.7 L72.5,492 L72.5,493.2 L72.5,494.5 L72.5,495.7 L72.5,496.9 L72.5,498.2 L72.5,499.4 L72.5,500.6 L72.5,501.8 L72.5,503 L72.5,504.2 L72.5,505.4 L72.5,506.6 L72.5,507.8 L72.5,509 L72.5,510.2 L72.5,511.4 L72.5,512.5 L72.5,513.7 L72.5,514.9 L72.5,516 L72.5,517.2 L72.5,518.3 L72.5,519.5 L72.5,520.6 L72.5,521.8 L72.5,522.9 L72.5,524 L72.5,525.1 L72.5,526.3 L72.5,527.4 L72.5,528.5 L72.5,529.6 L72.5,530.7 L72.5,531.8 L72.5,532.9 L72.5,534 L72.5,535.1 L72.5,536.2 L72.6,537.2 L72.6,538.3 L72.6,539.4 L72.6,540.4 L72.6,541.5 L72.6,542.6 L72.6,543.6 L72.6,544.7 L72.6,545.7 L72.6,546.8 L72.6,547.8 L72.6,548.8 L72.6,549.9 L72.6,550.9 L72.6,551.9 L72.6,552.9 L72.6,553.9 L72.6,554.9 L72.6,556 L72.6,557 L72.6,558 L72.6,559 L72.6,559.9 L72.6,560.9 L72.6,561.9 L72.6,562.9 L72.6,563.9 L72.6,564.8 L72.6,565.8 L72.6,566.8 L72.6,567.7 L72.6,568.7 L72.6,569.7 L72.6,570.6 L72.6,571.6 L72.6,572.5 L72.6,573.4 L72.6,574.4 L72.6,575.3 L72.6,576.2 L72.6,577.2 L72.6,578.1 L72.6,579 L72.6,579.9 L72.6,580.8 L72.6,581.7 L72.6,582.6 L72.6,583.5 L72.6,584.4 L72.6,585.3 L72.6,586.2 L72.6,587.1 L72.6,588 L72.7,588.9 L72.7,589.8 L72.7,590.6 L72.7,591.5 L72.7,592.4 L72.7,593.2 L72.7,594.1 L72.7,594.9 L72.7,595.8 L72.7,596.7 L72.7,597.5 L72.7,598.3 L72.7,599.2 L72.7,600 L72.7,600.9 L72.7,601.7 L72.7,602.5 L72.7,603.3 L72.7,604.2 L72.7,605 L72.7,605.8 L72.7,606.6 L72.7,607.4 L72.7,608.2 L72.7,609 L72.7,609.8 L72.7,610.6 L72.7,612.2 L72.7,613.8 L72.7,615.4 L72.7,616.9 L72.7,618.4 L72.7,620 L72.8,621.5 L72.8,623 L72.8,624.5 L72.8,626 L72.8,627.4 L72.8,628.9 L72.8,630.3 L72.8,631.8 L72.8,633.2 L72.8,634.6 L72.8,636 L72.8,637.4 L72.8,638.8 L72.8,640.2 L72.8,641.5 L72.8,642.9 L72.9,644.2 L72.9,645.5 L72.9,646.9 L72.9,648.2 L72.9,649.5 L72.9,650.8 L72.9,652 L72.9,653.3 L72.9,654.6 L72.9,655.8 L72.9,657.1 L72.9,658.3 L72.9,659.5 L73,660.7 L73,661.9 L73,663.1 L73,664.3 L73,665.5 L73,666.7 L73,667.8 L73,669 L73,670.1 L73,671.3 L73,672.4 L73.1,673.5 L73.1,674.6 L73.1,675.7 L73.1,676.8 L73.1,677.9 L73.1,678.9 L73.1,680 L73.1,681.1 L73.1,682.1 L73.1,683.2 L73.2,684.2 L73.2,685.2 L73.2,686.2 L73.2,687.2 L73.2,688.2 L73.2,689.2 L73.2,690.2 L73.2,691.2 L73.2,692.2 L73.3,693.1 L73.3,694.1 L73.3,695 L73.3,696 L73.3,696.9 L73.3,697.9 L73.3,698.8 L73.3,699.7 L73.4,700.6 L73.4,701.5 L73.4,702.4 L73.4,703.3 L73.4,704.1 L73.4,705 L73.4,705.9 L73.5,706.7 L73.5,707.6 L73.5,708.4 L73.5,709.3 L73.5,710.1 L73.5,710.9 L73.6,711.8 L73.6,712.6 L73.6,713.4 L73.6,714.2 L73.6,715 L73.6,715.8 L73.7,716.9 L73.7,718.1 L73.7,719.2 L73.7,720.4 L73.8,721.5 L73.8,722.6 L73.8,723.7 L73.9,724.8 L73.9,725.8 L73.9,726.9 L73.9,727.9 L74,729 L74,730 L74,731 L74.1,732 L74.1,733 L74.2,733.9 L74.2,734.9 L74.2,735.9 L74.3,736.8 L74.3,737.7 L74.3,738.6 L74.4,739.5 L74.4,740.4 L74.5,741.3 L74.5,742.2 L74.5,743.1 L74.6,743.9 L74.6,744.8 L74.7,745.6 L74.7,746.4 L74.8,747.2 L74.8,748 L74.9,748.8 L74.9,749.6 L75,750.4 L75,751.2 L75.1,751.9 L75.1,752.7 L75.2,753.7 L75.3,754.6 L75.3,755.6 L75.4,756.5 L75.5,757.5 L75.6,758.4 L75.7,759.3 L75.8,760.1 L75.8,761 L75.9,761.9 L76,762.7 L76.1,763.5 L76.2,764.3 L76.3,765.1 L76.4,765.9 L76.5,766.7 L76.6,767.5 L76.8,768.2 L76.9,768.9 L77,769.7 L77.1,770.4 L77.2,771.1 L77.4,771.8 L77.5,772.4 L77.7,773.3 L77.8,774.1 L78,774.9 L78.2,775.6 L78.4,776.4 L78.6,777.1 L78.8,777.9 L79,778.6 L79.2,779.3 L79.4,780 L79.7,780.6 L79.9,781.3 L80.2,781.9 L80.4,782.5 L80.7,783.1 L80.9,783.7 L81.2,784.3 L81.5,784.9 L81.8,785.4 L82.1,786 L82.4,786.5 L82.8,787 L83.1,787.5 L83.5,788 L83.8,788.5 L84.2,789 L84.6,789.4 L85,789.9 L85.4,790.3 L85.8,790.7 L86.2,791.1 L86.7,791.5 L87.2,791.9 L87.6,792.3 L88.1,792.6 L88.7,793 L89.2,793.3 L89.7,793.7 L90.3,794 L90.9,794.3 L91.5,794.6 L92.1,794.9 L92.7,795.2 L93.4,795.5 L94.1,795.8 L94.8,796.1 L95.5,796.3 L96.1,796.5 L96.7,796.7 L97.4,796.9 L98,797.1 L98.7,797.3 L99.4,797.5 L100.1,797.6 L100.8,797.8 L101.5,798 L102.3,798.1 L103,798.3 L103.8,798.4 L104.6,798.6 L105.5,798.7 L106.3,798.9 L107.2,799 L108.1,799.2 L109,799.3 L109.7,799.4 L110.5,799.5 L111.2,799.6 L112,799.7 L112.7,799.8 L113.5,799.9 L114.3,799.9 L115.1,800 L115.9,800.1 L116.8,800.2 L117.6,800.3 L118.5,800.4 L119.4,800.4 L120.3,800.5 L121.2,800.6 L122.2,800.7 L123.1,800.8 L124.1,800.8 L125.1,800.9 L126.1,801 L127.2,801.1 L128.2,801.1 L129.3,801.2 L130.4,801.3 L131.5,801.3 L132.3,801.4 L133.1,801.4 L133.9,801.5 L134.6,801.5 L135.4,801.6 L136.3,801.6 L137.1,801.7 L137.9,801.7 L138.7,801.8 L139.6,801.8 L140.5,801.8 L141.3,801.9 L142.2,801.9 L143.1,802 L144,802 L144.9,802.1 L145.9,802.1 L146.8,802.2 L147.8,802.2 L148.7,802.2 L149.7,802.3 L150.7,802.3 L151.7,802.4 L152.7,802.4 L153.8,802.5 L154.8,802.5 L155.9,802.5 L157,802.6 L158,802.6 L159.1,802.7 L160.3,802.7 L161.4,802.8 L162.5,802.8 L163.7,802.8 L164.9,802.9 L166,802.9 L167.2,803 L168.5,803 L169.7,803.1 L170.9,803.1 L172.2,803.1 L173.5,803.2 L174.8,803.2 L176.1,803.3 L177.4,803.3 L178.8,803.4 L180.1,803.4 L181.5,803.5 L182.9,803.5 L184.3,803.5 L185.8,803.6 L187.2,803.6 L188.7,803.7 L190.2,803.7 L191.7,803.7 L193.3,803.8 L194.8,803.8 L195.6,803.9 L196.4,803.9 L197.2,803.9 L198,803.9 L198.8,803.9 L199.6,804 L200.4,804 L201.2,804 L202,804 L202.9,804 L203.7,804.1 L204.5,804.1 L205.4,804.1 L206.2,804.1 L207.1,804.2 L207.9,804.2 L208.8,804.2 L209.7,804.2 L210.6,804.2 L211.5,804.3 L212.3,804.3 L213.2,804.3 L214.1,804.3 L215,804.3 L216,804.4 L216.9,804.4 L217.8,804.4 L218.7,804.4 L219.7,804.4 L220.6,804.5 L221.6,804.5 L222.5,804.5 L223.5,804.5 L224.4,804.6 L225.4,804.6 L226.4,804.6 L227.4,804.6 L228.4,804.6 L229.4,804.7 L230.4,804.7 L231.4,804.7 L232.4,804.7 L233.4,804.7 L234.4,804.8 L235.5,804.8 L236.5,804.8 L237.6,804.8 L238.6,804.8 L239.7,804.9 L240.8,804.9 L241.8,804.9 L242.9,804.9 L244,804.9 L245.1,805 L246.2,805 L247.3,805 L248.4,805 L249.6,805 L250.7,805.1 L251.8,805.1 L253,805.1 L254.2,805.1 L255.3,805.1 L256.5,805.2 L257.7,805.2 L258.8,805.2 L260,805.2 L261.2,805.2 L262.4,805.3 L263.7,805.3 L264.9,805.3 L266.1,805.3 L267.4,805.3 L268.6,805.4 L269.9,805.4 L271.1,805.4 L272.4,805.4 L273.7,805.4 L275,805.4 L276.3,805.5 L277.6,805.5 L278.9,805.5 L280.2,805.5 L281.5,805.5 L282.9,805.6 L284.2,805.6 L285.6,805.6 L286.9,805.6 L288.3,805.6 L289.7,805.7 L291.1,805.7 L292.5,805.7 L293.9,805.7 L295.3,805.7 L296.7,805.7 L298.1,805.8 L299.6,805.8 L301,805.8 L302.5,805.8 L304,805.8 L305.5,805.8 L306.9,805.9 L308.4,805.9 L310,805.9 L311.5,805.9 L313,805.9 L314.5,806 L316.1,806 L317.6,806 L319.2,806 L320.8,806 L322.4,806 L324,806.1 L325.6,806.1 L327.2,806.1 L328.8,806.1 L330.5,806.1 L332.1,806.1 L333.8,806.2 L335.5,806.2 L337.1,806.2 L338.8,806.2 L340.5,806.2 L342.3,806.2 L344,806.3 L345.7,806.3 L347.5,806.3 L349.2,806.3 L351,806.3 L352.8,806.3 L354.6,806.4 L356.4,806.4 L358.2,806.4 L360,806.4 L361.9,806.4 L363.7,806.4 L365.6,806.4 L367.4,806.5 L369.3,806.5 L371.2,806.5 L373.1,806.5 L375.1,806.5 L377,806.5 L378.9,806.6 L380.9,806.6 L382.9,806.6 L384.9,806.6 L386.9,806.6 L388.9,806.6 L390.9,806.6 L392.9,806.7 L395,806.7 L397,806.7 L399.1,806.7 L401.2,806.7 L403.3,806.7 L405.4,806.8 L407.6,806.8 L409.7,806.8 L411.9,806.8 L414,806.8 L416.2,806.8 L418.4,806.8 L420.6,806.9 L422.9,806.9 L425.1,806.9 L427.3,806.9 L429.6,806.9 L431.9,806.9 L434.2,806.9" fill="none" stroke="#f0141e" stroke-width="2.4" stroke-linejoin="round" stroke-linecap="round" />
<path d="M72.4,462.8 L72.4,463.7 L72.4,464.6 L72.4,465.4 L72.4,466.3 L72.4,467.2 L72.4,468.1 L72.4,468.9 L72.4,469.8 L72.4,470.6 L72.4,471.5 L72.4,472.4 L72.4,473.2 L72.4,474.1 L72.4,474.9 L72.4,475.8 L72.4,476.6 L72.4,477.4 L72.4,478.3 L72.4,479.1 L72.4,479.9 L72.4,480.8 L72.4,481.6 L72.4,482.4 L72.4,483.3 L72.4,484.1 L72.4,484.9 L72.4,485.7 L72.4,486.5 L72.4,487.4 L72.4,488.2 L72.4,489 L72.4,489.8 L72.4,490.6 L72.4,491.4 L72.4,492.2 L72.4,493 L72.4,494.6 L72.4,496.2 L72.4,497.8 L72.4,499.3 L72.4,500.9 L72.4,502.4 L72.5,504 L72.5,505.5 L72.5,507 L72.5,508.5 L72.5,510 L72.5,511.5 L72.5,513 L72.5,514.5 L72.5,516 L72.5,517.5 L72.5,518.9 L72.5,520.4 L72.5,521.8 L72.5,523.3 L72.5,524.7 L72.5,526.1 L72.5,527.5 L72.5,528.9 L72.5,530.3 L72.5,531.7 L72.5,533.1 L72.5,534.5 L72.5,535.9 L72.5,537.2 L72.5,538.6 L72.5,539.9 L72.5,541.3 L72.5,542.6 L72.5,543.9 L72.5,545.2 L72.5,546.6 L72.5,547.9 L72.5,549.2 L72.5,550.5 L72.5,551.7 L72.5,553 L72.5,554.3 L72.5,555.6 L72.5,556.8 L72.5,558.1 L72.6,559.3 L72.6,560.6 L72.6,561.8 L72.6,563 L72.6,564.2 L72.6,565.5 L72.6,566.7 L72.6,567.9 L72.6,569.1 L72.6,570.2 L72.6,571.4 L72.6,572.6 L72.6,573.8 L72.6,574.9 L72.6,576.1 L72.6,577.3 L72.6,578.4 L72.6,579.5 L72.6,580.7 L72.6,581.8 L72.6,582.9 L72.6,584.1 L72.6,585.2 L72.6,586.3 L72.6,587.4 L72.6,588.5 L72.6,589.6 L72.7,590.7 L72.7,591.7 L72.7,592.8 L72.7,593.9 L72.7,594.9 L72.7,596 L72.7,597.1 L72.7,598.1 L72.7,599.1 L72.7,600.2 L72.7,601.2 L72.7,602.2 L72.7,603.3 L72.7,604.3 L72.7,605.3 L72.7,606.3 L72.7,607.3 L72.7,608.3 L72.7,609.3 L72.7,610.3 L72.8,611.3 L72.8,612.3 L72.8,613.2 L72.8,614.2 L72.8,615.2 L72.8,616.1 L72.8,617.1 L72.8,618 L72.8,619 L72.8,619.9 L72.8,620.9 L72.8,621.8 L72.8,622.7 L72.8,623.7 L72.8,624.6 L72.9,625.5 L72.9,626.4 L72.9,627.3 L72.9,628.2 L72.9,629.1 L72.9,630 L72.9,630.9 L72.9,631.8 L72.9,632.7 L72.9,633.6 L72.9,634.5 L72.9,635.3 L72.9,636.2 L73,637.1 L73,637.9 L73,638.8 L73,639.6 L73,640.5 L73,641.3 L73,642.2 L73,643 L73,643.9 L73,644.7 L73,645.5 L73,646.3 L73.1,647.2 L73.1,648 L73.1,648.8 L73.1,649.6 L73.1,650.4 L73.1,651.2 L73.1,652 L73.1,652.8 L73.1,653.6 L73.2,654.4 L73.2,655.2 L73.2,656.4 L73.2,657.6 L73.2,658.7 L73.2,659.9 L73.2,661 L73.3,662.2 L73.3,663.3 L73.3,664.4 L73.3,665.6 L73.3,666.7 L73.4,667.8 L73.4,668.9 L73.4,670 L73.4,671.1 L73.4,672.2 L73.5,673.3 L73.5,674.4 L73.5,675.4 L73.5,676.5 L73.6,677.6 L73.6,678.6 L73.6,679.7 L73.6,680.7 L73.7,681.7 L73.7,682.8 L73.7,683.8 L73.7,684.8 L73.8,685.9 L73.8,686.9 L73.8,687.9 L73.9,688.9 L73.9,689.9 L73.9,690.9 L73.9,691.9 L74,692.9 L74,693.8 L74,694.8 L74.1,695.8 L74.1,696.8 L74.2,697.7 L74.2,698.7 L74.2,699.6 L74.3,700.6 L74.3,701.5 L74.3,702.5 L74.4,703.4 L74.4,704.3 L74.5,705.3 L74.5,706.2 L74.5,707.1 L74.6,708 L74.6,709 L74.7,709.9 L74.7,710.8 L74.8,711.7 L74.8,712.6 L74.9,713.5 L74.9,714.4 L75,715.2 L75,716.1 L75.1,717 L75.1,717.9 L75.2,718.7 L75.2,719.6 L75.3,720.5 L75.3,721.3 L75.4,722.2 L75.5,723 L75.5,723.9 L75.6,724.7 L75.6,725.6 L75.7,726.4 L75.8,727.2 L75.8,728 L75.9,728.9 L76,729.7 L76.1,730.5 L76.1,731.3 L76.2,732.1 L76.3,732.9 L76.4,733.7 L76.4,734.5 L76.5,735.3 L76.6,736 L76.7,736.8 L76.8,737.6 L76.8,738.3 L76.9,739.1 L77,739.8 L77.1,740.6 L77.2,741.3 L77.3,742.1 L77.4,742.8 L77.5,743.5 L77.6,744.2 L77.7,745 L77.8,745.7 L77.9,746.4 L78,747.1 L78.1,747.8 L78.3,748.7 L78.4,749.6 L78.6,750.5 L78.8,751.3 L78.9,752.2 L79.1,753.1 L79.3,753.9 L79.4,754.7 L79.6,755.6 L79.8,756.4 L80,757.2 L80.2,757.9 L80.4,758.7 L80.6,759.5 L80.8,760.2 L81.1,760.9 L81.3,761.7 L81.5,762.4 L81.8,763.1 L82,763.7 L82.2,764.4 L82.5,765.1 L82.8,765.7 L83,766.3 L83.3,767 L83.6,767.6 L83.9,768.2 L84.2,768.7 L84.5,769.3 L84.8,769.9 L85.1,770.4 L85.5,771 L85.8,771.5 L86.2,772 L86.5,772.5 L86.9,773 L87.3,773.5 L87.6,773.9 L88,774.4 L88.4,774.9 L88.9,775.3 L89.3,775.7 L89.7,776.2 L90.2,776.6 L90.6,777 L91.1,777.4 L91.6,777.8 L92.1,778.2 L92.6,778.6 L93.1,778.9 L93.7,779.3 L94.2,779.7 L94.8,780 L95.4,780.4 L96,780.7 L96.6,781 L97.2,781.4 L97.8,781.7 L98.5,782 L99.2,782.4 L99.9,782.7 L100.6,783 L101.3,783.3 L102.1,783.6 L102.8,783.9 L103.4,784.1 L104,784.3 L104.6,784.5 L105.3,784.8 L105.9,785 L106.6,785.2 L107.2,785.4 L107.9,785.6 L108.6,785.8 L109.3,786 L110,786.2 L110.7,786.4 L111.5,786.6 L112.2,786.8 L113,787 L113.8,787.2 L114.6,787.4 L115.4,787.6 L116.2,787.8 L117.1,788 L117.9,788.2 L118.8,788.3 L119.7,788.5 L120.6,788.7 L121.6,788.9 L122.5,789.1 L123.5,789.2 L124.5,789.4 L125.5,789.6 L126.5,789.8 L127.2,789.9 L127.9,790 L128.6,790.1 L129.3,790.2 L130.1,790.3 L130.8,790.4 L131.5,790.5 L132.3,790.7 L133.1,790.8 L133.9,790.9 L134.6,791 L135.4,791.1 L136.3,791.2 L137.1,791.3 L137.9,791.4 L138.7,791.5 L139.6,791.6 L140.5,791.7 L141.3,791.8 L142.2,791.9 L143.1,792 L144,792.1 L144.9,792.2 L145.9,792.3 L146.8,792.4 L147.8,792.5 L148.7,792.6 L149.7,792.7 L150.7,792.8 L151.7,792.9 L152.7,793 L153.8,793.1 L154.8,793.2 L155.9,793.3 L157,793.4 L158,793.5 L159.1,793.6 L160.3,793.7 L161.4,793.8 L162.5,793.9 L163.7,794 L164.9,794 L166,794.1 L167.2,794.2 L168.5,794.3 L169.7,794.4 L170.9,794.5 L172.2,794.6 L173.5,794.7 L174.8,794.8 L176.1,794.8 L177.4,794.9 L178.8,795 L180.1,795.1 L181.5,795.2 L182.9,795.3 L184.3,795.3 L185.8,795.4 L187.2,795.5 L188.7,795.6 L190.2,795.7 L191.7,795.8 L192.5,795.8 L193.3,795.8 L194,795.9 L194.8,795.9 L195.6,796 L196.4,796 L197.2,796 L198,796.1 L198.8,796.1 L199.6,796.2 L200.4,796.2 L201.2,796.2 L202,796.3 L202.9,796.3 L203.7,796.4 L204.5,796.4 L205.4,796.4 L206.2,796.5 L207.1,796.5 L207.9,796.5 L208.8,796.6 L209.7,796.6 L210.6,796.7 L211.5,796.7 L212.3,796.7 L213.2,796.8 L214.1,796.8 L215,796.8 L216,796.9 L216.9,796.9 L217.8,797 L218.7,797 L219.7,797 L220.6,797.1 L221.6,797.1 L222.5,797.1 L223.5,797.2 L224.4,797.2 L225.4,797.3 L226.4,797.3 L227.4,797.3 L228.4,797.4 L229.4,797.4 L230.4,797.4 L231.4,797.5 L232.4,797.5 L233.4,797.5 L234.4,797.6 L235.5,797.6 L236.5,797.6 L237.6,797.7 L238.6,797.7 L239.7,797.8 L240.8,797.8 L241.8,797.8 L242.9,797.9 L244,797.9 L245.1,797.9 L246.2,798 L247.3,798 L248.4,798 L249.6,798.1 L250.7,798.1 L251.8,798.1 L253,798.2 L254.2,798.2 L255.3,798.2 L256.5,798.3 L257.7,798.3 L258.8,798.3 L260,798.4 L261.2,798.4 L262.4,798.4 L263.7,798.5 L264.9,798.5 L266.1,798.5 L267.4,798.6 L268.6,798.6 L269.9,798.6 L271.1,798.7 L272.4,798.7 L273.7,798.7 L275,798.8 L276.3,798.8 L277.6,798.8 L278.9,798.9 L280.2,798.9 L281.5,798.9 L282.9,798.9 L284.2,799 L285.6,799 L286.9,799 L288.3,799.1 L289.7,799.1 L291.1,799.1 L292.5,799.2 L293.9,799.2 L295.3,799.2 L296.7,799.3 L298.1,799.3 L299.6,799.3 L301,799.3 L302.5,799.4 L304,799.4 L305.5,799.4 L306.9,799.5 L308.4,799.5 L310,799.5 L311.5,799.6 L313,799.6 L314.5,799.6 L316.1,799.6 L317.6,799.7 L319.2,799.7 L320.8,799.7 L322.4,799.8 L324,799.8 L325.6,799.8 L327.2,799.9 L328.8,799.9 L330.5,799.9 L332.1,799.9 L333.8,800 L335.5,800 L337.1,800 L338.8,800.1 L340.5,800.1 L342.3,800.1 L344,800.1 L345.7,800.2 L347.5,800.2 L349.2,800.2 L351,800.3 L352.8,800.3 L354.6,800.3 L356.4,800.3 L358.2,800.4 L360,800.4 L361.9,800.4 L363.7,800.4 L365.6,800.5 L367.4,800.5 L369.3,800.5 L371.2,800.6 L373.1,800.6 L375.1,800.6 L377,800.6 L378.9,800.7 L380.9,800.7 L382.9,800.7 L384.9,800.7 L386.9,800.8 L388.9,800.8 L390.9,800.8 L392.9,800.8 L395,800.9 L397,800.9 L399.1,800.9 L401.2,801 L403.3,801 L405.4,801 L407.6,801 L409.7,801.1 L411.9,801.1 L414,801.1 L416.2,801.1 L418.4,801.2 L420.6,801.2 L422.9,801.2 L425.1,801.2 L427.3,801.3 L429.6,801.3 L431.9,801.3 L434.2,801.3" fill="none" stroke="#ffc21a" stroke-width="2.4" stroke-linejoin="round" stroke-linecap="round" />
<path d="M72.3,540.7 L72.3,541.7 L72.3,542.7 L72.3,543.6 L72.3,544.6 L72.3,545.5 L72.3,546.5 L72.3,547.4 L72.3,548.4 L72.3,549.3 L72.3,550.2 L72.3,551.1 L72.3,552.1 L72.3,553 L72.3,553.9 L72.3,554.8 L72.3,555.7 L72.3,556.7 L72.3,557.6 L72.3,558.5 L72.3,559.4 L72.3,560.3 L72.3,561.1 L72.3,562 L72.3,562.9 L72.3,563.8 L72.3,564.7 L72.4,565.6 L72.4,566.4 L72.4,567.3 L72.4,568.2 L72.4,569 L72.4,569.9 L72.4,570.8 L72.4,571.6 L72.4,572.5 L72.4,573.3 L72.4,574.2 L72.4,575 L72.4,575.9 L72.4,576.7 L72.4,577.6 L72.4,578.4 L72.4,579.2 L72.4,580.1 L72.4,580.9 L72.4,581.7 L72.4,582.5 L72.4,583.4 L72.4,584.2 L72.4,585 L72.4,585.8 L72.4,586.6 L72.4,587.4 L72.4,588.2 L72.4,589 L72.4,589.8 L72.4,590.7 L72.4,591.5 L72.4,592.3 L72.4,593.2 L72.4,594.2 L72.4,595.2 L72.4,596.2 L72.4,597.2 L72.4,598.2 L72.4,599.2 L72.4,600.1 L72.5,601.1 L72.5,602.1 L72.5,603.1 L72.5,604 L72.5,605 L72.5,606 L72.5,606.9 L72.5,607.9 L72.5,608.9 L72.5,609.8 L72.5,610.8 L72.5,611.8 L72.5,612.7 L72.5,613.7 L72.5,614.6 L72.5,615.6 L72.6,616.5 L72.6,617.5 L72.6,618.5 L72.6,619.4 L72.6,620.4 L72.6,621.3 L72.6,622.3 L72.6,623.3 L72.6,624.2 L72.6,625.2 L72.7,626.1 L72.7,627.1 L72.7,628.1 L72.7,629 L72.7,630 L72.7,631 L72.7,632 L72.7,632.9 L72.8,633.9 L72.8,634.9 L72.8,635.7 L72.8,636.5 L72.8,637.3 L72.8,638.1 L72.8,638.9 L72.8,639.7 L72.9,640.5 L72.9,641.3 L72.9,642.1 L72.9,642.9 L72.9,643.7 L72.9,644.5 L73,645.3 L73,646.2 L73,647 L73,647.8 L73,648.7 L73,649.5 L73.1,650.3 L73.1,651.2 L73.1,652 L73.1,652.9 L73.1,653.7 L73.2,654.6 L73.2,655.5 L73.2,656.3 L73.2,657.2 L73.3,658.1 L73.3,659 L73.3,659.9 L73.3,660.8 L73.4,661.7 L73.4,662.6 L73.4,663.5 L73.4,664.4 L73.5,665.3 L73.5,666.2 L73.5,667.2 L73.6,668.1 L73.6,669 L73.6,670 L73.7,670.9 L73.7,671.9 L73.7,672.8 L73.8,673.8 L73.8,674.8 L73.9,675.8 L73.9,676.8 L73.9,677.8 L74,678.8 L74,679.8 L74.1,680.8 L74.1,681.8 L74.2,682.5 L74.2,683.3 L74.2,684.1 L74.3,684.9 L74.3,685.6 L74.3,686.4 L74.4,687.2 L74.4,688 L74.5,688.8 L74.5,689.6 L74.5,690.4 L74.6,691.2 L74.6,692 L74.7,692.8 L74.7,693.6 L74.8,694.4 L74.8,695.2 L74.9,696 L74.9,696.8 L75,697.7 L75,698.5 L75.1,699.3 L75.1,700.1 L75.2,701 L75.2,701.8 L75.3,702.6 L75.3,703.4 L75.4,704.3 L75.5,705.1 L75.5,706 L75.6,706.8 L75.6,707.6 L75.7,708.5 L75.8,709.3 L75.8,710.1 L75.9,711 L76,711.8 L76.1,712.7 L76.1,713.5 L76.2,714.4 L76.3,715.2 L76.4,716 L76.4,716.9 L76.5,717.7 L76.6,718.5 L76.7,719.4 L76.8,720.2 L76.8,721 L76.9,721.9 L77,722.7 L77.1,723.5 L77.2,724.3 L77.3,725.2 L77.4,726 L77.5,726.8 L77.6,727.6 L77.7,728.4 L77.8,729.2 L77.9,730 L78,730.8 L78.1,731.6 L78.2,732.3 L78.4,733.1 L78.5,733.9 L78.6,734.7 L78.7,735.4 L78.8,736.2 L79,736.9 L79.1,737.7 L79.2,738.4 L79.4,739.1 L79.5,739.8 L79.6,740.5 L79.8,741.3 L79.9,742 L80.1,742.6 L80.2,743.3 L80.4,744 L80.5,744.7 L80.7,745.3 L80.8,746 L81,746.6 L81.2,747.5 L81.5,748.3 L81.7,749.1 L81.9,749.9 L82.2,750.7 L82.4,751.4 L82.7,752.2 L83,752.9 L83.2,753.6 L83.5,754.3 L83.8,755 L84.1,755.6 L84.4,756.3 L84.7,756.9 L85.1,757.5 L85.4,758.1 L85.7,758.7 L86.1,759.3 L86.4,759.8 L86.8,760.4 L87.2,760.9 L87.5,761.4 L87.9,761.9 L88.3,762.4 L88.8,762.8 L89.2,763.3 L89.6,763.7 L90.1,764.2 L90.5,764.6 L91,765 L91.5,765.4 L92,765.8 L92.5,766.2 L93,766.6 L93.5,767 L94.1,767.3 L94.6,767.7 L95.2,768.1 L95.8,768.4 L96.4,768.7 L97,769.1 L97.7,769.4 L98.3,769.7 L99,770.1 L99.7,770.4 L100.4,770.7 L101.1,771 L101.9,771.3 L102.5,771.6 L103,771.8 L103.6,772 L104.2,772.2 L104.8,772.5 L105.5,772.7 L106.1,772.9 L106.8,773.1 L107.4,773.4 L108.1,773.6 L108.8,773.8 L109.5,774 L110.2,774.2 L111,774.4 L111.7,774.7 L112.5,774.9 L113.2,775.1 L114,775.3 L114.8,775.5 L115.7,775.7 L116.5,775.9 L117.3,776.1 L118.2,776.3 L119.1,776.6 L120,776.8 L120.9,777 L121.9,777.2 L122.8,777.4 L123.8,777.6 L124.8,777.8 L125.5,777.9 L126.1,778.1 L126.8,778.2 L127.5,778.3 L128.2,778.5 L129,778.6 L129.7,778.7 L130.4,778.9 L131.2,779 L131.9,779.1 L132.7,779.3 L133.5,779.4 L134.2,779.5 L135,779.7 L135.8,779.8 L136.7,779.9 L137.5,780.1 L138.3,780.2 L139.2,780.3 L140,780.5 L140.9,780.6 L141.8,780.7 L142.7,780.8 L143.6,781 L144.5,781.1 L145.4,781.2 L146.3,781.4 L147.3,781.5 L148.3,781.6 L149.2,781.7 L150.2,781.9 L151.2,782 L152.2,782.1 L153.3,782.3 L154.3,782.4 L155.3,782.5 L156.4,782.6 L157.5,782.8 L158.6,782.9 L159.7,783 L160.8,783.1 L161.9,783.3 L163.1,783.4 L164.3,783.5 L165.4,783.6 L166.6,783.8 L167.8,783.9 L169.1,784 L170.3,784.1 L171.6,784.2 L172.8,784.4 L174.1,784.5 L175.4,784.6 L176.8,784.7 L178.1,784.9 L179.5,785 L180.8,785.1 L182.2,785.2 L183.6,785.3 L185.1,785.5 L186.5,785.6 L188,785.7 L189.5,785.8 L190.2,785.9 L191,785.9 L191.7,786 L192.5,786 L193.3,786.1 L194,786.2 L194.8,786.2 L195.6,786.3 L196.4,786.3 L197.2,786.4 L198,786.5 L198.8,786.5 L199.6,786.6 L200.4,786.6 L201.2,786.7 L202,786.8 L202.9,786.8 L203.7,786.9 L204.5,786.9 L205.4,787 L206.2,787 L207.1,787.1 L207.9,787.2 L208.8,787.2 L209.7,787.3 L210.6,787.3 L211.5,787.4 L212.3,787.5 L213.2,787.5 L214.1,787.6 L215,787.6 L216,787.7 L216.9,787.7 L217.8,787.8 L218.7,787.9 L219.7,787.9 L220.6,788 L221.6,788 L222.5,788.1 L223.5,788.1 L224.4,788.2 L225.4,788.3 L226.4,788.3 L227.4,788.4 L228.4,788.4 L229.4,788.5 L230.4,788.5 L231.4,788.6 L232.4,788.7 L233.4,788.7 L234.4,788.8 L235.5,788.8 L236.5,788.9 L237.6,788.9 L238.6,789 L239.7,789 L240.8,789.1 L241.8,789.2 L242.9,789.2 L244,789.3 L245.1,789.3 L246.2,789.4 L247.3,789.4 L248.4,789.5 L249.6,789.6 L250.7,789.6 L251.8,789.7 L253,789.7 L254.2,789.8 L255.3,789.8 L256.5,789.9 L257.7,789.9 L258.8,790 L260,790 L261.2,790.1 L262.4,790.2 L263.7,790.2 L264.9,790.3 L266.1,790.3 L267.4,790.4 L268.6,790.4 L269.9,790.5 L271.1,790.5 L272.4,790.6 L273.7,790.7 L275,790.7 L276.3,790.8 L277.6,790.8 L278.9,790.9 L280.2,790.9 L281.5,791 L282.9,791 L284.2,791.1 L285.6,791.1 L286.9,791.2 L288.3,791.2 L289.7,791.3 L291.1,791.4 L292.5,791.4 L293.9,791.5 L295.3,791.5 L296.7,791.6 L298.1,791.6 L299.6,791.7 L301,791.7 L302.5,791.8 L304,791.8 L305.5,791.9 L306.9,791.9 L308.4,792 L310,792 L311.5,792.1 L313,792.2 L314.5,792.2 L316.1,792.3 L317.6,792.3 L319.2,792.4 L320.8,792.4 L322.4,792.5 L324,792.5 L325.6,792.6 L327.2,792.6 L328.8,792.7 L330.5,792.7 L332.1,792.8 L333.8,792.8 L335.5,792.9 L337.1,792.9 L338.8,793 L340.5,793 L342.3,793.1 L344,793.1 L345.7,793.2 L347.5,793.3 L349.2,793.3 L351,793.4 L352.8,793.4 L354.6,793.5 L356.4,793.5 L358.2,793.6 L360,793.6 L361.9,793.7 L363.7,793.7 L365.6,793.8 L367.4,793.8 L369.3,793.9 L371.2,793.9 L373.1,794 L375.1,794 L377,794.1 L378.9,794.1 L380.9,794.2 L382.9,794.2 L384.9,794.3 L386.9,794.3 L388.9,794.4 L390.9,794.4 L392.9,794.5 L395,794.5 L397,794.6 L399.1,794.6 L401.2,794.7 L403.3,794.7 L405.4,794.8 L407.6,794.8 L409.7,794.9 L411.9,794.9 L414,795 L416.2,795 L418.4,795.1 L420.6,795.1 L422.9,795.2 L425.1,795.2 L427.3,795.3 L429.6,795.3 L431.9,795.4 L434.2,795.4" fill="none" stroke="#95d055" stroke-width="2.4" stroke-linejoin="round" stroke-linecap="round" />
<path d="M73.3,462.8 L73.3,463.8 L73.3,465.8 L73.3,467.8 L73.4,469.8 L73.4,471.8 L73.4,473.8 L73.4,475.8 L73.4,477.8 L73.4,479.8 L73.4,481.7 L73.4,483.7 L73.4,485.7 L73.4,487.6 L73.4,489.6 L73.4,491.5 L73.4,493.5 L73.4,495.4 L73.5,497.3 L73.5,499.3 L73.5,501.2 L73.5,503.1 L73.5,505 L73.5,506.9 L73.5,508.8 L73.5,510.7 L73.5,512.6 L73.5,514.4 L73.5,516.3 L73.5,518.1 L73.5,520 L73.6,521.8 L73.6,523.7 L73.6,525.5 L73.6,527.3 L73.6,529.1 L73.6,530.9 L73.6,532.7 L73.6,534.5 L73.6,536.3 L73.6,538.1 L73.6,539.8 L73.6,541.6 L73.7,543.3 L73.7,545.1 L73.7,546.8 L73.7,548.5 L73.7,550.2 L73.7,551.9 L73.7,553.6 L73.7,555.3 L73.7,557 L73.7,558.7 L73.7,560.3 L73.8,562 L73.8,563.6 L73.8,565.3 L73.8,566.9 L73.8,568.5 L73.8,570.1 L73.8,571.7 L73.8,573.3 L73.8,574.9 L73.8,576.5 L73.8,578 L73.9,579.6 L73.9,581.1 L73.9,582.7 L73.9,584.2 L73.9,585.7 L73.9,587.2 L73.9,588.7 L73.9,590.2 L73.9,591.6 L73.9,593.1 L74,594.6 L74,596 L74,597.4 L74,598.9 L74,600.3 L74,601.7 L74,603.1 L74,604.5 L74,605.8 L74.1,607.2 L74.1,608.5 L74.1,609.9 L74.1,611.2 L74.1,612.5 L74.1,613.8 L74.1,615.1 L74.1,616.4 L74.2,617.7 L74.2,619 L74.2,620.2 L74.2,621.5 L74.2,622.7 L74.2,624 L74.2,625.2 L74.2,626.4 L74.2,627.6 L74.3,628.8 L74.3,629.9 L74.3,631.1 L74.3,632.3 L74.3,633.4 L74.3,634.5 L74.3,635.7 L74.3,636.8 L74.4,637.9 L74.4,639 L74.4,640.1 L74.4,641.1 L74.4,642.2 L74.4,643.2 L74.4,644.3 L74.5,645.3 L74.5,646.3 L74.5,647.3 L74.5,648.3 L74.5,649.3 L74.5,650.3 L74.5,651.3 L74.6,652.2 L74.6,653.2 L74.6,654.1 L74.6,655.1 L74.6,656 L74.6,656.9 L74.6,657.8 L74.7,658.7 L74.7,659.5 L74.7,660.4 L74.7,661.3 L74.7,662.1 L74.7,663 L74.7,663.8 L74.8,664.6 L74.8,665.4 L74.8,666.2 L74.8,667 L74.8,667.8 L74.9,669.4 L74.9,670.9 L74.9,672.3 L75,673.8 L75,675.2 L75,676.5 L75.1,677.9 L75.1,679.2 L75.1,680.4 L75.2,681.7 L75.2,682.9 L75.2,684 L75.3,685.2 L75.3,686.3 L75.4,687.4 L75.4,688.4 L75.4,689.4 L75.5,690.4 L75.5,691.4 L75.6,692.4 L75.6,693.3 L75.6,694.2 L75.7,695 L75.7,695.9 L75.8,696.7 L75.8,697.5 L75.9,698.3 L75.9,699.1 L76,700.2 L76.1,701.2 L76.1,702.2 L76.2,703.2 L76.3,704.2 L76.4,705.1 L76.4,705.9 L76.5,706.8 L76.6,707.6 L76.7,708.4 L76.8,709.1 L76.8,709.9 L76.9,710.6 L77.1,711.5 L77.2,712.4 L77.3,713.3 L77.4,714.1 L77.6,714.9 L77.7,715.7 L77.8,716.4 L78,717.2 L78.1,717.9 L78.3,718.6 L78.4,719.3 L78.6,720 L78.8,720.6 L78.9,721.3 L79.1,722 L79.3,722.6 L79.4,723.3 L79.6,723.9 L79.8,724.5 L80,725.1 L80.2,725.8 L80.4,726.4 L80.6,727 L80.8,727.6 L81.1,728.2 L81.3,728.8 L81.5,729.4 L81.8,730 L82,730.5 L82.2,731.1 L82.5,731.7 L82.8,732.3 L83,732.9 L83.3,733.4 L83.6,734 L83.9,734.6 L84.2,735.1 L84.5,735.7 L84.8,736.2 L85.1,736.8 L85.5,737.3 L85.8,737.9 L86.2,738.4 L86.5,739 L86.9,739.5 L87.3,740 L87.6,740.6 L88,741.1 L88.4,741.6 L88.9,742.1 L89.3,742.7 L89.7,743.2 L90.2,743.7 L90.6,744.2 L91.1,744.7 L91.6,745.2 L92.1,745.7 L92.6,746.2 L93.1,746.7 L93.7,747.2 L94.2,747.7 L94.8,748.2 L95.4,748.7 L95.8,749.1 L96.3,749.4 L96.7,749.8 L97.2,750.1 L97.7,750.5 L98.2,750.8 L98.7,751.2 L99.2,751.6 L99.7,751.9 L100.2,752.3 L100.8,752.6 L101.3,753 L101.9,753.3 L102.5,753.6 L103,754 L103.6,754.3 L104.2,754.7 L104.8,755 L105.5,755.3 L106.1,755.7 L106.8,756 L107.4,756.4 L108.1,756.7 L108.8,757 L109.5,757.3 L110.2,757.7 L111,758 L111.7,758.3 L112.5,758.7 L113.2,759 L114,759.3 L114.8,759.6 L115.7,759.9 L116.5,760.3 L117.3,760.6 L118.2,760.9 L119.1,761.2 L119.7,761.4 L120.3,761.6 L120.9,761.8 L121.6,762 L122.2,762.2 L122.8,762.4 L123.5,762.6 L124.1,762.9 L124.8,763.1 L125.5,763.3 L126.1,763.5 L126.8,763.7 L127.5,763.9 L128.2,764.1 L129,764.3 L129.7,764.5 L130.4,764.7 L131.2,764.9 L131.9,765.1 L132.7,765.3 L133.5,765.5 L134.2,765.7 L135,765.9 L135.8,766 L136.7,766.2 L137.5,766.4 L138.3,766.6 L139.2,766.8 L140,767 L140.9,767.2 L141.8,767.4 L142.7,767.6 L143.6,767.8 L144.5,768 L145.4,768.2 L146.3,768.4 L147.3,768.5 L148.3,768.7 L149.2,768.9 L150.2,769.1 L151.2,769.3 L152.2,769.5 L153.3,769.7 L154.3,769.9 L155.3,770 L156.4,770.2 L157.5,770.4 L158.6,770.6 L159.7,770.8 L160.8,771 L161.9,771.1 L163.1,771.3 L164.3,771.5 L165.4,771.7 L166.6,771.9 L167.8,772 L169.1,772.2 L170.3,772.4 L171.6,772.6 L172.8,772.8 L174.1,772.9 L175.4,773.1 L176.8,773.3 L178.1,773.5 L179.5,773.6 L180.8,773.8 L182.2,774 L183.6,774.2 L185.1,774.3 L185.8,774.4 L186.5,774.5 L187.2,774.6 L188,774.7 L188.7,774.8 L189.5,774.9 L190.2,774.9 L191,775 L191.7,775.1 L192.5,775.2 L193.3,775.3 L194,775.4 L194.8,775.5 L195.6,775.5 L196.4,775.6 L197.2,775.7 L198,775.8 L198.8,775.9 L199.6,776 L200.4,776 L201.2,776.1 L202,776.2 L202.9,776.3 L203.7,776.4 L204.5,776.5 L205.4,776.5 L206.2,776.6 L207.1,776.7 L207.9,776.8 L208.8,776.9 L209.7,777 L210.6,777 L211.5,777.1 L212.3,777.2 L213.2,777.3 L214.1,777.4 L215,777.5 L216,777.5 L216.9,777.6 L217.8,777.7 L218.7,777.8 L219.7,777.9 L220.6,777.9 L221.6,778 L222.5,778.1 L223.5,778.2 L224.4,778.3 L225.4,778.4 L226.4,778.4 L227.4,778.5 L228.4,778.6 L229.4,778.7 L230.4,778.8 L231.4,778.8 L232.4,778.9 L233.4,779 L234.4,779.1 L235.5,779.2 L236.5,779.2 L237.6,779.3 L238.6,779.4 L239.7,779.5 L240.8,779.6 L241.8,779.6 L242.9,779.7 L244,779.8 L245.1,779.9 L246.2,780 L247.3,780 L248.4,780.1 L249.6,780.2 L250.7,780.3 L251.8,780.3 L253,780.4 L254.2,780.5 L255.3,780.6 L256.5,780.7 L257.7,780.7 L258.8,780.8 L260,780.9 L261.2,781 L262.4,781.1 L263.7,781.1 L264.9,781.2 L266.1,781.3 L267.4,781.4 L268.6,781.4 L269.9,781.5 L271.1,781.6 L272.4,781.7 L273.7,781.7 L275,781.8 L276.3,781.9 L277.6,782 L278.9,782 L280.2,782.1 L281.5,782.2 L282.9,782.3 L284.2,782.4 L285.6,782.4 L286.9,782.5 L288.3,782.6 L289.7,782.7 L291.1,782.7 L292.5,782.8 L293.9,782.9 L295.3,783 L296.7,783 L298.1,783.1 L299.6,783.2 L301,783.3 L302.5,783.3 L304,783.4 L305.5,783.5 L306.9,783.5 L308.4,783.6 L310,783.7 L311.5,783.8 L313,783.8 L314.5,783.9 L316.1,784 L317.6,784.1 L319.2,784.1 L320.8,784.2 L322.4,784.3 L324,784.4 L325.6,784.4 L327.2,784.5 L328.8,784.6 L330.5,784.6 L332.1,784.7 L333.8,784.8 L335.5,784.9 L337.1,784.9 L338.8,785 L340.5,785.1 L342.3,785.2 L344,785.2 L345.7,785.3 L347.5,785.4 L349.2,785.4 L351,785.5 L352.8,785.6 L354.6,785.7 L356.4,785.7 L358.2,785.8 L360,785.9 L361.9,785.9 L363.7,786 L365.6,786.1 L367.4,786.1 L369.3,786.2 L371.2,786.3 L373.1,786.4 L375.1,786.4 L377,786.5 L378.9,786.6 L380.9,786.6 L382.9,786.7 L384.9,786.8 L386.9,786.8 L388.9,786.9 L390.9,787 L392.9,787.1 L395,787.1 L397,787.2 L399.1,787.3 L401.2,787.3 L403.3,787.4 L405.4,787.5 L407.6,787.5 L409.7,787.6 L411.9,787.7 L414,787.7 L416.2,787.8 L418.4,787.9 L420.6,787.9 L422.9,788 L425.1,788.1 L427.3,788.2 L429.6,788.2 L431.9,788.3 L434.2,788.4" fill="none" stroke="#14ad55" stroke-width="2.4" stroke-linejoin="round" stroke-linecap="round" />
<path d="M73.3,462.8 L73.3,463.6 L73.4,464.5 L73.4,465.3 L73.4,466.2 L73.4,467.1 L73.4,467.9 L73.4,468.8 L73.4,469.6 L73.4,470.5 L73.4,471.3 L73.4,472.2 L73.4,473 L73.4,473.9 L73.4,474.7 L73.4,475.5 L73.5,476.4 L73.5,477.2 L73.5,478 L73.5,478.9 L73.5,479.7 L73.5,480.5 L73.5,481.3 L73.5,482.2 L73.5,483 L73.5,483.8 L73.5,484.6 L73.5,485.4 L73.5,486.2 L73.6,487 L73.6,487.8 L73.6,488.6 L73.6,489.4 L73.6,490.2 L73.6,491 L73.6,491.8 L73.6,493.4 L73.6,495 L73.7,496.5 L73.7,498.1 L73.7,499.6 L73.7,501.2 L73.7,502.7 L73.7,504.2 L73.8,505.7 L73.8,507.2 L73.8,508.7 L73.8,510.2 L73.8,511.7 L73.9,513.1 L73.9,514.6 L73.9,516 L73.9,517.5 L73.9,518.9 L74,520.3 L74,521.7 L74,523.1 L74,524.5 L74,525.9 L74.1,527.3 L74.1,528.7 L74.1,530 L74.1,531.4 L74.2,532.7 L74.2,534.1 L74.2,535.4 L74.2,536.7 L74.3,538 L74.3,539.3 L74.3,540.6 L74.3,541.9 L74.4,543.2 L74.4,544.4 L74.4,545.7 L74.4,547 L74.5,548.2 L74.5,549.5 L74.5,550.7 L74.6,551.9 L74.6,553.1 L74.6,554.3 L74.6,555.5 L74.7,556.7 L74.7,557.9 L74.7,559.1 L74.8,560.2 L74.8,561.4 L74.8,562.5 L74.9,563.7 L74.9,564.8 L74.9,566 L75,567.1 L75,568.2 L75,569.3 L75.1,570.4 L75.1,571.5 L75.1,572.6 L75.2,573.6 L75.2,574.7 L75.2,575.8 L75.3,576.8 L75.3,577.8 L75.4,578.9 L75.4,579.9 L75.4,580.9 L75.5,581.9 L75.5,583 L75.6,584 L75.6,584.9 L75.6,585.9 L75.7,586.9 L75.7,587.9 L75.8,588.8 L75.8,589.8 L75.9,590.7 L75.9,591.7 L76,592.6 L76,593.5 L76.1,594.5 L76.1,595.4 L76.2,596.3 L76.2,597.2 L76.2,598.1 L76.3,598.9 L76.4,599.8 L76.4,600.7 L76.5,601.6 L76.5,602.4 L76.6,603.3 L76.6,604.1 L76.7,604.9 L76.7,605.8 L76.8,606.6 L76.8,607.4 L76.9,608.2 L77,609 L77,609.8 L77.1,610.6 L77.1,611.4 L77.2,612.2 L77.3,612.9 L77.3,613.7 L77.4,614.5 L77.5,615.2 L77.5,616 L77.6,616.7 L77.7,617.4 L77.8,618.5 L77.9,619.6 L78,620.7 L78.1,621.7 L78.2,622.8 L78.3,623.8 L78.4,624.8 L78.5,625.8 L78.7,626.8 L78.8,627.7 L78.9,628.7 L79,629.7 L79.2,630.6 L79.3,631.5 L79.4,632.4 L79.6,633.3 L79.7,634.2 L79.9,635.1 L80,636 L80.2,636.9 L80.3,637.7 L80.5,638.6 L80.6,639.4 L80.8,640.2 L80.9,641 L81.1,641.8 L81.3,642.6 L81.5,643.4 L81.6,644.2 L81.8,645 L82,645.8 L82.2,646.5 L82.4,647.3 L82.6,648 L82.8,648.8 L83,649.5 L83.2,650.2 L83.4,650.9 L83.6,651.7 L83.8,652.4 L84,653.1 L84.3,653.8 L84.5,654.5 L84.7,655.2 L85,655.9 L85.2,656.6 L85.5,657.2 L85.7,657.9 L86,658.6 L86.2,659.3 L86.5,659.9 L86.8,660.6 L87.1,661.3 L87.4,662 L87.6,662.6 L87.9,663.3 L88.2,663.9 L88.6,664.6 L88.9,665.3 L89.2,665.9 L89.5,666.6 L89.8,667.3 L90.2,667.9 L90.5,668.6 L90.9,669.2 L91.2,669.9 L91.6,670.6 L92,671.2 L92.4,671.9 L92.7,672.6 L93.1,673.2 L93.5,673.9 L93.9,674.6 L94.4,675.2 L94.8,675.9 L95.2,676.6 L95.7,677.3 L96.1,677.9 L96.6,678.6 L97,679.3 L97.5,680 L98,680.7 L98.5,681.3 L99,682 L99.4,682.5 L99.7,683 L100.1,683.4 L100.4,683.9 L100.8,684.3 L101.1,684.8 L101.5,685.3 L101.9,685.7 L102.3,686.2 L102.6,686.6 L103,687.1 L103.4,687.6 L103.8,688 L104.2,688.5 L104.6,689 L105.1,689.4 L105.5,689.9 L105.9,690.4 L106.3,690.8 L106.8,691.3 L107.2,691.8 L107.7,692.2 L108.1,692.7 L108.6,693.2 L109,693.6 L109.5,694.1 L110,694.6 L110.5,695 L111,695.5 L111.5,695.9 L112,696.4 L112.5,696.9 L113,697.3 L113.5,697.8 L114,698.3 L114.6,698.7 L115.1,699.2 L115.7,699.6 L116.2,700.1 L116.8,700.6 L117.3,701 L117.9,701.5 L118.5,701.9 L119.1,702.4 L119.7,702.8 L120.3,703.3 L120.9,703.7 L121.6,704.2 L122.2,704.6 L122.8,705.1 L123.5,705.5 L124.1,706 L124.8,706.4 L125.5,706.9 L126.1,707.3 L126.8,707.7 L127.5,708.2 L128.2,708.6 L129,709 L129.7,709.5 L130.4,709.9 L131.2,710.3 L131.9,710.8 L132.7,711.2 L133.5,711.6 L134.2,712 L135,712.5 L135.8,712.9 L136.7,713.3 L137.5,713.7 L138.3,714.1 L139.2,714.6 L140,715 L140.9,715.4 L141.8,715.8 L142.7,716.2 L143.6,716.6 L144.5,717 L145.4,717.4 L146.3,717.8 L147.3,718.2 L148.3,718.6 L149.2,719 L150.2,719.4 L151.2,719.8 L152.2,720.2 L153.3,720.6 L154.3,721 L155.3,721.4 L156.4,721.7 L157.5,722.1 L158.6,722.5 L159.7,722.9 L160.8,723.3 L161.9,723.6 L163.1,724 L164.3,724.4 L165.4,724.8 L166.6,725.1 L167.8,725.5 L169.1,725.9 L169.7,726 L170.3,726.2 L170.9,726.4 L171.6,726.6 L172.2,726.8 L172.8,727 L173.5,727.1 L174.1,727.3 L174.8,727.5 L175.4,727.7 L176.1,727.8 L176.8,728 L177.4,728.2 L178.1,728.4 L178.8,728.6 L179.5,728.7 L180.1,728.9 L180.8,729.1 L181.5,729.3 L182.2,729.4 L182.9,729.6 L183.6,729.8 L184.3,730 L185.1,730.1 L185.8,730.3 L186.5,730.5 L187.2,730.6 L188,730.8 L188.7,731 L189.5,731.2 L190.2,731.3 L191,731.5 L191.7,731.7 L192.5,731.8 L193.3,732 L194,732.2 L194.8,732.3 L195.6,732.5 L196.4,732.7 L197.2,732.8 L198,733 L198.8,733.2 L199.6,733.3 L200.4,733.5 L201.2,733.7 L202,733.8 L202.9,734 L203.7,734.2 L204.5,734.3 L205.4,734.5 L206.2,734.7 L207.1,734.8 L207.9,735 L208.8,735.1 L209.7,735.3 L210.6,735.5 L211.5,735.6 L212.3,735.8 L213.2,735.9 L214.1,736.1 L215,736.3 L216,736.4 L216.9,736.6 L217.8,736.7 L218.7,736.9 L219.7,737.1 L220.6,737.2 L221.6,737.4 L222.5,737.5 L223.5,737.7 L224.4,737.8 L225.4,738 L226.4,738.1 L227.4,738.3 L228.4,738.5 L229.4,738.6 L230.4,738.8 L231.4,738.9 L232.4,739.1 L233.4,739.2 L234.4,739.4 L235.5,739.5 L236.5,739.7 L237.6,739.8 L238.6,740 L239.7,740.1 L240.8,740.3 L241.8,740.4 L242.9,740.6 L244,740.7 L245.1,740.9 L246.2,741 L247.3,741.2 L248.4,741.3 L249.6,741.5 L250.7,741.6 L251.8,741.8 L253,741.9 L254.2,742.1 L255.3,742.2 L256.5,742.3 L257.7,742.5 L258.8,742.6 L260,742.8 L261.2,742.9 L262.4,743.1 L263.7,743.2 L264.9,743.4 L266.1,743.5 L267.4,743.6 L268.6,743.8 L269.9,743.9 L271.1,744.1 L272.4,744.2 L273.7,744.3 L275,744.5 L276.3,744.6 L277.6,744.8 L278.9,744.9 L280.2,745 L281.5,745.2 L282.9,745.3 L284.2,745.5 L285.6,745.6 L286.9,745.7 L288.3,745.9 L289.7,746 L291.1,746.2 L292.5,746.3 L293.9,746.4 L295.3,746.6 L296.7,746.7 L298.1,746.8 L299.6,747 L301,747.1 L302.5,747.2 L304,747.4 L305.5,747.5 L306.9,747.6 L308.4,747.8 L310,747.9 L311.5,748 L313,748.2 L314.5,748.3 L316.1,748.4 L317.6,748.6 L319.2,748.7 L320.8,748.8 L322.4,749 L324,749.1 L325.6,749.2 L327.2,749.3 L328.8,749.5 L330.5,749.6 L332.1,749.7 L333.8,749.9 L335.5,750 L337.1,750.1 L338.8,750.2 L340.5,750.4 L342.3,750.5 L344,750.6 L345.7,750.7 L347.5,750.9 L349.2,751 L351,751.1 L352.8,751.2 L354.6,751.4 L356.4,751.5 L358.2,751.6 L360,751.7 L361.9,751.9 L363.7,752 L365.6,752.1 L367.4,752.2 L369.3,752.4 L371.2,752.5 L373.1,752.6 L375.1,752.7 L377,752.8 L378.9,753 L380.9,753.1 L382.9,753.2 L384.9,753.3 L386.9,753.5 L388.9,753.6 L390.9,753.7 L392.9,753.8 L395,753.9 L397,754 L399.1,754.2 L401.2,754.3 L403.3,754.4 L405.4,754.5 L407.6,754.6 L409.7,754.8 L411.9,754.9 L414,755 L416.2,755.1 L418.4,755.2 L420.6,755.3 L422.9,755.5 L425.1,755.6 L427.3,755.7 L429.6,755.8 L431.9,755.9 L434.2,756" fill="none" stroke="#7a3db0" stroke-width="2.4" stroke-linejoin="round" stroke-linecap="round" />
<path d="M74.4,462.8 L74.5,467.2 L74.5,475.9 L74.5,484.1 L74.5,491.8 L74.5,499.2 L74.5,506.1 L74.5,512.7 L74.6,518.8 L74.6,524.7 L74.6,530.2 L74.6,535.4 L74.6,540.3 L74.6,544.9 L74.6,549.3 L74.7,553.4 L74.7,557.3 L74.7,560.9 L74.7,564.4 L74.7,567.6 L74.7,570.7 L74.7,573.6 L74.8,576.3 L74.8,578.8 L74.8,581.3 L74.8,583.5 L74.8,585.7 L74.8,587.7 L74.9,589.6 L74.9,591.4 L74.9,593.1 L74.9,594.7 L74.9,596.2 L74.9,597.7 L75,599 L75,600.3 L75,601.5 L75,602.6 L75,603.7 L75,604.7 L75.1,605.7 L75.1,606.6 L75.1,607.5 L75.1,608.3 L75.1,609.1 L75.2,610.6 L75.2,611.9 L75.2,613.2 L75.3,614.3 L75.3,615.4 L75.4,616.3 L75.4,617.2 L75.4,618.1 L75.5,618.9 L75.5,619.7 L75.6,620.8 L75.6,621.8 L75.7,622.8 L75.8,623.8 L75.8,624.7 L75.9,625.6 L76,626.5 L76.1,627.4 L76.1,628.3 L76.2,629.1 L76.3,630 L76.4,630.8 L76.4,631.7 L76.5,632.5 L76.6,633.3 L76.7,634.1 L76.8,635 L76.8,635.8 L76.9,636.6 L77,637.4 L77.1,638.2 L77.2,639 L77.3,639.8 L77.4,640.6 L77.5,641.4 L77.6,642.2 L77.7,643 L77.8,643.8 L77.9,644.6 L78,645.4 L78.1,646.1 L78.2,646.9 L78.4,647.7 L78.5,648.5 L78.6,649.2 L78.7,650 L78.8,650.8 L79,651.5 L79.1,652.3 L79.2,653 L79.4,653.8 L79.5,654.5 L79.6,655.3 L79.8,656 L79.9,656.8 L80.1,657.5 L80.2,658.3 L80.4,659 L80.5,659.7 L80.7,660.5 L80.8,661.2 L81,661.9 L81.2,662.6 L81.3,663.3 L81.5,664.1 L81.7,664.8 L81.9,665.5 L82.1,666.2 L82.2,666.9 L82.4,667.6 L82.6,668.3 L82.8,669 L83,669.7 L83.2,670.4 L83.5,671.1 L83.7,671.8 L83.9,672.5 L84.1,673.2 L84.3,673.9 L84.6,674.5 L84.8,675.2 L85.1,675.9 L85.3,676.6 L85.6,677.2 L85.8,677.9 L86.1,678.6 L86.3,679.2 L86.6,679.9 L86.9,680.6 L87.2,681.2 L87.5,681.9 L87.7,682.5 L88,683.2 L88.3,683.8 L88.7,684.5 L89,685.1 L89.3,685.8 L89.6,686.4 L90,687 L90.3,687.7 L90.6,688.3 L91,688.9 L91.4,689.6 L91.7,690.2 L92.1,690.8 L92.5,691.4 L92.9,692 L93.3,692.7 L93.7,693.3 L94.1,693.9 L94.5,694.5 L94.9,695.1 L95.4,695.7 L95.8,696.3 L96.3,696.9 L96.7,697.5 L97.2,698.1 L97.7,698.7 L98.2,699.3 L98.7,699.9 L99.2,700.5 L99.7,701.1 L100.2,701.7 L100.8,702.3 L101.3,702.8 L101.9,703.4 L102.5,704 L103,704.6 L103.6,705.1 L104.2,705.7 L104.8,706.3 L105.5,706.9 L105.9,707.2 L106.3,707.6 L106.8,708 L107.2,708.4 L107.7,708.7 L108.1,709.1 L108.6,709.5 L109,709.8 L109.5,710.2 L110,710.6 L110.5,711 L111,711.3 L111.5,711.7 L112,712.1 L112.5,712.4 L113,712.8 L113.5,713.2 L114,713.5 L114.6,713.9 L115.1,714.2 L115.7,714.6 L116.2,715 L116.8,715.3 L117.3,715.7 L117.9,716 L118.5,716.4 L119.1,716.7 L119.7,717.1 L120.3,717.4 L120.9,717.8 L121.6,718.2 L122.2,718.5 L122.8,718.9 L123.5,719.2 L124.1,719.6 L124.8,719.9 L125.5,720.2 L126.1,720.6 L126.8,720.9 L127.5,721.3 L128.2,721.6 L129,722 L129.7,722.3 L130.4,722.7 L131.2,723 L131.9,723.3 L132.7,723.7 L133.5,724 L134.2,724.4 L135,724.7 L135.8,725 L136.7,725.4 L137.5,725.7 L138.3,726 L139.2,726.4 L140,726.7 L140.9,727 L141.8,727.4 L142.7,727.7 L143.6,728 L144.5,728.3 L145.4,728.7 L146.3,729 L147.3,729.3 L148.3,729.6 L149.2,730 L150.2,730.3 L151.2,730.6 L152.2,730.9 L153.3,731.3 L154.3,731.6 L155.3,731.9 L156.4,732.2 L157.5,732.5 L158.6,732.9 L159.7,733.2 L160.8,733.5 L161.9,733.8 L163.1,734.1 L164.3,734.4 L165.4,734.7 L166.6,735.1 L167.8,735.4 L169.1,735.7 L170.3,736 L171.6,736.3 L172.8,736.6 L174.1,736.9 L174.8,737.1 L175.4,737.2 L176.1,737.4 L176.8,737.5 L177.4,737.7 L178.1,737.8 L178.8,738 L179.5,738.1 L180.1,738.3 L180.8,738.4 L181.5,738.6 L182.2,738.8 L182.9,738.9 L183.6,739.1 L184.3,739.2 L185.1,739.4 L185.8,739.5 L186.5,739.7 L187.2,739.8 L188,740 L188.7,740.1 L189.5,740.3 L190.2,740.4 L191,740.6 L191.7,740.7 L192.5,740.9 L193.3,741 L194,741.2 L194.8,741.3 L195.6,741.5 L196.4,741.6 L197.2,741.8 L198,741.9 L198.8,742.1 L199.6,742.2 L200.4,742.3 L201.2,742.5 L202,742.6 L202.9,742.8 L203.7,742.9 L204.5,743.1 L205.4,743.2 L206.2,743.4 L207.1,743.5 L207.9,743.7 L208.8,743.8 L209.7,744 L210.6,744.1 L211.5,744.3 L212.3,744.4 L213.2,744.5 L214.1,744.7 L215,744.8 L216,745 L216.9,745.1 L217.8,745.3 L218.7,745.4 L219.7,745.6 L220.6,745.7 L221.6,745.8 L222.5,746 L223.5,746.1 L224.4,746.3 L225.4,746.4 L226.4,746.6 L227.4,746.7 L228.4,746.8 L229.4,747 L230.4,747.1 L231.4,747.3 L232.4,747.4 L233.4,747.6 L234.4,747.7 L235.5,747.8 L236.5,748 L237.6,748.1 L238.6,748.3 L239.7,748.4 L240.8,748.5 L241.8,748.7 L242.9,748.8 L244,749 L245.1,749.1 L246.2,749.2 L247.3,749.4 L248.4,749.5 L249.6,749.7 L250.7,749.8 L251.8,749.9 L253,750.1 L254.2,750.2 L255.3,750.3 L256.5,750.5 L257.7,750.6 L258.8,750.8 L260,750.9 L261.2,751 L262.4,751.2 L263.7,751.3 L264.9,751.5 L266.1,751.6 L267.4,751.7 L268.6,751.9 L269.9,752 L271.1,752.1 L272.4,752.3 L273.7,752.4 L275,752.5 L276.3,752.7 L277.6,752.8 L278.9,752.9 L280.2,753.1 L281.5,753.2 L282.9,753.4 L284.2,753.5 L285.6,753.6 L286.9,753.8 L288.3,753.9 L289.7,754 L291.1,754.2 L292.5,754.3 L293.9,754.4 L295.3,754.6 L296.7,754.7 L298.1,754.8 L299.6,755 L301,755.1 L302.5,755.2 L304,755.4 L305.5,755.5 L306.9,755.6 L308.4,755.8 L310,755.9 L311.5,756 L313,756.2 L314.5,756.3 L316.1,756.4 L317.6,756.5 L319.2,756.7 L320.8,756.8 L322.4,756.9 L324,757.1 L325.6,757.2 L327.2,757.3 L328.8,757.5 L330.5,757.6 L332.1,757.7 L333.8,757.8 L335.5,758 L337.1,758.1 L338.8,758.2 L340.5,758.4 L342.3,758.5 L344,758.6 L345.7,758.8 L347.5,758.9 L349.2,759 L351,759.1 L352.8,759.3 L354.6,759.4 L356.4,759.5 L358.2,759.6 L360,759.8 L361.9,759.9 L363.7,760 L365.6,760.2 L367.4,760.3 L369.3,760.4 L371.2,760.5 L373.1,760.7 L375.1,760.8 L377,760.9 L378.9,761 L380.9,761.2 L382.9,761.3 L384.9,761.4 L386.9,761.5 L388.9,761.7 L390.9,761.8 L392.9,761.9 L395,762 L397,762.2 L399.1,762.3 L401.2,762.4 L403.3,762.5 L405.4,762.7 L407.6,762.8 L409.7,762.9 L411.9,763 L414,763.2 L416.2,763.3 L418.4,763.4 L420.6,763.5 L422.9,763.7 L425.1,763.8 L427.3,763.9 L429.6,764 L431.9,764.1 L434.2,764.3" fill="none" stroke="#1c2a66" stroke-width="2.4" stroke-linejoin="round" stroke-linecap="round" />
<path d="M73.7,462.8 L73.7,467.1 L73.7,475.5 L73.7,483.6 L73.7,491.3 L73.7,498.8 L73.7,506 L73.7,513 L73.7,519.7 L73.7,526.1 L73.8,532.3 L73.8,538.3 L73.8,544 L73.8,549.6 L73.8,554.9 L73.8,560 L73.8,564.9 L73.8,569.6 L73.8,574.1 L73.8,578.5 L73.8,582.6 L73.9,586.6 L73.9,590.5 L73.9,594.2 L73.9,597.7 L73.9,601.1 L73.9,604.4 L73.9,607.5 L73.9,610.5 L73.9,613.4 L73.9,616.1 L74,618.8 L74,621.3 L74,623.7 L74,626 L74,628.3 L74,630.4 L74,632.4 L74,634.4 L74,636.2 L74.1,638 L74.1,639.7 L74.1,641.4 L74.1,642.9 L74.1,644.4 L74.1,645.9 L74.1,647.2 L74.1,648.6 L74.2,649.8 L74.2,651 L74.2,652.2 L74.2,653.3 L74.2,654.3 L74.2,655.3 L74.2,656.3 L74.2,657.2 L74.2,658.1 L74.3,659 L74.3,659.8 L74.3,661.3 L74.3,662.7 L74.3,664 L74.4,665.2 L74.4,666.3 L74.4,667.3 L74.5,668.3 L74.5,669.2 L74.5,670 L74.5,670.8 L74.6,671.9 L74.6,672.9 L74.7,673.8 L74.7,674.6 L74.8,675.4 L74.8,676.2 L74.9,677.2 L74.9,678.1 L75,678.9 L75.1,679.8 L75.2,680.6 L75.2,681.4 L75.3,682.2 L75.4,683 L75.5,683.7 L75.5,684.5 L75.6,685.2 L75.7,686 L75.8,686.7 L75.9,687.5 L76,688.2 L76.1,688.9 L76.2,689.7 L76.3,690.4 L76.4,691.1 L76.5,691.8 L76.6,692.6 L76.7,693.3 L76.8,694 L76.9,694.7 L77.1,695.4 L77.2,696.1 L77.3,696.8 L77.4,697.5 L77.6,698.2 L77.7,698.9 L77.8,699.6 L78,700.2 L78.1,700.9 L78.3,701.6 L78.4,702.3 L78.6,703 L78.8,703.6 L78.9,704.3 L79.1,704.9 L79.3,705.6 L79.4,706.3 L79.6,706.9 L79.8,707.6 L80,708.2 L80.2,708.9 L80.4,709.5 L80.6,710.2 L80.8,710.8 L81.1,711.4 L81.3,712.1 L81.5,712.7 L81.8,713.3 L82,713.9 L82.2,714.6 L82.5,715.2 L82.8,715.8 L83,716.4 L83.3,717 L83.6,717.6 L83.9,718.2 L84.2,718.8 L84.5,719.4 L84.8,720 L85.1,720.6 L85.5,721.2 L85.8,721.8 L86.2,722.4 L86.5,723 L86.9,723.6 L87.3,724.1 L87.6,724.7 L88,725.3 L88.4,725.9 L88.9,726.4 L89.3,727 L89.7,727.6 L90.2,728.1 L90.6,728.7 L91.1,729.3 L91.6,729.8 L92.1,730.4 L92.6,730.9 L93,731.3 L93.4,731.7 L93.8,732.1 L94.2,732.6 L94.6,733 L95.1,733.4 L95.5,733.8 L96,734.2 L96.4,734.6 L96.9,735 L97.4,735.4 L97.8,735.8 L98.3,736.2 L98.8,736.6 L99.4,736.9 L99.9,737.3 L100.4,737.7 L101,738.1 L101.5,738.5 L102.1,738.9 L102.6,739.3 L103.2,739.7 L103.8,740 L104.4,740.4 L105.1,740.8 L105.7,741.2 L106.3,741.6 L107,741.9 L107.7,742.3 L108.3,742.7 L109,743.1 L109.7,743.4 L110.5,743.8 L111.2,744.2 L112,744.5 L112.7,744.9 L113.5,745.3 L114.3,745.6 L115.1,746 L115.9,746.4 L116.5,746.6 L117.1,746.8 L117.6,747.1 L118.2,747.3 L118.8,747.6 L119.4,747.8 L120,748 L120.6,748.3 L121.2,748.5 L121.9,748.8 L122.5,749 L123.1,749.2 L123.8,749.5 L124.5,749.7 L125.1,749.9 L125.8,750.2 L126.5,750.4 L127.2,750.6 L127.9,750.9 L128.6,751.1 L129.3,751.3 L130.1,751.5 L130.8,751.8 L131.5,752 L132.3,752.2 L133.1,752.5 L133.9,752.7 L134.6,752.9 L135.4,753.1 L136.3,753.4 L137.1,753.6 L137.9,753.8 L138.7,754 L139.6,754.3 L140.5,754.5 L141.3,754.7 L142.2,754.9 L143.1,755.2 L144,755.4 L144.9,755.6 L145.9,755.8 L146.8,756.1 L147.8,756.3 L148.7,756.5 L149.7,756.7 L150.7,756.9 L151.7,757.1 L152.7,757.4 L153.8,757.6 L154.8,757.8 L155.9,758 L157,758.2 L158,758.4 L159.1,758.7 L160.3,758.9 L161.4,759.1 L162.5,759.3 L163.7,759.5 L164.9,759.7 L166,759.9 L167.2,760.1 L168.5,760.4 L169.7,760.6 L170.9,760.8 L172.2,761 L173.5,761.2 L174.8,761.4 L176.1,761.6 L177.4,761.8 L178.8,762 L180.1,762.2 L181.5,762.4 L182.2,762.6 L182.9,762.7 L183.6,762.8 L184.3,762.9 L185.1,763 L185.8,763.1 L186.5,763.2 L187.2,763.3 L188,763.4 L188.7,763.5 L189.5,763.6 L190.2,763.7 L191,763.8 L191.7,763.9 L192.5,764 L193.3,764.1 L194,764.2 L194.8,764.3 L195.6,764.4 L196.4,764.5 L197.2,764.6 L198,764.7 L198.8,764.8 L199.6,764.9 L200.4,765 L201.2,765.1 L202,765.2 L202.9,765.3 L203.7,765.4 L204.5,765.5 L205.4,765.6 L206.2,765.7 L207.1,765.8 L207.9,765.9 L208.8,766 L209.7,766.1 L210.6,766.2 L211.5,766.3 L212.3,766.4 L213.2,766.5 L214.1,766.6 L215,766.7 L216,766.8 L216.9,766.9 L217.8,767 L218.7,767.1 L219.7,767.2 L220.6,767.3 L221.6,767.4 L222.5,767.5 L223.5,767.6 L224.4,767.7 L225.4,767.8 L226.4,767.9 L227.4,768 L228.4,768.1 L229.4,768.2 L230.4,768.2 L231.4,768.3 L232.4,768.4 L233.4,768.5 L234.4,768.6 L235.5,768.7 L236.5,768.8 L237.6,768.9 L238.6,769 L239.7,769.1 L240.8,769.2 L241.8,769.3 L242.9,769.4 L244,769.5 L245.1,769.6 L246.2,769.7 L247.3,769.8 L248.4,769.9 L249.6,770 L250.7,770.1 L251.8,770.2 L253,770.3 L254.2,770.4 L255.3,770.4 L256.5,770.5 L257.7,770.6 L258.8,770.7 L260,770.8 L261.2,770.9 L262.4,771 L263.7,771.1 L264.9,771.2 L266.1,771.3 L267.4,771.4 L268.6,771.5 L269.9,771.6 L271.1,771.7 L272.4,771.8 L273.7,771.9 L275,771.9 L276.3,772 L277.6,772.1 L278.9,772.2 L280.2,772.3 L281.5,772.4 L282.9,772.5 L284.2,772.6 L285.6,772.7 L286.9,772.8 L288.3,772.9 L289.7,773 L291.1,773.1 L292.5,773.1 L293.9,773.2 L295.3,773.3 L296.7,773.4 L298.1,773.5 L299.6,773.6 L301,773.7 L302.5,773.8 L304,773.9 L305.5,774 L306.9,774.1 L308.4,774.1 L310,774.2 L311.5,774.3 L313,774.4 L314.5,774.5 L316.1,774.6 L317.6,774.7 L319.2,774.8 L320.8,774.9 L322.4,775 L324,775 L325.6,775.1 L327.2,775.2 L328.8,775.3 L330.5,775.4 L332.1,775.5 L333.8,775.6 L335.5,775.7 L337.1,775.8 L338.8,775.9 L340.5,775.9 L342.3,776 L344,776.1 L345.7,776.2 L347.5,776.3 L349.2,776.4 L351,776.5 L352.8,776.6 L354.6,776.6 L356.4,776.7 L358.2,776.8 L360,776.9 L361.9,777 L363.7,777.1 L365.6,777.2 L367.4,777.3 L369.3,777.3 L371.2,777.4 L373.1,777.5 L375.1,777.6 L377,777.7 L378.9,777.8 L380.9,777.9 L382.9,778 L384.9,778 L386.9,778.1 L388.9,778.2 L390.9,778.3 L392.9,778.4 L395,778.5 L397,778.6 L399.1,778.6 L401.2,778.7 L403.3,778.8 L405.4,778.9 L407.6,779 L409.7,779.1 L411.9,779.2 L414,779.2 L416.2,779.3 L418.4,779.4 L420.6,779.5 L422.9,779.6 L425.1,779.7 L427.3,779.7 L429.6,779.8 L431.9,779.9 L434.2,780" fill="none" stroke="#1cb4f0" stroke-width="2.4" stroke-linejoin="round" stroke-linecap="round" />
<path d="M74.1,462.8 L74.1,470.2 L74.1,479.1 L74.1,487.6 L74.1,495.7 L74.1,503.5 L74.1,510.8 L74.1,517.7 L74.2,524.4 L74.2,530.6 L74.2,536.6 L74.2,542.3 L74.2,547.6 L74.2,552.7 L74.2,557.6 L74.2,562.2 L74.2,566.5 L74.3,570.6 L74.3,574.5 L74.3,578.2 L74.3,581.7 L74.3,585.1 L74.3,588.2 L74.3,591.2 L74.3,594 L74.4,596.7 L74.4,599.2 L74.4,601.6 L74.4,603.9 L74.4,606 L74.4,608.1 L74.4,610 L74.5,611.8 L74.5,613.5 L74.5,615.2 L74.5,616.7 L74.5,618.2 L74.5,619.6 L74.5,620.9 L74.6,622.1 L74.6,623.3 L74.6,624.4 L74.6,625.5 L74.6,626.5 L74.6,627.5 L74.6,628.4 L74.7,629.2 L74.7,630.1 L74.7,630.9 L74.7,632.3 L74.7,633.7 L74.8,634.9 L74.8,636 L74.8,637 L74.9,638 L74.9,638.9 L74.9,639.7 L75,640.5 L75,641.5 L75.1,642.5 L75.1,643.5 L75.2,644.4 L75.2,645.2 L75.3,646.1 L75.4,646.8 L75.4,647.6 L75.5,648.4 L75.5,649.1 L75.6,650.1 L75.7,651.1 L75.8,652 L75.9,653 L76,653.9 L76.1,654.8 L76.2,655.8 L76.3,656.7 L76.4,657.6 L76.5,658.5 L76.6,659.4 L76.7,660.3 L76.8,661.2 L76.9,662.1 L77.1,663 L77.2,663.9 L77.3,664.8 L77.4,665.7 L77.6,666.5 L77.7,667.4 L77.8,668.3 L78,669.2 L78.1,670 L78.3,670.9 L78.4,671.7 L78.6,672.6 L78.8,673.4 L78.9,674.3 L79.1,675.1 L79.3,676 L79.4,676.8 L79.6,677.6 L79.8,678.5 L80,679.3 L80.2,680.1 L80.4,680.9 L80.6,681.8 L80.8,682.6 L81.1,683.4 L81.3,684.2 L81.5,685 L81.8,685.8 L82,686.6 L82.2,687.4 L82.5,688.2 L82.8,688.9 L83,689.7 L83.3,690.5 L83.6,691.3 L83.9,692.1 L84.1,692.6 L84.3,693.2 L84.6,693.8 L84.8,694.4 L85.1,694.9 L85.3,695.5 L85.6,696.1 L85.8,696.6 L86.1,697.2 L86.3,697.8 L86.6,698.3 L86.9,698.9 L87.2,699.4 L87.5,700 L87.7,700.5 L88,701.1 L88.3,701.6 L88.7,702.2 L89,702.7 L89.3,703.3 L89.6,703.8 L90,704.4 L90.3,704.9 L90.6,705.4 L91,706 L91.4,706.5 L91.7,707 L92.1,707.6 L92.5,708.1 L92.9,708.6 L93.3,709.2 L93.7,709.7 L94.1,710.2 L94.5,710.7 L94.9,711.2 L95.4,711.8 L95.8,712.3 L96.3,712.8 L96.7,713.3 L97.2,713.8 L97.7,714.3 L98.2,714.8 L98.7,715.3 L99.2,715.8 L99.7,716.4 L100.2,716.9 L100.8,717.4 L101.3,717.9 L101.9,718.4 L102.5,718.8 L103,719.3 L103.6,719.8 L104.2,720.3 L104.8,720.8 L105.5,721.3 L106.1,721.8 L106.8,722.3 L107.4,722.8 L108.1,723.2 L108.8,723.7 L109.5,724.2 L110.2,724.7 L110.7,725 L111.2,725.3 L111.7,725.6 L112.2,725.9 L112.7,726.3 L113.2,726.6 L113.8,726.9 L114.3,727.2 L114.8,727.5 L115.4,727.8 L115.9,728.1 L116.5,728.5 L117.1,728.8 L117.6,729.1 L118.2,729.4 L118.8,729.7 L119.4,730 L120,730.3 L120.6,730.6 L121.2,730.9 L121.9,731.2 L122.5,731.5 L123.1,731.8 L123.8,732.1 L124.5,732.4 L125.1,732.7 L125.8,733 L126.5,733.3 L127.2,733.6 L127.9,733.9 L128.6,734.2 L129.3,734.5 L130.1,734.8 L130.8,735.1 L131.5,735.4 L132.3,735.7 L133.1,736 L133.9,736.3 L134.6,736.6 L135.4,736.9 L136.3,737.2 L137.1,737.5 L137.9,737.8 L138.7,738.1 L139.6,738.3 L140.5,738.6 L141.3,738.9 L142.2,739.2 L143.1,739.5 L144,739.8 L144.9,740.1 L145.9,740.4 L146.8,740.6 L147.8,740.9 L148.7,741.2 L149.7,741.5 L150.7,741.8 L151.7,742.1 L152.7,742.3 L153.8,742.6 L154.8,742.9 L155.9,743.2 L157,743.5 L158,743.7 L159.1,744 L160.3,744.3 L161.4,744.6 L162.5,744.9 L163.7,745.1 L164.9,745.4 L166,745.7 L167.2,746 L168.5,746.2 L169.7,746.5 L170.9,746.8 L172.2,747 L173.5,747.3 L174.8,747.6 L176.1,747.9 L177.4,748.1 L178.1,748.3 L178.8,748.4 L179.5,748.5 L180.1,748.7 L180.8,748.8 L181.5,748.9 L182.2,749.1 L182.9,749.2 L183.6,749.3 L184.3,749.5 L185.1,749.6 L185.8,749.7 L186.5,749.9 L187.2,750 L188,750.1 L188.7,750.3 L189.5,750.4 L190.2,750.5 L191,750.7 L191.7,750.8 L192.5,750.9 L193.3,751.1 L194,751.2 L194.8,751.3 L195.6,751.5 L196.4,751.6 L197.2,751.7 L198,751.9 L198.8,752 L199.6,752.1 L200.4,752.2 L201.2,752.4 L202,752.5 L202.9,752.6 L203.7,752.8 L204.5,752.9 L205.4,753 L206.2,753.2 L207.1,753.3 L207.9,753.4 L208.8,753.5 L209.7,753.7 L210.6,753.8 L211.5,753.9 L212.3,754.1 L213.2,754.2 L214.1,754.3 L215,754.4 L216,754.6 L216.9,754.7 L217.8,754.8 L218.7,755 L219.7,755.1 L220.6,755.2 L221.6,755.3 L222.5,755.5 L223.5,755.6 L224.4,755.7 L225.4,755.8 L226.4,756 L227.4,756.1 L228.4,756.2 L229.4,756.4 L230.4,756.5 L231.4,756.6 L232.4,756.7 L233.4,756.9 L234.4,757 L235.5,757.1 L236.5,757.2 L237.6,757.4 L238.6,757.5 L239.7,757.6 L240.8,757.7 L241.8,757.9 L242.9,758 L244,758.1 L245.1,758.2 L246.2,758.4 L247.3,758.5 L248.4,758.6 L249.6,758.7 L250.7,758.8 L251.8,759 L253,759.1 L254.2,759.2 L255.3,759.3 L256.5,759.5 L257.7,759.6 L258.8,759.7 L260,759.8 L261.2,760 L262.4,760.1 L263.7,760.2 L264.9,760.3 L266.1,760.4 L267.4,760.6 L268.6,760.7 L269.9,760.8 L271.1,760.9 L272.4,761.1 L273.7,761.2 L275,761.3 L276.3,761.4 L277.6,761.5 L278.9,761.7 L280.2,761.8 L281.5,761.9 L282.9,762 L284.2,762.1 L285.6,762.3 L286.9,762.4 L288.3,762.5 L289.7,762.6 L291.1,762.7 L292.5,762.9 L293.9,763 L295.3,763.1 L296.7,763.2 L298.1,763.3 L299.6,763.5 L301,763.6 L302.5,763.7 L304,763.8 L305.5,763.9 L306.9,764.1 L308.4,764.2 L310,764.3 L311.5,764.4 L313,764.5 L314.5,764.6 L316.1,764.8 L317.6,764.9 L319.2,765 L320.8,765.1 L322.4,765.2 L324,765.3 L325.6,765.5 L327.2,765.6 L328.8,765.7 L330.5,765.8 L332.1,765.9 L333.8,766 L335.5,766.2 L337.1,766.3 L338.8,766.4 L340.5,766.5 L342.3,766.6 L344,766.7 L345.7,766.9 L347.5,767 L349.2,767.1 L351,767.2 L352.8,767.3 L354.6,767.4 L356.4,767.5 L358.2,767.7 L360,767.8 L361.9,767.9 L363.7,768 L365.6,768.1 L367.4,768.2 L369.3,768.3 L371.2,768.5 L373.1,768.6 L375.1,768.7 L377,768.8 L378.9,768.9 L380.9,769 L382.9,769.1 L384.9,769.2 L386.9,769.4 L388.9,769.5 L390.9,769.6 L392.9,769.7 L395,769.8 L397,769.9 L399.1,770 L401.2,770.1 L403.3,770.3 L405.4,770.4 L407.6,770.5 L409.7,770.6 L411.9,770.7 L414,770.8 L416.2,770.9 L418.4,771 L420.6,771.2 L422.9,771.3 L425.1,771.4 L427.3,771.5 L429.6,771.6 L431.9,771.7 L434.2,771.8" fill="none" stroke="#1f6fc0" stroke-width="2.4" stroke-linejoin="round" stroke-linecap="round" />
</g>
<line x1="71.7" y1="492.8" x2="71.7" y2="824.5" stroke="#000" stroke-width="1.1" />
<line x1="66.3" y1="505" x2="72.3" y2="505" stroke="#000" stroke-width="2" />
<text x="53.5" y="512.2" font-size="20.5" text-anchor="end" fill="#000" font-weight="bold" >24</text>
<line x1="66.3" y1="568.9" x2="72.3" y2="568.9" stroke="#000" stroke-width="2" />
<text x="53.5" y="576.1" font-size="20.5" text-anchor="end" fill="#000" font-weight="bold" >19</text>
<line x1="66.3" y1="632.8" x2="72.3" y2="632.8" stroke="#000" stroke-width="2" />
<text x="53.5" y="640" font-size="20.5" text-anchor="end" fill="#000" font-weight="bold" >14</text>
<line x1="66.3" y1="696.7" x2="72.3" y2="696.7" stroke="#000" stroke-width="2" />
<text x="53.5" y="703.9" font-size="20.5" text-anchor="end" fill="#000" font-weight="bold" >9</text>
<line x1="66.3" y1="760.6" x2="72.3" y2="760.6" stroke="#000" stroke-width="2" />
<text x="53.5" y="767.8" font-size="20.5" text-anchor="end" fill="#000" font-weight="bold" >4</text>
<line x1="66.3" y1="824.5" x2="72.3" y2="824.5" stroke="#000" stroke-width="2" />
<text x="53.5" y="831.7" font-size="20.5" text-anchor="end" fill="#000" font-weight="bold" >-1</text>
<line x1="72.3" y1="824.5" x2="72.3" y2="830.5" stroke="#000" stroke-width="2" />
<text x="72.3" y="858.2" font-size="20.5" text-anchor="middle" fill="#000" font-weight="bold" >0</text>
<line x1="175.2" y1="824.5" x2="175.2" y2="830.5" stroke="#000" stroke-width="2" />
<text x="175.2" y="858.2" font-size="20.5" text-anchor="middle" fill="#000" font-weight="bold" >20</text>
<line x1="278.1" y1="824.5" x2="278.1" y2="830.5" stroke="#000" stroke-width="2" />
<text x="278.1" y="858.2" font-size="20.5" text-anchor="middle" fill="#000" font-weight="bold" >40</text>
<line x1="381" y1="824.5" x2="381" y2="830.5" stroke="#000" stroke-width="2" />
<text x="381" y="858.2" font-size="20.5" text-anchor="middle" fill="#000" font-weight="bold" >60</text>
<line x1="483.9" y1="824.5" x2="483.9" y2="830.5" stroke="#000" stroke-width="2" />
<text x="483.9" y="858.2" font-size="20.5" text-anchor="middle" fill="#000" font-weight="bold" >80</text>
<text x="233.6" y="880" font-size="25" text-anchor="middle" fill="#000" font-weight="bold" >t/s</text>
<text x="21.5" y="653.8" font-size="25" text-anchor="middle" fill="#000" font-weight="bold" transform="rotate(-90 21.5 653.8)">I/&#956;A</text>
<text x="447.3" y="761" font-size="13.5" text-anchor="middle" fill="#000" font-weight="bold" >i</text>
<text x="448.8" y="814.3" font-size="14.5" text-anchor="middle" fill="#000" font-weight="bold" >a</text>
<line x1="447.8" y1="803.5" x2="447.8" y2="774" stroke="#000" stroke-width="2.4" />
<path d="M447.9,769 L444.6,776 L451.2,776 Z" fill="#000"/></svg></body></html>
